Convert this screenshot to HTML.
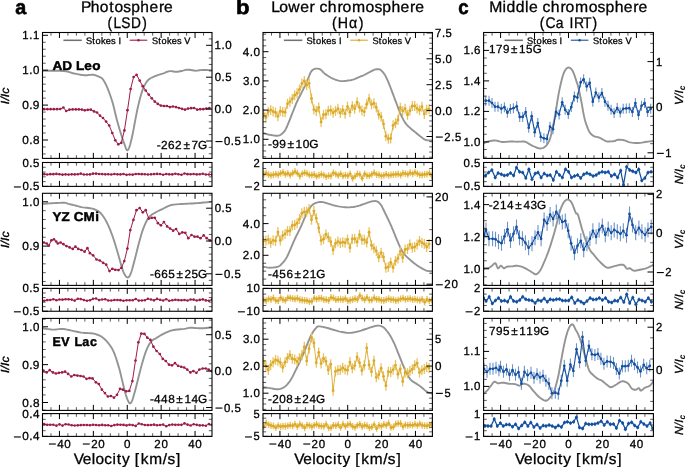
<!DOCTYPE html>
<html><head><meta charset="utf-8"><style>html,body{margin:0;padding:0;background:#fff;width:685px;height:467px;overflow:hidden}svg{will-change:transform}text{-webkit-font-smoothing:antialiased;text-rendering:geometricPrecision}</style></head>
<body>
<svg width="685" height="467" viewBox="0 0 685 467" style="display:block;font-family:'Liberation Sans', sans-serif">
<rect width="685" height="467" fill="#fff"/>
<defs>
<clipPath id="cp_a_m1"><rect x="42.5" y="32.5" width="169.5" height="125.9"/></clipPath>
<clipPath id="cp_a_n1"><rect x="42.5" y="162.5" width="169.5" height="23.9"/></clipPath>
<clipPath id="cp_a_m2"><rect x="42.5" y="193.3" width="169.5" height="92.1"/></clipPath>
<clipPath id="cp_a_n2"><rect x="42.5" y="288.4" width="169.5" height="22.85"/></clipPath>
<clipPath id="cp_a_m3"><rect x="42.5" y="318.4" width="169.5" height="92"/></clipPath>
<clipPath id="cp_a_n3"><rect x="42.5" y="413.6" width="169.5" height="22.8"/></clipPath>
<clipPath id="cp_b_m1"><rect x="263" y="32.5" width="169.4" height="125.9"/></clipPath>
<clipPath id="cp_b_n1"><rect x="263" y="162.5" width="169.4" height="23.9"/></clipPath>
<clipPath id="cp_b_m2"><rect x="263" y="193.3" width="169.4" height="92.1"/></clipPath>
<clipPath id="cp_b_n2"><rect x="263" y="288.4" width="169.4" height="22.85"/></clipPath>
<clipPath id="cp_b_m3"><rect x="263" y="318.4" width="169.4" height="92"/></clipPath>
<clipPath id="cp_b_n3"><rect x="263" y="413.6" width="169.4" height="22.8"/></clipPath>
<clipPath id="cp_c_m1"><rect x="483.6" y="32.5" width="169.8" height="125.9"/></clipPath>
<clipPath id="cp_c_n1"><rect x="483.6" y="162.5" width="169.8" height="23.9"/></clipPath>
<clipPath id="cp_c_m2"><rect x="483.6" y="193.3" width="169.8" height="92.1"/></clipPath>
<clipPath id="cp_c_n2"><rect x="483.6" y="288.4" width="169.8" height="22.85"/></clipPath>
<clipPath id="cp_c_m3"><rect x="483.6" y="318.4" width="169.8" height="92"/></clipPath>
<clipPath id="cp_c_n3"><rect x="483.6" y="413.6" width="169.8" height="22.8"/></clipPath>
</defs>
<polyline clip-path="url(#cp_a_m1)" points="42.5,70.7 45.51,70.71 49.84,70.69 54.77,70.71 59.54,70.79 63.4,71 66.19,71.37 68.41,71.88 70.31,72.45 72.12,73.02 74.1,73.5 76.27,73.92 78.48,74.34 80.67,74.71 82.79,75.01 84.8,75.2 86.69,75.21 88.5,75.06 90.22,74.87 91.85,74.74 93.4,74.8 94.87,75.09 96.27,75.52 97.58,76.04 98.76,76.59 99.8,77.1 100.63,77.49 101.26,77.79 101.8,78.14 102.35,78.67 103,79.5 103.76,80.63 104.56,81.96 105.41,83.52 106.29,85.33 107.2,87.4 108.18,89.8 109.22,92.53 110.29,95.47 111.33,98.52 112.3,101.6 113.19,104.76 114.02,108.07 114.82,111.43 115.6,114.74 116.4,117.9 117.2,120.91 118,123.83 118.8,126.66 119.6,129.42 120.4,132.1 121.24,134.77 122.1,137.43 122.96,139.97 123.77,142.3 124.5,144.3 125.12,146.04 125.65,147.58 126.14,148.84 126.61,149.74 127.1,150.2 127.6,150.2 128.08,149.78 128.57,148.99 129.07,147.85 129.6,146.4 130.17,144.56 130.76,142.32 131.37,139.78 131.99,137.04 132.6,134.2 133.22,131.17 133.84,127.88 134.46,124.47 135.08,121.1 135.7,117.9 136.29,114.91 136.85,112.03 137.43,109.22 138.03,106.42 138.7,103.6 139.43,100.67 140.21,97.67 141.04,94.71 141.9,91.91 142.8,89.4 143.72,87.17 144.67,85.15 145.67,83.34 146.74,81.72 147.9,80.3 149.17,79.14 150.53,78.24 151.97,77.51 153.46,76.86 155,76.2 156.63,75.53 158.36,74.92 160.12,74.35 161.83,73.82 163.4,73.3 164.81,72.77 166.1,72.23 167.34,71.74 168.55,71.34 169.8,71.1 171.08,71.08 172.36,71.26 173.63,71.51 174.91,71.73 176.2,71.8 177.51,71.7 178.85,71.49 180.18,71.23 181.48,70.95 182.7,70.7 183.8,70.44 184.8,70.15 185.78,69.88 186.82,69.68 188,69.6 189.38,69.71 190.89,69.97 192.47,70.28 194.03,70.56 195.5,70.7 196.81,70.66 198,70.5 199.2,70.29 200.49,70.1 202,70 203.94,70 206.23,70.06 208.55,70.15 210.58,70.24 212,70.3" fill="none" stroke="#949494" stroke-width="1.9" stroke-linejoin="round"/>
<polyline clip-path="url(#cp_a_m2)" points="42.5,203.9 43.65,203.82 45.23,203.7 47.13,203.56 49.23,203.42 51.4,203.3 53.85,203.17 56.65,203.02 59.5,202.88 62.12,202.8 64.2,202.8 65.57,202.91 66.43,203.11 67.04,203.35 67.64,203.63 68.5,203.9 69.64,204.17 70.9,204.46 72.23,204.77 73.58,205.08 74.9,205.4 76.16,205.74 77.4,206.09 78.65,206.45 79.97,206.8 81.4,207.1 83.03,207.36 84.82,207.57 86.65,207.77 88.39,207.98 89.9,208.2 91.13,208.41 92.15,208.59 93.07,208.79 93.99,209.08 95,209.5 96.12,210.02 97.27,210.6 98.45,211.31 99.63,212.19 100.8,213.3 101.96,214.65 103.12,216.2 104.29,217.94 105.45,219.87 106.6,222 107.76,224.36 108.93,226.96 110.08,229.73 111.21,232.6 112.3,235.5 113.35,238.49 114.37,241.61 115.36,244.79 116.3,247.91 117.2,250.9 118.04,253.8 118.84,256.67 119.6,259.44 120.32,262.04 121,264.4 121.63,266.5 122.2,268.39 122.74,270.09 123.3,271.62 123.9,273 124.57,274.29 125.27,275.48 125.99,276.47 126.71,277.18 127.4,277.5 128.05,277.47 128.67,277.16 129.28,276.5 129.92,275.47 130.6,274 131.34,271.97 132.11,269.41 132.91,266.52 133.71,263.48 134.5,260.5 135.28,257.51 136.06,254.39 136.85,251.21 137.63,248.09 138.4,245.1 139.16,242.22 139.92,239.38 140.68,236.63 141.44,234.02 142.2,231.6 142.98,229.37 143.76,227.3 144.54,225.38 145.32,223.61 146.1,222 146.85,220.56 147.57,219.29 148.3,218.16 149.06,217.15 149.9,216.2 150.78,215.38 151.67,214.7 152.63,214.09 153.7,213.48 154.9,212.8 156.28,212.04 157.82,211.23 159.45,210.41 161.13,209.6 162.8,208.8 164.41,207.98 165.99,207.14 167.62,206.32 169.4,205.58 171.4,205 173.72,204.6 176.32,204.34 179.03,204.17 181.71,204.04 184.2,203.9 186.47,203.75 188.63,203.64 190.71,203.54 192.79,203.43 194.9,203.3 197.13,203.13 199.43,202.95 201.7,202.75 203.83,202.57 205.7,202.4 207.35,202.25 208.85,202.11 210.15,201.98 211.22,201.88 212,201.8" fill="none" stroke="#949494" stroke-width="1.9" stroke-linejoin="round"/>
<polyline clip-path="url(#cp_a_m3)" points="42.5,328.3 44.03,328.51 46.22,328.82 48.74,329.16 51.28,329.45 53.5,329.6 55.37,329.55 57.11,329.36 58.78,329.12 60.42,328.93 62.1,328.9 63.79,329.05 65.44,329.31 67.11,329.64 68.85,330.02 70.7,330.4 72.74,330.82 74.93,331.31 77.18,331.8 79.37,332.25 81.4,332.6 83.3,332.82 85.12,332.95 86.85,333.03 88.45,333.1 89.9,333.2 91.11,333.3 92.1,333.36 92.99,333.45 93.92,333.61 95,333.9 96.27,334.29 97.64,334.75 99.06,335.32 100.5,336.02 101.9,336.9 103.29,337.99 104.7,339.26 106.1,340.67 107.44,342.16 108.7,343.7 109.84,345.2 110.9,346.68 111.9,348.28 112.89,350.12 113.9,352.3 114.95,354.97 116.03,358.05 117.09,361.34 118.09,364.62 119,367.7 119.79,370.55 120.48,373.3 121.11,376 121.74,378.69 122.4,381.4 123.1,384.23 123.8,387.16 124.5,390.04 125.2,392.74 125.9,395.1 126.6,397.19 127.31,399.11 128,400.75 128.67,402.05 129.3,402.9 129.86,403.3 130.36,403.32 130.84,402.95 131.34,402.21 131.9,401.1 132.51,399.57 133.16,397.62 133.84,395.32 134.55,392.75 135.3,390 136.1,386.94 136.96,383.52 137.84,379.91 138.73,376.31 139.6,372.9 140.46,369.63 141.32,366.37 142.19,363.21 143.05,360.19 143.9,357.4 144.74,354.82 145.58,352.4 146.42,350.16 147.26,348.12 148.1,346.3 148.97,344.7 149.87,343.33 150.76,342.15 151.62,341.14 152.4,340.3 153.06,339.71 153.63,339.39 154.17,339.19 154.76,338.97 155.5,338.6 156.39,338.04 157.37,337.39 158.43,336.69 159.55,335.98 160.7,335.3 161.9,334.64 163.17,333.96 164.48,333.3 165.8,332.67 167.1,332.1 168.31,331.59 169.45,331.13 170.63,330.72 171.94,330.34 173.5,330 175.43,329.72 177.67,329.49 180.02,329.29 182.26,329.1 184.2,328.9 185.7,328.65 186.9,328.38 188,328.12 189.2,327.92 190.7,327.8 192.57,327.82 194.68,327.95 196.93,328.12 199.2,328.26 201.4,328.3 203.7,328.2 206.16,328 208.53,327.76 210.56,327.54 212,327.4" fill="none" stroke="#949494" stroke-width="1.9" stroke-linejoin="round"/>
<polyline clip-path="url(#cp_b_m1)" points="263.2,133.2 264.06,133.43 265.27,133.76 266.7,134.13 268.22,134.5 269.7,134.8 271.22,135.06 272.88,135.33 274.54,135.55 276.08,135.68 277.4,135.7 278.42,135.59 279.24,135.39 279.93,135.09 280.59,134.69 281.3,134.2 282.06,133.65 282.82,133.04 283.58,132.31 284.34,131.42 285.1,130.3 285.88,128.9 286.66,127.25 287.44,125.44 288.22,123.57 289,121.7 289.76,119.83 290.52,117.89 291.28,115.93 292.04,113.95 292.8,112 293.58,110.04 294.36,108.06 295.14,106.1 295.92,104.2 296.7,102.4 297.46,100.74 298.22,99.18 298.98,97.69 299.74,96.21 300.5,94.7 301.28,93.18 302.06,91.67 302.84,90.15 303.62,88.6 304.4,87 305.18,85.29 305.97,83.5 306.75,81.68 307.5,79.93 308.2,78.3 308.84,76.76 309.42,75.27 309.98,73.87 310.53,72.63 311.1,71.6 311.68,70.82 312.25,70.24 312.82,69.82 313.4,69.5 314,69.2 314.62,68.94 315.25,68.75 315.9,68.64 316.55,68.59 317.2,68.6 317.84,68.65 318.48,68.75 319.12,68.92 319.79,69.2 320.5,69.6 321.24,70.19 322,70.93 322.79,71.77 323.62,72.61 324.5,73.4 325.44,74.13 326.43,74.86 327.46,75.57 328.52,76.26 329.6,76.9 330.7,77.51 331.83,78.1 332.98,78.64 334.14,79.15 335.3,79.6 336.45,80.01 337.61,80.38 338.78,80.69 339.94,80.94 341.1,81.1 342.26,81.15 343.42,81.11 344.58,80.99 345.74,80.85 346.9,80.7 348.06,80.56 349.22,80.41 350.38,80.23 351.54,80 352.7,79.7 353.86,79.31 355.02,78.84 356.19,78.32 357.35,77.8 358.5,77.3 359.64,76.85 360.78,76.41 361.92,75.97 363.06,75.51 364.2,75 365.37,74.42 366.56,73.78 367.75,73.12 368.9,72.48 370,71.9 371.05,71.36 372.07,70.83 373.04,70.34 373.96,69.93 374.8,69.6 375.55,69.38 376.22,69.25 376.83,69.18 377.42,69.17 378,69.2 378.55,69.22 379.06,69.26 379.56,69.36 380.09,69.58 380.7,70 381.42,70.64 382.22,71.48 383.05,72.44 383.86,73.46 384.6,74.5 385.25,75.55 385.84,76.64 386.4,77.78 386.94,78.97 387.5,80.2 388.06,81.48 388.62,82.8 389.18,84.16 389.74,85.56 390.3,87 390.87,88.48 391.45,90.02 392.04,91.58 392.62,93.15 393.2,94.7 393.78,96.24 394.36,97.78 394.94,99.32 395.52,100.86 396.1,102.4 396.68,103.96 397.26,105.53 397.84,107.09 398.42,108.62 399,110.1 399.56,111.5 400.11,112.85 400.67,114.16 401.26,115.47 401.9,116.8 402.6,118.19 403.34,119.61 404.13,121.02 404.95,122.37 405.8,123.6 406.7,124.7 407.66,125.71 408.64,126.64 409.63,127.53 410.6,128.4 411.54,129.22 412.47,129.98 413.41,130.72 414.38,131.48 415.4,132.3 416.51,133.23 417.7,134.25 418.9,135.27 420.09,136.25 421.2,137.1 422.2,137.84 423.12,138.51 424.01,139.1 424.95,139.6 426,140 427.28,140.26 428.75,140.4 430.22,140.45 431.5,140.47 432.4,140.5" fill="none" stroke="#949494" stroke-width="1.9" stroke-linejoin="round"/>
<polyline clip-path="url(#cp_b_m2)" points="263.2,266.7 264.11,266.87 265.38,267.12 266.87,267.4 268.46,267.61 270,267.7 271.57,267.66 273.27,267.54 274.97,267.34 276.55,267.06 277.9,266.7 278.95,266.26 279.78,265.74 280.49,265.14 281.16,264.46 281.9,263.7 282.72,262.84 283.55,261.89 284.37,260.86 285.16,259.79 285.9,258.7 286.56,257.6 287.17,256.46 287.75,255.28 288.32,254.06 288.9,252.8 289.5,251.47 290.1,250.08 290.7,248.65 291.3,247.22 291.9,245.8 292.5,244.38 293.1,242.95 293.7,241.53 294.3,240.14 294.9,238.8 295.5,237.53 296.1,236.32 296.71,235.14 297.31,233.98 297.9,232.8 298.48,231.63 299.06,230.49 299.64,229.33 300.22,228.15 300.8,226.9 301.39,225.57 301.99,224.18 302.6,222.75 303.2,221.32 303.8,219.9 304.4,218.47 305,217 305.6,215.56 306.2,214.17 306.8,212.9 307.4,211.74 308,210.67 308.6,209.68 309.2,208.76 309.8,207.9 310.38,207.11 310.95,206.4 311.53,205.74 312.14,205.15 312.8,204.6 313.52,204.09 314.28,203.64 315.08,203.24 315.92,202.89 316.8,202.6 317.75,202.36 318.77,202.18 319.81,202.06 320.84,202 321.8,202 322.63,202.08 323.36,202.22 324.08,202.42 324.93,202.68 326,203 327.36,203.4 328.93,203.9 330.62,204.44 332.35,204.96 334,205.4 335.58,205.78 337.16,206.12 338.74,206.42 340.32,206.68 341.9,206.9 343.5,207.08 345.1,207.22 346.7,207.32 348.3,207.35 349.9,207.3 351.48,207.17 353.06,206.96 354.64,206.7 356.22,206.37 357.8,206 359.43,205.55 361.09,205.02 362.74,204.46 364.33,203.9 365.8,203.4 367.14,202.93 368.38,202.46 369.55,202.03 370.68,201.66 371.8,201.4 372.91,201.21 374,201.08 375.04,201.04 376.05,201.14 377,201.4 377.88,201.82 378.69,202.37 379.46,203.08 380.22,203.95 381,205 381.8,206.3 382.6,207.85 383.41,209.53 384.21,211.24 385,212.9 385.78,214.48 386.56,216.04 387.34,217.62 388.12,219.23 388.9,220.9 389.69,222.62 390.49,224.38 391.3,226.19 392.1,228.03 392.9,229.9 393.7,231.84 394.5,233.84 395.3,235.86 396.1,237.86 396.9,239.8 397.7,241.71 398.5,243.61 399.3,245.46 400.1,247.21 400.9,248.8 401.7,250.23 402.5,251.52 403.3,252.7 404.1,253.78 404.9,254.8 405.67,255.7 406.41,256.46 407.16,257.16 407.98,257.88 408.9,258.7 409.96,259.65 411.12,260.67 412.34,261.72 413.58,262.75 414.8,263.7 415.99,264.58 417.19,265.42 418.4,266.22 419.6,266.98 420.8,267.7 422.01,268.4 423.22,269.09 424.43,269.72 425.63,270.27 426.8,270.7 428.04,270.98 429.34,271.14 430.58,271.22 431.64,271.26 432.4,271.3" fill="none" stroke="#949494" stroke-width="1.9" stroke-linejoin="round"/>
<polyline clip-path="url(#cp_b_m3)" points="263.2,387.3 264.11,387.4 265.38,387.54 266.87,387.71 268.46,387.9 270,388.1 271.54,388.37 273.17,388.7 274.82,389.03 276.42,389.26 277.9,389.3 279.25,389.13 280.53,388.81 281.74,388.37 282.86,387.85 283.9,387.3 284.83,386.72 285.64,386.09 286.4,385.38 287.13,384.59 287.9,383.7 288.7,382.7 289.5,381.61 290.3,380.42 291.1,379.15 291.9,377.8 292.7,376.33 293.5,374.75 294.31,373.1 295.11,371.43 295.9,369.8 296.68,368.21 297.46,366.64 298.24,365.06 299.02,363.46 299.8,361.8 300.59,360.1 301.39,358.36 302.2,356.58 303,354.76 303.8,352.9 304.6,350.95 305.4,348.93 306.2,346.88 307,344.85 307.8,342.9 308.6,340.98 309.4,339.06 310.2,337.2 311,335.46 311.8,333.9 312.62,332.52 313.46,331.28 314.29,330.18 315.08,329.22 315.8,328.4 316.35,327.72 316.74,327.19 317.14,326.8 317.67,326.54 318.5,326.4 319.68,326.42 321.13,326.59 322.73,326.88 324.39,327.23 326,327.6 327.57,328.01 329.17,328.49 330.78,329.01 332.4,329.53 334,330 335.58,330.44 337.16,330.88 338.74,331.3 340.32,331.68 341.9,332 343.5,332.29 345.1,332.55 346.7,332.76 348.3,332.88 349.9,332.9 351.48,332.78 353.06,332.56 354.64,332.25 356.22,331.89 357.8,331.5 359.43,331.06 361.09,330.56 362.74,330.02 364.33,329.49 365.8,329 367.12,328.56 368.33,328.14 369.48,327.73 370.62,327.35 371.8,327 373.05,326.64 374.32,326.26 375.6,325.93 376.83,325.69 378,325.6 379.09,325.66 380.14,325.83 381.14,326.12 382.09,326.51 383,327 383.85,327.6 384.63,328.32 385.39,329.14 386.13,330.04 386.9,331 387.69,332.02 388.49,333.12 389.3,334.3 390.1,335.56 390.9,336.9 391.7,338.33 392.5,339.85 393.3,341.46 394.1,343.14 394.9,344.9 395.7,346.77 396.5,348.76 397.3,350.81 398.1,352.87 398.9,354.9 399.7,356.9 400.5,358.91 401.3,360.91 402.1,362.88 402.9,364.8 403.7,366.71 404.5,368.61 405.31,370.46 406.11,372.21 406.9,373.8 407.68,375.24 408.46,376.56 409.24,377.77 410.02,378.85 410.8,379.8 411.56,380.56 412.3,381.13 413.05,381.61 413.87,382.1 414.8,382.7 415.87,383.41 417.06,384.17 418.3,384.98 419.57,385.82 420.8,386.7 422.01,387.68 423.22,388.77 424.43,389.87 425.63,390.88 426.8,391.7 428.04,392.32 429.34,392.81 430.58,393.19 431.64,393.48 432.4,393.7" fill="none" stroke="#949494" stroke-width="1.9" stroke-linejoin="round"/>
<polyline clip-path="url(#cp_c_m1)" points="483.6,143.5 484.07,143.25 484.71,142.88 485.49,142.46 486.43,142.05 487.5,141.7 488.77,141.38 490.24,141.05 491.83,140.76 493.44,140.56 495,140.5 496.5,140.66 498,141 499.5,141.41 501,141.78 502.5,142 504,142.02 505.5,141.91 507,141.75 508.5,141.59 510,141.5 511.5,141.5 513,141.54 514.5,141.6 516,141.66 517.5,141.7 519.05,141.67 520.64,141.59 522.22,141.53 523.69,141.54 525,141.7 526.09,142.04 527.01,142.53 527.84,143.09 528.64,143.67 529.5,144.2 530.39,144.68 531.26,145.15 532.15,145.61 533.08,146.06 534.1,146.5 535.24,146.98 536.48,147.51 537.76,148 539.02,148.36 540.2,148.5 541.3,148.42 542.36,148.19 543.38,147.79 544.36,147.23 545.3,146.5 546.2,145.61 547.06,144.56 547.89,143.33 548.67,141.92 549.4,140.3 550.07,138.48 550.67,136.46 551.25,134.25 551.81,131.83 552.4,129.2 553.02,126.3 553.64,123.15 554.26,119.81 554.88,116.37 555.5,112.9 556.1,109.3 556.7,105.53 557.3,101.73 557.9,98.04 558.5,94.6 559.12,91.4 559.74,88.34 560.36,85.45 560.98,82.76 561.6,80.3 562.19,78.06 562.76,76.03 563.34,74.2 563.94,72.59 564.6,71.2 565.32,70 566.08,68.98 566.87,68.19 567.68,67.68 568.5,67.5 569.34,67.65 570.21,68.09 571.08,68.82 571.95,69.86 572.8,71.2 573.66,73.08 574.55,75.49 575.41,78.08 576.18,80.5 576.8,82.4 577.2,83.5 577.43,84.02 577.58,84.4 577.77,85.06 578.1,86.4 578.61,88.57 579.22,91.28 579.88,94.34 580.56,97.55 581.2,100.7 581.8,103.93 582.4,107.37 583,110.83 583.6,114.1 584.2,117 584.82,119.48 585.44,121.68 586.06,123.65 586.68,125.44 587.3,127.1 587.89,128.62 588.45,129.97 589.03,131.17 589.63,132.24 590.3,133.2 591.05,134.05 591.86,134.76 592.71,135.36 593.56,135.86 594.4,136.3 595.22,136.62 596.04,136.8 596.87,136.93 597.69,137.07 598.5,137.3 599.3,137.63 600.1,138.02 600.9,138.44 601.7,138.88 602.5,139.3 603.31,139.75 604.13,140.23 604.96,140.71 605.78,141.11 606.6,141.4 607.42,141.54 608.24,141.57 609.06,141.53 609.88,141.46 610.7,141.4 611.53,141.36 612.38,141.31 613.22,141.24 614.03,141.14 614.8,141 615.47,140.77 616.04,140.45 616.62,140.13 617.27,139.85 618.1,139.7 619.14,139.67 620.34,139.73 621.63,139.86 622.94,140.05 624.2,140.3 625.39,140.65 626.54,141.1 627.71,141.6 628.95,142.05 630.3,142.4 631.81,142.64 633.43,142.83 635.13,142.96 636.83,143.02 638.5,143 640.15,142.87 641.81,142.63 643.46,142.34 645.06,142.04 646.6,141.8 648.15,141.6 649.74,141.41 651.23,141.24 652.5,141.1 653.4,141" fill="none" stroke="#949494" stroke-width="1.9" stroke-linejoin="round"/>
<polyline clip-path="url(#cp_c_m2)" points="483.6,268.3 484.37,268.24 485.49,268.17 486.75,268.07 487.99,267.92 489,267.7 489.75,267.4 490.35,267.02 490.89,266.6 491.41,266.15 492,265.7 492.67,265.13 493.37,264.41 494.08,263.75 494.76,263.31 495.4,263.3 495.97,263.95 496.48,265.13 496.98,266.49 497.47,267.67 498,268.3 498.56,268.18 499.13,267.56 499.72,266.73 500.31,266.01 500.9,265.7 501.49,265.95 502.09,266.57 502.7,267.31 503.3,267.97 503.9,268.3 504.45,268.23 504.96,267.9 505.48,267.46 506.11,267.01 506.9,266.7 507.94,266.55 509.18,266.46 510.5,266.42 511.78,266.37 512.9,266.3 513.8,266.16 514.55,265.98 515.26,265.81 516.01,265.7 516.9,265.7 517.97,265.83 519.17,266.06 520.41,266.36 521.65,266.71 522.8,267.1 523.87,267.54 524.9,268.05 525.9,268.6 526.87,269.16 527.8,269.7 528.69,270.23 529.55,270.77 530.37,271.3 531.19,271.82 532,272.3 532.81,272.83 533.61,273.41 534.41,273.93 535.2,274.27 536,274.3 536.8,274.01 537.6,273.47 538.41,272.73 539.21,271.79 540,270.7 540.78,269.41 541.56,267.91 542.34,266.25 543.12,264.49 543.9,262.7 544.69,260.88 545.49,258.98 546.3,257 547.1,254.94 547.9,252.8 548.7,250.56 549.5,248.24 550.3,245.84 551.1,243.36 551.9,240.8 552.72,238.11 553.55,235.29 554.37,232.41 555.16,229.59 555.9,226.9 556.56,224.33 557.17,221.82 557.75,219.39 558.32,217.08 558.9,214.9 559.5,212.84 560.1,210.89 560.7,209.06 561.3,207.39 561.9,205.9 562.5,204.6 563.09,203.48 563.68,202.51 564.28,201.69 564.9,201 565.54,200.42 566.18,199.96 566.84,199.65 567.52,199.52 568.2,199.6 568.89,199.87 569.6,200.3 570.32,200.94 571.05,201.83 571.8,203 572.6,204.69 573.46,206.87 574.31,209.2 575.11,211.32 575.8,212.9 576.33,213.61 576.72,213.69 577.08,213.62 577.47,213.86 578,214.9 578.69,216.97 579.48,219.74 580.32,222.88 581.18,226.04 582,228.9 582.78,231.46 583.56,233.95 584.34,236.35 585.12,238.64 585.9,240.8 586.69,242.85 587.49,244.8 588.3,246.63 589.1,248.3 589.9,249.8 590.7,251.06 591.5,252.09 592.3,253 593.1,253.87 593.9,254.8 594.7,255.8 595.5,256.81 596.3,257.81 597.1,258.78 597.9,259.7 598.7,260.57 599.5,261.39 600.3,262.19 601.1,262.95 601.9,263.7 602.72,264.46 603.55,265.24 604.38,265.97 605.17,266.61 605.9,267.1 606.52,267.43 607.04,267.64 607.54,267.74 608.1,267.75 608.8,267.7 609.71,267.54 610.78,267.25 611.9,266.9 612.95,266.56 613.8,266.3 614.34,266.14 614.65,266.02 614.91,265.93 615.3,265.83 616,265.7 617.14,265.45 618.6,265.09 620.19,264.76 621.72,264.59 623,264.7 623.99,265.25 624.83,266.15 625.55,267.18 626.23,268.1 626.9,268.7 627.54,268.86 628.12,268.72 628.67,268.47 629.25,268.27 629.9,268.3 630.6,268.66 631.33,269.22 632.11,269.85 632.96,270.39 633.9,270.7 634.97,270.72 636.16,270.56 637.4,270.29 638.67,269.98 639.9,269.7 641.1,269.46 642.3,269.23 643.51,268.97 644.71,268.66 645.9,268.3 647.16,267.83 648.47,267.28 649.75,266.7 650.9,266.15 651.8,265.7 652.42,265.35 652.83,265.06 653.08,264.83 653.25,264.64 653.4,264.5" fill="none" stroke="#949494" stroke-width="1.9" stroke-linejoin="round"/>
<polyline clip-path="url(#cp_c_m3)" points="483.6,393.7 484.05,393.32 484.69,392.81 485.43,392.19 486.23,391.48 487,390.7 487.77,389.81 488.59,388.8 489.41,387.72 490.23,386.67 491,385.7 491.72,384.75 492.39,383.76 493.05,382.85 493.72,382.13 494.4,381.7 495.09,381.7 495.76,382.04 496.46,382.55 497.19,383.03 498,383.3 498.88,383.3 499.81,383.14 500.8,382.93 501.83,382.75 502.9,382.7 504.03,382.81 505.22,383.01 506.45,383.27 507.68,383.51 508.9,383.7 510.12,383.8 511.35,383.85 512.57,383.88 513.76,383.95 514.9,384.1 516,384.4 517.07,384.83 518.1,385.26 519.05,385.59 519.9,385.7 520.57,385.47 521.08,384.99 521.55,384.42 522.08,383.93 522.8,383.7 523.75,383.7 524.85,383.81 526.03,384.07 527.24,384.52 528.4,385.2 529.51,386.19 530.62,387.46 531.73,388.9 532.85,390.35 534,391.7 535.18,392.98 536.38,394.28 537.59,395.54 538.8,396.7 540,397.7 541.22,398.59 542.46,399.4 543.68,400.08 544.84,400.53 545.9,400.7 546.82,400.53 547.64,400.08 548.39,399.4 549.13,398.59 549.9,397.7 550.7,396.82 551.5,395.9 552.3,394.81 553.1,393.45 553.9,391.7 554.72,389.46 555.55,386.81 556.37,383.89 557.16,380.84 557.9,377.8 558.56,374.73 559.17,371.55 559.75,368.29 560.32,365.03 560.9,361.8 561.5,358.55 562.1,355.25 562.71,351.97 563.31,348.83 563.9,345.9 564.48,343.18 565.06,340.6 565.64,338.19 566.22,335.95 566.8,333.9 567.39,332.02 567.99,330.31 568.6,328.78 569.2,327.47 569.8,326.4 570.4,325.54 571,324.88 571.6,324.46 572.2,324.32 572.8,324.5 573.41,325.15 574.04,326.24 574.66,327.56 575.25,328.88 575.8,330 576.28,330.82 576.7,331.48 577.1,332.12 577.52,332.88 578,333.9 578.53,335.14 579.1,336.52 579.7,338.08 580.33,339.86 581,341.9 581.72,344.3 582.49,347.03 583.29,349.95 584.1,352.92 584.9,355.8 585.69,358.74 586.49,361.82 587.3,364.84 588.1,367.57 588.9,369.8 589.68,371.39 590.45,372.5 591.23,373.3 592.04,374.01 592.9,374.8 593.85,375.7 594.88,376.57 595.92,377.4 596.95,378.15 597.9,378.8 598.75,379.28 599.52,379.61 600.28,379.89 601.05,380.22 601.9,380.7 602.85,381.39 603.88,382.22 604.93,383.11 605.95,383.96 606.9,384.7 607.73,385.38 608.48,386.05 609.2,386.63 609.95,387.04 610.8,387.2 611.74,387.03 612.75,386.6 613.8,386 614.89,385.34 616,384.7 617.15,383.99 618.35,383.15 619.57,382.31 620.79,381.65 622,381.3 623.22,381.3 624.46,381.55 625.68,382 626.84,382.6 627.9,383.3 628.82,384.23 629.64,385.43 630.39,386.69 631.13,387.85 631.9,388.7 632.72,389.22 633.55,389.54 634.37,389.7 635.16,389.74 635.9,389.7 636.58,389.48 637.22,389.05 637.82,388.56 638.38,388.19 638.9,388.1 639.33,388.44 639.68,389.11 640,389.86 640.39,390.47 640.9,390.7 641.56,390.44 642.31,389.86 643.14,389.1 644.01,388.33 644.9,387.7 645.84,387.28 646.86,386.95 647.89,386.63 648.89,386.24 649.8,385.7 650.66,384.89 651.51,383.86 652.28,382.8 652.93,381.85 653.4,381.2" fill="none" stroke="#949494" stroke-width="1.9" stroke-linejoin="round"/>
<g clip-path="url(#cp_a_m1)"><polyline points="44.1,109.2 47.4,109.2 50.6,109.2 53.8,109.2 57,109.2 60.2,109 63.4,107.5 66.2,111 69.4,109.7 72.6,109.4 75.8,109.4 78.8,109.4 81.8,109.6 84.8,110.3 87.8,109.8 90.8,109.7 94,111.4 97,112.5 100,115.7 103,118 106.1,121.6 109.2,125.5 112.3,133 115.3,140.3 118.3,144.3 121.3,142.8 124.4,130.4 127.5,110.2 130.6,89 133.6,77 136.6,74.8 139.7,80.6 142.7,86.2 145.7,90.5 148.7,94.6 151.8,98.3 154.8,101.7 157.8,103.9 160.8,105.6 163.9,106 166.9,106 169.9,107.1 172.9,106.5 176,107.1 179,108 182,108.8 185,109.7 188,108.6 191.1,108.2 194.1,108 197.2,109.7 200.2,109.2 203.3,109.2 206.3,108.6 209.4,108.2" fill="none" stroke="#9c1c48" stroke-width="1.0" stroke-linejoin="round"/><g fill="#9c1c48"><circle cx="44.1" cy="109.2" r="1.35"/><circle cx="47.4" cy="109.2" r="1.35"/><circle cx="50.6" cy="109.2" r="1.35"/><circle cx="53.8" cy="109.2" r="1.35"/><circle cx="57" cy="109.2" r="1.35"/><circle cx="60.2" cy="109" r="1.35"/><circle cx="63.4" cy="107.5" r="1.35"/><circle cx="66.2" cy="111" r="1.35"/><circle cx="69.4" cy="109.7" r="1.35"/><circle cx="72.6" cy="109.4" r="1.35"/><circle cx="75.8" cy="109.4" r="1.35"/><circle cx="78.8" cy="109.4" r="1.35"/><circle cx="81.8" cy="109.6" r="1.35"/><circle cx="84.8" cy="110.3" r="1.35"/><circle cx="87.8" cy="109.8" r="1.35"/><circle cx="90.8" cy="109.7" r="1.35"/><circle cx="94" cy="111.4" r="1.35"/><circle cx="97" cy="112.5" r="1.35"/><circle cx="100" cy="115.7" r="1.35"/><circle cx="103" cy="118" r="1.35"/><circle cx="106.1" cy="121.6" r="1.35"/><circle cx="109.2" cy="125.5" r="1.35"/><circle cx="112.3" cy="133" r="1.35"/><circle cx="115.3" cy="140.3" r="1.35"/><circle cx="118.3" cy="144.3" r="1.35"/><circle cx="121.3" cy="142.8" r="1.35"/><circle cx="124.4" cy="130.4" r="1.35"/><circle cx="127.5" cy="110.2" r="1.35"/><circle cx="130.6" cy="89" r="1.35"/><circle cx="133.6" cy="77" r="1.35"/><circle cx="136.6" cy="74.8" r="1.35"/><circle cx="139.7" cy="80.6" r="1.35"/><circle cx="142.7" cy="86.2" r="1.35"/><circle cx="145.7" cy="90.5" r="1.35"/><circle cx="148.7" cy="94.6" r="1.35"/><circle cx="151.8" cy="98.3" r="1.35"/><circle cx="154.8" cy="101.7" r="1.35"/><circle cx="157.8" cy="103.9" r="1.35"/><circle cx="160.8" cy="105.6" r="1.35"/><circle cx="163.9" cy="106" r="1.35"/><circle cx="166.9" cy="106" r="1.35"/><circle cx="169.9" cy="107.1" r="1.35"/><circle cx="172.9" cy="106.5" r="1.35"/><circle cx="176" cy="107.1" r="1.35"/><circle cx="179" cy="108" r="1.35"/><circle cx="182" cy="108.8" r="1.35"/><circle cx="185" cy="109.7" r="1.35"/><circle cx="188" cy="108.6" r="1.35"/><circle cx="191.1" cy="108.2" r="1.35"/><circle cx="194.1" cy="108" r="1.35"/><circle cx="197.2" cy="109.7" r="1.35"/><circle cx="200.2" cy="109.2" r="1.35"/><circle cx="203.3" cy="109.2" r="1.35"/><circle cx="206.3" cy="108.6" r="1.35"/><circle cx="209.4" cy="108.2" r="1.35"/></g></g>
<g clip-path="url(#cp_a_m2)"><polyline points="43.9,242.5 46.7,243.5 48.8,245.7 51.4,240.3 54,239.3 56.2,241.5 57.8,243.5 60.6,242.5 63.4,244.2 66.4,246.1 69.6,247.4 72.8,248.9 75.4,246.7 78.2,248.9 81.4,250 84.6,251.7 87.4,248.2 89.9,253.2 93.1,255.3 96.5,259.5 99.8,260.5 103.1,262.8 106.2,264.7 109.5,271.1 112.3,268.8 115.2,269.8 118.5,270.1 121.4,267.8 124.3,261.1 127.4,248.6 130.3,230.1 133.4,219.9 136.5,210.2 139.7,208 142.8,212.3 145.7,210.2 148.8,218.6 151.8,217.8 154.8,217.8 157.9,223.2 160.9,225.3 163.9,222.1 167.1,226.4 170.1,228.5 173.1,230.7 176.1,229 179.3,233.9 182.3,232.4 185.3,232.8 188.3,238.2 191.5,235 194.5,236.7 197.5,236.7 200.5,238.2 203.7,235.4 206.7,238.2 209.9,240.3" fill="none" stroke="#9c1c48" stroke-width="1.0" stroke-linejoin="round"/><g fill="#9c1c48"><circle cx="43.9" cy="242.5" r="1.35"/><circle cx="46.7" cy="243.5" r="1.35"/><circle cx="48.8" cy="245.7" r="1.35"/><circle cx="51.4" cy="240.3" r="1.35"/><circle cx="54" cy="239.3" r="1.35"/><circle cx="56.2" cy="241.5" r="1.35"/><circle cx="57.8" cy="243.5" r="1.35"/><circle cx="60.6" cy="242.5" r="1.35"/><circle cx="63.4" cy="244.2" r="1.35"/><circle cx="66.4" cy="246.1" r="1.35"/><circle cx="69.6" cy="247.4" r="1.35"/><circle cx="72.8" cy="248.9" r="1.35"/><circle cx="75.4" cy="246.7" r="1.35"/><circle cx="78.2" cy="248.9" r="1.35"/><circle cx="81.4" cy="250" r="1.35"/><circle cx="84.6" cy="251.7" r="1.35"/><circle cx="87.4" cy="248.2" r="1.35"/><circle cx="89.9" cy="253.2" r="1.35"/><circle cx="93.1" cy="255.3" r="1.35"/><circle cx="96.5" cy="259.5" r="1.35"/><circle cx="99.8" cy="260.5" r="1.35"/><circle cx="103.1" cy="262.8" r="1.35"/><circle cx="106.2" cy="264.7" r="1.35"/><circle cx="109.5" cy="271.1" r="1.35"/><circle cx="112.3" cy="268.8" r="1.35"/><circle cx="115.2" cy="269.8" r="1.35"/><circle cx="118.5" cy="270.1" r="1.35"/><circle cx="121.4" cy="267.8" r="1.35"/><circle cx="124.3" cy="261.1" r="1.35"/><circle cx="127.4" cy="248.6" r="1.35"/><circle cx="130.3" cy="230.1" r="1.35"/><circle cx="133.4" cy="219.9" r="1.35"/><circle cx="136.5" cy="210.2" r="1.35"/><circle cx="139.7" cy="208" r="1.35"/><circle cx="142.8" cy="212.3" r="1.35"/><circle cx="145.7" cy="210.2" r="1.35"/><circle cx="148.8" cy="218.6" r="1.35"/><circle cx="151.8" cy="217.8" r="1.35"/><circle cx="154.8" cy="217.8" r="1.35"/><circle cx="157.9" cy="223.2" r="1.35"/><circle cx="160.9" cy="225.3" r="1.35"/><circle cx="163.9" cy="222.1" r="1.35"/><circle cx="167.1" cy="226.4" r="1.35"/><circle cx="170.1" cy="228.5" r="1.35"/><circle cx="173.1" cy="230.7" r="1.35"/><circle cx="176.1" cy="229" r="1.35"/><circle cx="179.3" cy="233.9" r="1.35"/><circle cx="182.3" cy="232.4" r="1.35"/><circle cx="185.3" cy="232.8" r="1.35"/><circle cx="188.3" cy="238.2" r="1.35"/><circle cx="191.5" cy="235" r="1.35"/><circle cx="194.5" cy="236.7" r="1.35"/><circle cx="197.5" cy="236.7" r="1.35"/><circle cx="200.5" cy="238.2" r="1.35"/><circle cx="203.7" cy="235.4" r="1.35"/><circle cx="206.7" cy="238.2" r="1.35"/><circle cx="209.9" cy="240.3" r="1.35"/></g></g>
<g clip-path="url(#cp_a_m3)"><polyline points="43.5,370.7 46.7,372.4 49.7,370.2 52.9,372.4 55.9,373.5 58.9,372.8 62.1,372.4 65.1,371.7 68.1,373.9 71.3,376.5 74.3,375 77.3,375.6 80.5,376 83.5,376.5 86.5,378.8 89.5,378.2 92.5,378.4 95.9,382.3 98.8,384 101.9,389.7 104.9,393.1 107.9,396.5 110.9,396 114,397.7 117,394.8 120,388.8 122.9,389.7 126.2,391.3 129.3,390.9 132.4,381.1 135.5,360.5 138.4,342.3 141.3,333.6 144.4,333.9 147.3,337.7 150.4,339.9 153.4,346.7 156.6,351 159.8,354 162.8,358.9 165.8,361 169,364.7 172,365.3 175,363.2 178,365.8 181.2,366.8 184.2,367.5 187.2,369.6 190.4,372.4 193.4,371.1 196.4,372.8 199.4,369.6 202.7,368.5 205.7,368.5 208.7,369.6 211.6,371.1" fill="none" stroke="#9c1c48" stroke-width="1.0" stroke-linejoin="round"/><g fill="#9c1c48"><circle cx="43.5" cy="370.7" r="1.35"/><circle cx="46.7" cy="372.4" r="1.35"/><circle cx="49.7" cy="370.2" r="1.35"/><circle cx="52.9" cy="372.4" r="1.35"/><circle cx="55.9" cy="373.5" r="1.35"/><circle cx="58.9" cy="372.8" r="1.35"/><circle cx="62.1" cy="372.4" r="1.35"/><circle cx="65.1" cy="371.7" r="1.35"/><circle cx="68.1" cy="373.9" r="1.35"/><circle cx="71.3" cy="376.5" r="1.35"/><circle cx="74.3" cy="375" r="1.35"/><circle cx="77.3" cy="375.6" r="1.35"/><circle cx="80.5" cy="376" r="1.35"/><circle cx="83.5" cy="376.5" r="1.35"/><circle cx="86.5" cy="378.8" r="1.35"/><circle cx="89.5" cy="378.2" r="1.35"/><circle cx="92.5" cy="378.4" r="1.35"/><circle cx="95.9" cy="382.3" r="1.35"/><circle cx="98.8" cy="384" r="1.35"/><circle cx="101.9" cy="389.7" r="1.35"/><circle cx="104.9" cy="393.1" r="1.35"/><circle cx="107.9" cy="396.5" r="1.35"/><circle cx="110.9" cy="396" r="1.35"/><circle cx="114" cy="397.7" r="1.35"/><circle cx="117" cy="394.8" r="1.35"/><circle cx="120" cy="388.8" r="1.35"/><circle cx="122.9" cy="389.7" r="1.35"/><circle cx="126.2" cy="391.3" r="1.35"/><circle cx="129.3" cy="390.9" r="1.35"/><circle cx="132.4" cy="381.1" r="1.35"/><circle cx="135.5" cy="360.5" r="1.35"/><circle cx="138.4" cy="342.3" r="1.35"/><circle cx="141.3" cy="333.6" r="1.35"/><circle cx="144.4" cy="333.9" r="1.35"/><circle cx="147.3" cy="337.7" r="1.35"/><circle cx="150.4" cy="339.9" r="1.35"/><circle cx="153.4" cy="346.7" r="1.35"/><circle cx="156.6" cy="351" r="1.35"/><circle cx="159.8" cy="354" r="1.35"/><circle cx="162.8" cy="358.9" r="1.35"/><circle cx="165.8" cy="361" r="1.35"/><circle cx="169" cy="364.7" r="1.35"/><circle cx="172" cy="365.3" r="1.35"/><circle cx="175" cy="363.2" r="1.35"/><circle cx="178" cy="365.8" r="1.35"/><circle cx="181.2" cy="366.8" r="1.35"/><circle cx="184.2" cy="367.5" r="1.35"/><circle cx="187.2" cy="369.6" r="1.35"/><circle cx="190.4" cy="372.4" r="1.35"/><circle cx="193.4" cy="371.1" r="1.35"/><circle cx="196.4" cy="372.8" r="1.35"/><circle cx="199.4" cy="369.6" r="1.35"/><circle cx="202.7" cy="368.5" r="1.35"/><circle cx="205.7" cy="368.5" r="1.35"/><circle cx="208.7" cy="369.6" r="1.35"/><circle cx="211.6" cy="371.1" r="1.35"/></g></g>
<g clip-path="url(#cp_a_n1)"><polyline points="44.2,174.16 47.25,174.43 50.3,174.17 53.35,174.14 56.4,173.92 59.45,174.18 62.5,174.64 65.55,174.4 68.6,174.61 71.65,174.34 74.7,174.39 77.75,174.31 80.8,173.67 83.85,174.55 86.9,174.43 89.95,174.42 93,173.66 96.05,173.64 99.1,173.94 102.15,174.09 105.2,174.36 108.25,174.23 111.3,174.43 114.35,174.03 117.4,174.36 120.45,174.39 123.5,174.02 126.55,174.85 129.6,174.44 132.65,174.67 135.7,174.03 138.75,173.99 141.8,174.13 144.85,174.21 147.9,174.47 150.95,174.34 154,174.09 157.05,173.92 160.1,174.07 163.15,174.68 166.2,173.97 169.25,174.34 172.3,174.4 175.35,173.73 178.4,174.27 181.45,174.71 184.5,173.54 187.55,174.14 190.6,174.21 193.65,173.96 196.7,174.42 199.75,174.23 202.8,173.74 205.85,174.54 208.9,174.48 211.95,174.58" fill="none" stroke="#9c1c48" stroke-width="1.0" stroke-linejoin="round"/><g fill="#9c1c48"><circle cx="44.2" cy="174.16" r="1.3"/><circle cx="47.25" cy="174.43" r="1.3"/><circle cx="50.3" cy="174.17" r="1.3"/><circle cx="53.35" cy="174.14" r="1.3"/><circle cx="56.4" cy="173.92" r="1.3"/><circle cx="59.45" cy="174.18" r="1.3"/><circle cx="62.5" cy="174.64" r="1.3"/><circle cx="65.55" cy="174.4" r="1.3"/><circle cx="68.6" cy="174.61" r="1.3"/><circle cx="71.65" cy="174.34" r="1.3"/><circle cx="74.7" cy="174.39" r="1.3"/><circle cx="77.75" cy="174.31" r="1.3"/><circle cx="80.8" cy="173.67" r="1.3"/><circle cx="83.85" cy="174.55" r="1.3"/><circle cx="86.9" cy="174.43" r="1.3"/><circle cx="89.95" cy="174.42" r="1.3"/><circle cx="93" cy="173.66" r="1.3"/><circle cx="96.05" cy="173.64" r="1.3"/><circle cx="99.1" cy="173.94" r="1.3"/><circle cx="102.15" cy="174.09" r="1.3"/><circle cx="105.2" cy="174.36" r="1.3"/><circle cx="108.25" cy="174.23" r="1.3"/><circle cx="111.3" cy="174.43" r="1.3"/><circle cx="114.35" cy="174.03" r="1.3"/><circle cx="117.4" cy="174.36" r="1.3"/><circle cx="120.45" cy="174.39" r="1.3"/><circle cx="123.5" cy="174.02" r="1.3"/><circle cx="126.55" cy="174.85" r="1.3"/><circle cx="129.6" cy="174.44" r="1.3"/><circle cx="132.65" cy="174.67" r="1.3"/><circle cx="135.7" cy="174.03" r="1.3"/><circle cx="138.75" cy="173.99" r="1.3"/><circle cx="141.8" cy="174.13" r="1.3"/><circle cx="144.85" cy="174.21" r="1.3"/><circle cx="147.9" cy="174.47" r="1.3"/><circle cx="150.95" cy="174.34" r="1.3"/><circle cx="154" cy="174.09" r="1.3"/><circle cx="157.05" cy="173.92" r="1.3"/><circle cx="160.1" cy="174.07" r="1.3"/><circle cx="163.15" cy="174.68" r="1.3"/><circle cx="166.2" cy="173.97" r="1.3"/><circle cx="169.25" cy="174.34" r="1.3"/><circle cx="172.3" cy="174.4" r="1.3"/><circle cx="175.35" cy="173.73" r="1.3"/><circle cx="178.4" cy="174.27" r="1.3"/><circle cx="181.45" cy="174.71" r="1.3"/><circle cx="184.5" cy="173.54" r="1.3"/><circle cx="187.55" cy="174.14" r="1.3"/><circle cx="190.6" cy="174.21" r="1.3"/><circle cx="193.65" cy="173.96" r="1.3"/><circle cx="196.7" cy="174.42" r="1.3"/><circle cx="199.75" cy="174.23" r="1.3"/><circle cx="202.8" cy="173.74" r="1.3"/><circle cx="205.85" cy="174.54" r="1.3"/><circle cx="208.9" cy="174.48" r="1.3"/><circle cx="211.95" cy="174.58" r="1.3"/></g></g>
<g clip-path="url(#cp_a_n2)"><polyline points="44.2,300.69 47.25,300.1 50.3,299.97 53.35,299.19 56.4,300.24 59.45,299.56 62.5,299.65 65.55,299.2 68.6,299.37 71.65,299.61 74.7,300.61 77.75,298.78 80.8,299.1 83.85,300.03 86.9,300.69 89.95,300.22 93,298.86 96.05,298.51 99.1,300.1 102.15,299.5 105.2,299.28 108.25,300.44 111.3,300.51 114.35,299.99 117.4,300.04 120.45,300.14 123.5,300.78 126.55,300.24 129.6,300.19 132.65,300.2 135.7,299.04 138.75,300.6 141.8,300.43 144.85,300.19 147.9,298.81 150.95,299.55 154,300.36 157.05,298.9 160.1,299.8 163.15,300.46 166.2,299.18 169.25,300.79 172.3,300.2 175.35,299.82 178.4,300.08 181.45,300.26 184.5,299.97 187.55,300.53 190.6,299.54 193.65,299.67 196.7,300.47 199.75,299.91 202.8,299.42 205.85,300.42 208.9,300.71 211.95,299.66" fill="none" stroke="#9c1c48" stroke-width="1.0" stroke-linejoin="round"/><g fill="#9c1c48"><circle cx="44.2" cy="300.69" r="1.3"/><circle cx="47.25" cy="300.1" r="1.3"/><circle cx="50.3" cy="299.97" r="1.3"/><circle cx="53.35" cy="299.19" r="1.3"/><circle cx="56.4" cy="300.24" r="1.3"/><circle cx="59.45" cy="299.56" r="1.3"/><circle cx="62.5" cy="299.65" r="1.3"/><circle cx="65.55" cy="299.2" r="1.3"/><circle cx="68.6" cy="299.37" r="1.3"/><circle cx="71.65" cy="299.61" r="1.3"/><circle cx="74.7" cy="300.61" r="1.3"/><circle cx="77.75" cy="298.78" r="1.3"/><circle cx="80.8" cy="299.1" r="1.3"/><circle cx="83.85" cy="300.03" r="1.3"/><circle cx="86.9" cy="300.69" r="1.3"/><circle cx="89.95" cy="300.22" r="1.3"/><circle cx="93" cy="298.86" r="1.3"/><circle cx="96.05" cy="298.51" r="1.3"/><circle cx="99.1" cy="300.1" r="1.3"/><circle cx="102.15" cy="299.5" r="1.3"/><circle cx="105.2" cy="299.28" r="1.3"/><circle cx="108.25" cy="300.44" r="1.3"/><circle cx="111.3" cy="300.51" r="1.3"/><circle cx="114.35" cy="299.99" r="1.3"/><circle cx="117.4" cy="300.04" r="1.3"/><circle cx="120.45" cy="300.14" r="1.3"/><circle cx="123.5" cy="300.78" r="1.3"/><circle cx="126.55" cy="300.24" r="1.3"/><circle cx="129.6" cy="300.19" r="1.3"/><circle cx="132.65" cy="300.2" r="1.3"/><circle cx="135.7" cy="299.04" r="1.3"/><circle cx="138.75" cy="300.6" r="1.3"/><circle cx="141.8" cy="300.43" r="1.3"/><circle cx="144.85" cy="300.19" r="1.3"/><circle cx="147.9" cy="298.81" r="1.3"/><circle cx="150.95" cy="299.55" r="1.3"/><circle cx="154" cy="300.36" r="1.3"/><circle cx="157.05" cy="298.9" r="1.3"/><circle cx="160.1" cy="299.8" r="1.3"/><circle cx="163.15" cy="300.46" r="1.3"/><circle cx="166.2" cy="299.18" r="1.3"/><circle cx="169.25" cy="300.79" r="1.3"/><circle cx="172.3" cy="300.2" r="1.3"/><circle cx="175.35" cy="299.82" r="1.3"/><circle cx="178.4" cy="300.08" r="1.3"/><circle cx="181.45" cy="300.26" r="1.3"/><circle cx="184.5" cy="299.97" r="1.3"/><circle cx="187.55" cy="300.53" r="1.3"/><circle cx="190.6" cy="299.54" r="1.3"/><circle cx="193.65" cy="299.67" r="1.3"/><circle cx="196.7" cy="300.47" r="1.3"/><circle cx="199.75" cy="299.91" r="1.3"/><circle cx="202.8" cy="299.42" r="1.3"/><circle cx="205.85" cy="300.42" r="1.3"/><circle cx="208.9" cy="300.71" r="1.3"/><circle cx="211.95" cy="299.66" r="1.3"/></g></g>
<g clip-path="url(#cp_a_n3)"><polyline points="44.2,424.14 47.25,424.83 50.3,424.82 53.35,424.74 56.4,425.67 59.45,424.34 62.5,425.59 65.55,424.2 68.6,424.47 71.65,425.25 74.7,425.52 77.75,425.37 80.8,425.09 83.85,424.98 86.9,424.98 89.95,425.22 93,424.8 96.05,425.05 99.1,425.21 102.15,424.9 105.2,425.32 108.25,425.21 111.3,426.01 114.35,425.08 117.4,424.66 120.45,424.7 123.5,424.89 126.55,425.41 129.6,424.71 132.65,425.11 135.7,425.91 138.75,423.49 141.8,424.28 144.85,425.03 147.9,425.12 150.95,425.03 154,424.66 157.05,425.26 160.1,425.06 163.15,424.61 166.2,426.24 169.25,425.1 172.3,424.6 175.35,424.85 178.4,424.78 181.45,424.87 184.5,423.4 187.55,424.63 190.6,425.45 193.65,424.26 196.7,424.86 199.75,425.42 202.8,425.37 205.85,425.72 208.9,423.96 211.95,424.71" fill="none" stroke="#9c1c48" stroke-width="1.0" stroke-linejoin="round"/><g fill="#9c1c48"><circle cx="44.2" cy="424.14" r="1.3"/><circle cx="47.25" cy="424.83" r="1.3"/><circle cx="50.3" cy="424.82" r="1.3"/><circle cx="53.35" cy="424.74" r="1.3"/><circle cx="56.4" cy="425.67" r="1.3"/><circle cx="59.45" cy="424.34" r="1.3"/><circle cx="62.5" cy="425.59" r="1.3"/><circle cx="65.55" cy="424.2" r="1.3"/><circle cx="68.6" cy="424.47" r="1.3"/><circle cx="71.65" cy="425.25" r="1.3"/><circle cx="74.7" cy="425.52" r="1.3"/><circle cx="77.75" cy="425.37" r="1.3"/><circle cx="80.8" cy="425.09" r="1.3"/><circle cx="83.85" cy="424.98" r="1.3"/><circle cx="86.9" cy="424.98" r="1.3"/><circle cx="89.95" cy="425.22" r="1.3"/><circle cx="93" cy="424.8" r="1.3"/><circle cx="96.05" cy="425.05" r="1.3"/><circle cx="99.1" cy="425.21" r="1.3"/><circle cx="102.15" cy="424.9" r="1.3"/><circle cx="105.2" cy="425.32" r="1.3"/><circle cx="108.25" cy="425.21" r="1.3"/><circle cx="111.3" cy="426.01" r="1.3"/><circle cx="114.35" cy="425.08" r="1.3"/><circle cx="117.4" cy="424.66" r="1.3"/><circle cx="120.45" cy="424.7" r="1.3"/><circle cx="123.5" cy="424.89" r="1.3"/><circle cx="126.55" cy="425.41" r="1.3"/><circle cx="129.6" cy="424.71" r="1.3"/><circle cx="132.65" cy="425.11" r="1.3"/><circle cx="135.7" cy="425.91" r="1.3"/><circle cx="138.75" cy="423.49" r="1.3"/><circle cx="141.8" cy="424.28" r="1.3"/><circle cx="144.85" cy="425.03" r="1.3"/><circle cx="147.9" cy="425.12" r="1.3"/><circle cx="150.95" cy="425.03" r="1.3"/><circle cx="154" cy="424.66" r="1.3"/><circle cx="157.05" cy="425.26" r="1.3"/><circle cx="160.1" cy="425.06" r="1.3"/><circle cx="163.15" cy="424.61" r="1.3"/><circle cx="166.2" cy="426.24" r="1.3"/><circle cx="169.25" cy="425.1" r="1.3"/><circle cx="172.3" cy="424.6" r="1.3"/><circle cx="175.35" cy="424.85" r="1.3"/><circle cx="178.4" cy="424.78" r="1.3"/><circle cx="181.45" cy="424.87" r="1.3"/><circle cx="184.5" cy="423.4" r="1.3"/><circle cx="187.55" cy="424.63" r="1.3"/><circle cx="190.6" cy="425.45" r="1.3"/><circle cx="193.65" cy="424.26" r="1.3"/><circle cx="196.7" cy="424.86" r="1.3"/><circle cx="199.75" cy="425.42" r="1.3"/><circle cx="202.8" cy="425.37" r="1.3"/><circle cx="205.85" cy="425.72" r="1.3"/><circle cx="208.9" cy="423.96" r="1.3"/><circle cx="211.95" cy="424.71" r="1.3"/></g></g>
<g clip-path="url(#cp_b_m1)"><path d="M263.5 108.66V118.66M265.9 112.52V122.52M268.3 106.8V116.8M270.7 104.89V114.89M273.1 106.47V116.47M275.5 107.55V117.55M277.9 111.37V121.37M280.3 105.95V115.95M282.7 106.99V116.99M285.1 107.29V117.29M287.5 98.86V108.86M289.9 96.78V106.78M292.3 93.9V103.9M294.7 90.14V100.14M297.1 88.21V98.21M299.5 84.52V94.52M301.9 78.48V88.48M304.3 75.93V85.93M306.7 80.02V90.02M309.1 78.34V88.34M311.5 93.44V103.44M313.9 104.59V114.59M316.3 105.92V115.92M318.7 102.39V112.39M321.1 117.1V127.1M323.5 109.78V119.78M325.9 109.25V119.25M328.3 105.68V115.68M330.7 105.23V115.23M333.1 107.79V117.79M335.5 105.9V115.9M337.9 103.74V113.74M340.3 108.1V118.1M342.7 104.94V114.94M345.1 108.63V118.63M347.5 101.59V111.59M349.9 107.16V117.16M352.3 100.89V110.89M354.7 103.78V113.78M357.1 97.24V107.24M359.5 102.48V112.48M361.9 105.58V115.58M364.3 106.85V116.85M366.7 99.32V109.32M369.1 93.8V103.8M371.5 99.42V109.42M373.9 98.3V108.3M376.3 102.43V112.43M378.7 109.47V119.47M381.1 111.8V121.8M383.5 119.06V129.06M385.9 131.15V141.15M388.3 133.8V143.8M390.7 133.45V143.45M393.1 120.34V130.34M395.5 118.27V128.27M397.9 114.98V124.98M400.3 102.66V112.66M402.7 105.89V115.89M405.1 103.69V113.69M407.5 109.8V119.8M409.9 105.69V115.69M412.3 101.03V111.03M414.7 101.05V111.05M417.1 103.38V113.38M419.5 105.2V115.2M421.9 101.64V111.64M424.3 109.09V119.09M426.7 104.82V114.82M429.1 104.17V114.17" stroke="#e8c25e" stroke-width="1.3" fill="none"/><polyline points="263.5,113.66 265.9,117.52 268.3,111.8 270.7,109.89 273.1,111.47 275.5,112.55 277.9,116.37 280.3,110.95 282.7,111.99 285.1,112.29 287.5,103.86 289.9,101.78 292.3,98.9 294.7,95.14 297.1,93.21 299.5,89.52 301.9,83.48 304.3,80.93 306.7,85.02 309.1,83.34 311.5,98.44 313.9,109.59 316.3,110.92 318.7,107.39 321.1,122.1 323.5,114.78 325.9,114.25 328.3,110.68 330.7,110.23 333.1,112.79 335.5,110.9 337.9,108.74 340.3,113.1 342.7,109.94 345.1,113.63 347.5,106.59 349.9,112.16 352.3,105.89 354.7,108.78 357.1,102.24 359.5,107.48 361.9,110.58 364.3,111.85 366.7,104.32 369.1,98.8 371.5,104.42 373.9,103.3 376.3,107.43 378.7,114.47 381.1,116.8 383.5,124.06 385.9,136.15 388.3,138.8 390.7,138.45 393.1,125.34 395.5,123.27 397.9,119.98 400.3,107.66 402.7,110.89 405.1,108.69 407.5,114.8 409.9,110.69 412.3,106.03 414.7,106.05 417.1,108.38 419.5,110.2 421.9,106.64 424.3,114.09 426.7,109.82 429.1,109.17" fill="none" stroke="#dcaa2a" stroke-width="0.9" stroke-linejoin="round"/><g fill="#dcaa2a"><circle cx="263.5" cy="113.66" r="1.45"/><circle cx="265.9" cy="117.52" r="1.45"/><circle cx="268.3" cy="111.8" r="1.45"/><circle cx="270.7" cy="109.89" r="1.45"/><circle cx="273.1" cy="111.47" r="1.45"/><circle cx="275.5" cy="112.55" r="1.45"/><circle cx="277.9" cy="116.37" r="1.45"/><circle cx="280.3" cy="110.95" r="1.45"/><circle cx="282.7" cy="111.99" r="1.45"/><circle cx="285.1" cy="112.29" r="1.45"/><circle cx="287.5" cy="103.86" r="1.45"/><circle cx="289.9" cy="101.78" r="1.45"/><circle cx="292.3" cy="98.9" r="1.45"/><circle cx="294.7" cy="95.14" r="1.45"/><circle cx="297.1" cy="93.21" r="1.45"/><circle cx="299.5" cy="89.52" r="1.45"/><circle cx="301.9" cy="83.48" r="1.45"/><circle cx="304.3" cy="80.93" r="1.45"/><circle cx="306.7" cy="85.02" r="1.45"/><circle cx="309.1" cy="83.34" r="1.45"/><circle cx="311.5" cy="98.44" r="1.45"/><circle cx="313.9" cy="109.59" r="1.45"/><circle cx="316.3" cy="110.92" r="1.45"/><circle cx="318.7" cy="107.39" r="1.45"/><circle cx="321.1" cy="122.1" r="1.45"/><circle cx="323.5" cy="114.78" r="1.45"/><circle cx="325.9" cy="114.25" r="1.45"/><circle cx="328.3" cy="110.68" r="1.45"/><circle cx="330.7" cy="110.23" r="1.45"/><circle cx="333.1" cy="112.79" r="1.45"/><circle cx="335.5" cy="110.9" r="1.45"/><circle cx="337.9" cy="108.74" r="1.45"/><circle cx="340.3" cy="113.1" r="1.45"/><circle cx="342.7" cy="109.94" r="1.45"/><circle cx="345.1" cy="113.63" r="1.45"/><circle cx="347.5" cy="106.59" r="1.45"/><circle cx="349.9" cy="112.16" r="1.45"/><circle cx="352.3" cy="105.89" r="1.45"/><circle cx="354.7" cy="108.78" r="1.45"/><circle cx="357.1" cy="102.24" r="1.45"/><circle cx="359.5" cy="107.48" r="1.45"/><circle cx="361.9" cy="110.58" r="1.45"/><circle cx="364.3" cy="111.85" r="1.45"/><circle cx="366.7" cy="104.32" r="1.45"/><circle cx="369.1" cy="98.8" r="1.45"/><circle cx="371.5" cy="104.42" r="1.45"/><circle cx="373.9" cy="103.3" r="1.45"/><circle cx="376.3" cy="107.43" r="1.45"/><circle cx="378.7" cy="114.47" r="1.45"/><circle cx="381.1" cy="116.8" r="1.45"/><circle cx="383.5" cy="124.06" r="1.45"/><circle cx="385.9" cy="136.15" r="1.45"/><circle cx="388.3" cy="138.8" r="1.45"/><circle cx="390.7" cy="138.45" r="1.45"/><circle cx="393.1" cy="125.34" r="1.45"/><circle cx="395.5" cy="123.27" r="1.45"/><circle cx="397.9" cy="119.98" r="1.45"/><circle cx="400.3" cy="107.66" r="1.45"/><circle cx="402.7" cy="110.89" r="1.45"/><circle cx="405.1" cy="108.69" r="1.45"/><circle cx="407.5" cy="114.8" r="1.45"/><circle cx="409.9" cy="110.69" r="1.45"/><circle cx="412.3" cy="106.03" r="1.45"/><circle cx="414.7" cy="106.05" r="1.45"/><circle cx="417.1" cy="108.38" r="1.45"/><circle cx="419.5" cy="110.2" r="1.45"/><circle cx="421.9" cy="106.64" r="1.45"/><circle cx="424.3" cy="114.09" r="1.45"/><circle cx="426.7" cy="109.82" r="1.45"/><circle cx="429.1" cy="109.17" r="1.45"/></g></g>
<g clip-path="url(#cp_b_m2)"><path d="M263.5 235.88V245.88M265.9 235.41V245.41M268.3 234.48V244.48M270.7 237.7V247.7M273.1 235.33V245.33M275.5 236.03V246.03M277.9 227.1V237.1M280.3 235.52V245.52M282.7 230.6V240.6M285.1 228.88V238.88M287.5 226V236M289.9 225.97V235.97M292.3 220.51V230.51M294.7 220.05V230.05M297.1 218.19V228.19M299.5 214.12V224.12M301.9 208.27V218.27M304.3 206.83V216.83M306.7 206.77V216.77M309.1 203.92V213.92M311.5 214.71V224.71M313.9 206.1V216.1M316.3 213.33V223.33M318.7 223.04V233.04M321.1 235.6V245.6M323.5 234.17V244.17M325.9 229.19V239.19M328.3 232.32V242.32M330.7 236.79V246.79M333.1 245.05V255.05M335.5 238.51V248.51M337.9 236.61V246.61M340.3 238.05V248.05M342.7 237.3V247.3M345.1 237.76V247.76M347.5 234.56V244.56M349.9 242.72V252.72M352.3 234.07V244.07M354.7 233.75V243.75M357.1 237.01V247.01M359.5 229.63V239.63M361.9 234.7V244.7M364.3 234.72V244.72M366.7 237.52V247.52M369.1 227.19V237.19M371.5 240.19V250.19M373.9 243.24V253.24M376.3 246.02V256.02M378.7 252.25V262.25M381.1 247.64V257.64M383.5 251.97V261.97M385.9 262.86V272.86M388.3 262.11V272.11M390.7 257.44V267.44M393.1 262.64V272.64M395.5 256.05V266.05M397.9 253.49V263.49M400.3 246.4V256.4M402.7 252.72V262.72M405.1 244.46V254.46M407.5 244.05V254.05M409.9 239.48V249.48M412.3 242.68V252.68M414.7 242.05V252.05M417.1 239.45V249.45M419.5 235.98V245.98M421.9 237.74V247.74M424.3 238.94V248.94M426.7 241.97V251.97M429.1 239.11V249.11" stroke="#e8c25e" stroke-width="1.3" fill="none"/><polyline points="263.5,240.88 265.9,240.41 268.3,239.48 270.7,242.7 273.1,240.33 275.5,241.03 277.9,232.1 280.3,240.52 282.7,235.6 285.1,233.88 287.5,231 289.9,230.97 292.3,225.51 294.7,225.05 297.1,223.19 299.5,219.12 301.9,213.27 304.3,211.83 306.7,211.77 309.1,208.92 311.5,219.71 313.9,211.1 316.3,218.33 318.7,228.04 321.1,240.6 323.5,239.17 325.9,234.19 328.3,237.32 330.7,241.79 333.1,250.05 335.5,243.51 337.9,241.61 340.3,243.05 342.7,242.3 345.1,242.76 347.5,239.56 349.9,247.72 352.3,239.07 354.7,238.75 357.1,242.01 359.5,234.63 361.9,239.7 364.3,239.72 366.7,242.52 369.1,232.19 371.5,245.19 373.9,248.24 376.3,251.02 378.7,257.25 381.1,252.64 383.5,256.97 385.9,267.86 388.3,267.11 390.7,262.44 393.1,267.64 395.5,261.05 397.9,258.49 400.3,251.4 402.7,257.72 405.1,249.46 407.5,249.05 409.9,244.48 412.3,247.68 414.7,247.05 417.1,244.45 419.5,240.98 421.9,242.74 424.3,243.94 426.7,246.97 429.1,244.11" fill="none" stroke="#dcaa2a" stroke-width="0.9" stroke-linejoin="round"/><g fill="#dcaa2a"><circle cx="263.5" cy="240.88" r="1.45"/><circle cx="265.9" cy="240.41" r="1.45"/><circle cx="268.3" cy="239.48" r="1.45"/><circle cx="270.7" cy="242.7" r="1.45"/><circle cx="273.1" cy="240.33" r="1.45"/><circle cx="275.5" cy="241.03" r="1.45"/><circle cx="277.9" cy="232.1" r="1.45"/><circle cx="280.3" cy="240.52" r="1.45"/><circle cx="282.7" cy="235.6" r="1.45"/><circle cx="285.1" cy="233.88" r="1.45"/><circle cx="287.5" cy="231" r="1.45"/><circle cx="289.9" cy="230.97" r="1.45"/><circle cx="292.3" cy="225.51" r="1.45"/><circle cx="294.7" cy="225.05" r="1.45"/><circle cx="297.1" cy="223.19" r="1.45"/><circle cx="299.5" cy="219.12" r="1.45"/><circle cx="301.9" cy="213.27" r="1.45"/><circle cx="304.3" cy="211.83" r="1.45"/><circle cx="306.7" cy="211.77" r="1.45"/><circle cx="309.1" cy="208.92" r="1.45"/><circle cx="311.5" cy="219.71" r="1.45"/><circle cx="313.9" cy="211.1" r="1.45"/><circle cx="316.3" cy="218.33" r="1.45"/><circle cx="318.7" cy="228.04" r="1.45"/><circle cx="321.1" cy="240.6" r="1.45"/><circle cx="323.5" cy="239.17" r="1.45"/><circle cx="325.9" cy="234.19" r="1.45"/><circle cx="328.3" cy="237.32" r="1.45"/><circle cx="330.7" cy="241.79" r="1.45"/><circle cx="333.1" cy="250.05" r="1.45"/><circle cx="335.5" cy="243.51" r="1.45"/><circle cx="337.9" cy="241.61" r="1.45"/><circle cx="340.3" cy="243.05" r="1.45"/><circle cx="342.7" cy="242.3" r="1.45"/><circle cx="345.1" cy="242.76" r="1.45"/><circle cx="347.5" cy="239.56" r="1.45"/><circle cx="349.9" cy="247.72" r="1.45"/><circle cx="352.3" cy="239.07" r="1.45"/><circle cx="354.7" cy="238.75" r="1.45"/><circle cx="357.1" cy="242.01" r="1.45"/><circle cx="359.5" cy="234.63" r="1.45"/><circle cx="361.9" cy="239.7" r="1.45"/><circle cx="364.3" cy="239.72" r="1.45"/><circle cx="366.7" cy="242.52" r="1.45"/><circle cx="369.1" cy="232.19" r="1.45"/><circle cx="371.5" cy="245.19" r="1.45"/><circle cx="373.9" cy="248.24" r="1.45"/><circle cx="376.3" cy="251.02" r="1.45"/><circle cx="378.7" cy="257.25" r="1.45"/><circle cx="381.1" cy="252.64" r="1.45"/><circle cx="383.5" cy="256.97" r="1.45"/><circle cx="385.9" cy="267.86" r="1.45"/><circle cx="388.3" cy="267.11" r="1.45"/><circle cx="390.7" cy="262.44" r="1.45"/><circle cx="393.1" cy="267.64" r="1.45"/><circle cx="395.5" cy="261.05" r="1.45"/><circle cx="397.9" cy="258.49" r="1.45"/><circle cx="400.3" cy="251.4" r="1.45"/><circle cx="402.7" cy="257.72" r="1.45"/><circle cx="405.1" cy="249.46" r="1.45"/><circle cx="407.5" cy="249.05" r="1.45"/><circle cx="409.9" cy="244.48" r="1.45"/><circle cx="412.3" cy="247.68" r="1.45"/><circle cx="414.7" cy="247.05" r="1.45"/><circle cx="417.1" cy="244.45" r="1.45"/><circle cx="419.5" cy="240.98" r="1.45"/><circle cx="421.9" cy="242.74" r="1.45"/><circle cx="424.3" cy="243.94" r="1.45"/><circle cx="426.7" cy="246.97" r="1.45"/><circle cx="429.1" cy="244.11" r="1.45"/></g></g>
<g clip-path="url(#cp_b_m3)"><path d="M263.5 356.87V366.87M265.9 361.13V371.13M268.3 364.99V374.99M270.7 359.92V369.92M273.1 357.3V367.3M275.5 355.06V365.06M277.9 355.69V365.69M280.3 357.47V367.47M282.7 362.61V372.61M285.1 357.15V367.15M287.5 352.93V362.93M289.9 349.94V359.94M292.3 353.78V363.78M294.7 354.52V364.52M297.1 356.53V366.53M299.5 353.2V363.2M301.9 350.07V360.07M304.3 341.84V351.84M306.7 356.05V366.05M309.1 343.75V353.75M311.5 332.43V342.43M313.9 337.95V347.95M316.3 357.63V367.63M318.7 347.56V357.56M321.1 358.58V368.58M323.5 353.29V363.29M325.9 356.27V366.27M328.3 365.04V375.04M330.7 359.19V369.19M333.1 385.65V395.65M335.5 366.48V376.48M337.9 365.1V375.1M340.3 364.89V374.89M342.7 362.77V372.77M345.1 364.6V374.6M347.5 365.21V375.21M349.9 357.09V367.09M352.3 363.26V373.26M354.7 360.59V370.59M357.1 352.01V362.01M359.5 357.64V367.64M361.9 365.5V375.5M364.3 360.21V370.21M366.7 342.89V352.89M369.1 359.98V369.98M371.5 366.65V376.65M373.9 355.64V365.64M376.3 372.35V382.35M378.7 369.75V379.75M381.1 363.16V373.16M383.5 371.34V381.34M385.9 380.81V390.81M388.3 366.68V376.68M390.7 366.96V376.96M393.1 364.87V374.87M395.5 360.08V370.08M397.9 369.26V379.26M400.3 364.03V374.03M402.7 376.47V386.47M405.1 367.48V377.48M407.5 368.36V378.36M409.9 366.08V376.08M412.3 364.31V374.31M414.7 360.37V370.37M417.1 358.21V368.21M419.5 367.62V377.62M421.9 365.25V375.25M424.3 364.04V374.04M426.7 361.9V371.9M429.1 362.96V372.96" stroke="#e8c25e" stroke-width="1.3" fill="none"/><polyline points="263.5,361.87 265.9,366.13 268.3,369.99 270.7,364.92 273.1,362.3 275.5,360.06 277.9,360.69 280.3,362.47 282.7,367.61 285.1,362.15 287.5,357.93 289.9,354.94 292.3,358.78 294.7,359.52 297.1,361.53 299.5,358.2 301.9,355.07 304.3,346.84 306.7,361.05 309.1,348.75 311.5,337.43 313.9,342.95 316.3,362.63 318.7,352.56 321.1,363.58 323.5,358.29 325.9,361.27 328.3,370.04 330.7,364.19 333.1,390.65 335.5,371.48 337.9,370.1 340.3,369.89 342.7,367.77 345.1,369.6 347.5,370.21 349.9,362.09 352.3,368.26 354.7,365.59 357.1,357.01 359.5,362.64 361.9,370.5 364.3,365.21 366.7,347.89 369.1,364.98 371.5,371.65 373.9,360.64 376.3,377.35 378.7,374.75 381.1,368.16 383.5,376.34 385.9,385.81 388.3,371.68 390.7,371.96 393.1,369.87 395.5,365.08 397.9,374.26 400.3,369.03 402.7,381.47 405.1,372.48 407.5,373.36 409.9,371.08 412.3,369.31 414.7,365.37 417.1,363.21 419.5,372.62 421.9,370.25 424.3,369.04 426.7,366.9 429.1,367.96" fill="none" stroke="#dcaa2a" stroke-width="0.9" stroke-linejoin="round"/><g fill="#dcaa2a"><circle cx="263.5" cy="361.87" r="1.45"/><circle cx="265.9" cy="366.13" r="1.45"/><circle cx="268.3" cy="369.99" r="1.45"/><circle cx="270.7" cy="364.92" r="1.45"/><circle cx="273.1" cy="362.3" r="1.45"/><circle cx="275.5" cy="360.06" r="1.45"/><circle cx="277.9" cy="360.69" r="1.45"/><circle cx="280.3" cy="362.47" r="1.45"/><circle cx="282.7" cy="367.61" r="1.45"/><circle cx="285.1" cy="362.15" r="1.45"/><circle cx="287.5" cy="357.93" r="1.45"/><circle cx="289.9" cy="354.94" r="1.45"/><circle cx="292.3" cy="358.78" r="1.45"/><circle cx="294.7" cy="359.52" r="1.45"/><circle cx="297.1" cy="361.53" r="1.45"/><circle cx="299.5" cy="358.2" r="1.45"/><circle cx="301.9" cy="355.07" r="1.45"/><circle cx="304.3" cy="346.84" r="1.45"/><circle cx="306.7" cy="361.05" r="1.45"/><circle cx="309.1" cy="348.75" r="1.45"/><circle cx="311.5" cy="337.43" r="1.45"/><circle cx="313.9" cy="342.95" r="1.45"/><circle cx="316.3" cy="362.63" r="1.45"/><circle cx="318.7" cy="352.56" r="1.45"/><circle cx="321.1" cy="363.58" r="1.45"/><circle cx="323.5" cy="358.29" r="1.45"/><circle cx="325.9" cy="361.27" r="1.45"/><circle cx="328.3" cy="370.04" r="1.45"/><circle cx="330.7" cy="364.19" r="1.45"/><circle cx="333.1" cy="390.65" r="1.45"/><circle cx="335.5" cy="371.48" r="1.45"/><circle cx="337.9" cy="370.1" r="1.45"/><circle cx="340.3" cy="369.89" r="1.45"/><circle cx="342.7" cy="367.77" r="1.45"/><circle cx="345.1" cy="369.6" r="1.45"/><circle cx="347.5" cy="370.21" r="1.45"/><circle cx="349.9" cy="362.09" r="1.45"/><circle cx="352.3" cy="368.26" r="1.45"/><circle cx="354.7" cy="365.59" r="1.45"/><circle cx="357.1" cy="357.01" r="1.45"/><circle cx="359.5" cy="362.64" r="1.45"/><circle cx="361.9" cy="370.5" r="1.45"/><circle cx="364.3" cy="365.21" r="1.45"/><circle cx="366.7" cy="347.89" r="1.45"/><circle cx="369.1" cy="364.98" r="1.45"/><circle cx="371.5" cy="371.65" r="1.45"/><circle cx="373.9" cy="360.64" r="1.45"/><circle cx="376.3" cy="377.35" r="1.45"/><circle cx="378.7" cy="374.75" r="1.45"/><circle cx="381.1" cy="368.16" r="1.45"/><circle cx="383.5" cy="376.34" r="1.45"/><circle cx="385.9" cy="385.81" r="1.45"/><circle cx="388.3" cy="371.68" r="1.45"/><circle cx="390.7" cy="371.96" r="1.45"/><circle cx="393.1" cy="369.87" r="1.45"/><circle cx="395.5" cy="365.08" r="1.45"/><circle cx="397.9" cy="374.26" r="1.45"/><circle cx="400.3" cy="369.03" r="1.45"/><circle cx="402.7" cy="381.47" r="1.45"/><circle cx="405.1" cy="372.48" r="1.45"/><circle cx="407.5" cy="373.36" r="1.45"/><circle cx="409.9" cy="371.08" r="1.45"/><circle cx="412.3" cy="369.31" r="1.45"/><circle cx="414.7" cy="365.37" r="1.45"/><circle cx="417.1" cy="363.21" r="1.45"/><circle cx="419.5" cy="372.62" r="1.45"/><circle cx="421.9" cy="370.25" r="1.45"/><circle cx="424.3" cy="369.04" r="1.45"/><circle cx="426.7" cy="366.9" r="1.45"/><circle cx="429.1" cy="367.96" r="1.45"/></g></g>
<g clip-path="url(#cp_b_n1)"><path d="M263.8 170.77V177.57M266.2 169.68V176.48M268.6 171.31V178.11M271 171.93V178.73M273.4 171.33V178.13M275.8 170.71V177.51M278.2 171.35V178.15M280.6 169.93V176.73M283 168.97V175.77M285.4 170.96V177.76M287.8 169.93V176.73M290.2 171.68V178.48M292.6 169.74V176.54M295 168.05V174.85M297.4 169.75V176.55M299.8 172.67V179.47M302.2 170.46V177.26M304.6 169.3V176.1M307 169.99V176.79M309.4 171.53V178.33M311.8 171.52V178.32M314.2 171.12V177.92M316.6 172.82V179.62M319 171.83V178.63M321.4 170.87V177.67M323.8 171.72V178.52M326.2 173.22V180.02M328.6 172.29V179.09M331 172.39V179.19M333.4 169.3V176.1M335.8 170.68V177.48M338.2 172V178.8M340.6 170.45V177.25M343 172.54V179.34M345.4 171.82V178.62M347.8 172.31V179.11M350.2 170.57V177.37M352.6 174.84V181.64M355 172.81V179.61M357.4 170.57V177.37M359.8 171.04V177.84M362.2 174.81V181.61M364.6 170.39V177.19M367 172.19V178.99M369.4 172.32V179.12M371.8 170.91V177.71M374.2 169.27V176.07M376.6 171.16V177.96M379 171.38V178.18M381.4 172.39V179.19M383.8 171.91V178.71M386.2 170.93V177.73M388.6 171.96V178.76M391 171.55V178.35M393.4 171.14V177.94M395.8 170.96V177.76M398.2 170.62V177.42M400.6 171.67V178.47M403 169.74V176.54M405.4 170.22V177.02M407.8 170.91V177.71M410.2 169.36V176.16M412.6 170.45V177.25M415 168.84V175.64M417.4 170.21V177.01M419.8 171.47V178.27M422.2 171.46V178.26M424.6 170.85V177.65M427 170.67V177.47M429.4 169.52V176.32M431.8 172.68V179.48" stroke="#e8c25e" stroke-width="1.4" fill="none"/><polyline points="263.8,174.17 266.2,173.08 268.6,174.71 271,175.33 273.4,174.73 275.8,174.11 278.2,174.75 280.6,173.33 283,172.37 285.4,174.36 287.8,173.33 290.2,175.08 292.6,173.14 295,171.45 297.4,173.15 299.8,176.07 302.2,173.86 304.6,172.7 307,173.39 309.4,174.93 311.8,174.92 314.2,174.52 316.6,176.22 319,175.23 321.4,174.27 323.8,175.12 326.2,176.62 328.6,175.69 331,175.79 333.4,172.7 335.8,174.08 338.2,175.4 340.6,173.85 343,175.94 345.4,175.22 347.8,175.71 350.2,173.97 352.6,178.24 355,176.21 357.4,173.97 359.8,174.44 362.2,178.21 364.6,173.79 367,175.59 369.4,175.72 371.8,174.31 374.2,172.67 376.6,174.56 379,174.78 381.4,175.79 383.8,175.31 386.2,174.33 388.6,175.36 391,174.95 393.4,174.54 395.8,174.36 398.2,174.02 400.6,175.07 403,173.14 405.4,173.62 407.8,174.31 410.2,172.76 412.6,173.85 415,172.24 417.4,173.61 419.8,174.87 422.2,174.86 424.6,174.25 427,174.07 429.4,172.92 431.8,176.08" fill="none" stroke="#dcaa2a" stroke-width="1.0" stroke-linejoin="round"/><g fill="#dcaa2a"><circle cx="263.8" cy="174.17" r="1.5"/><circle cx="266.2" cy="173.08" r="1.5"/><circle cx="268.6" cy="174.71" r="1.5"/><circle cx="271" cy="175.33" r="1.5"/><circle cx="273.4" cy="174.73" r="1.5"/><circle cx="275.8" cy="174.11" r="1.5"/><circle cx="278.2" cy="174.75" r="1.5"/><circle cx="280.6" cy="173.33" r="1.5"/><circle cx="283" cy="172.37" r="1.5"/><circle cx="285.4" cy="174.36" r="1.5"/><circle cx="287.8" cy="173.33" r="1.5"/><circle cx="290.2" cy="175.08" r="1.5"/><circle cx="292.6" cy="173.14" r="1.5"/><circle cx="295" cy="171.45" r="1.5"/><circle cx="297.4" cy="173.15" r="1.5"/><circle cx="299.8" cy="176.07" r="1.5"/><circle cx="302.2" cy="173.86" r="1.5"/><circle cx="304.6" cy="172.7" r="1.5"/><circle cx="307" cy="173.39" r="1.5"/><circle cx="309.4" cy="174.93" r="1.5"/><circle cx="311.8" cy="174.92" r="1.5"/><circle cx="314.2" cy="174.52" r="1.5"/><circle cx="316.6" cy="176.22" r="1.5"/><circle cx="319" cy="175.23" r="1.5"/><circle cx="321.4" cy="174.27" r="1.5"/><circle cx="323.8" cy="175.12" r="1.5"/><circle cx="326.2" cy="176.62" r="1.5"/><circle cx="328.6" cy="175.69" r="1.5"/><circle cx="331" cy="175.79" r="1.5"/><circle cx="333.4" cy="172.7" r="1.5"/><circle cx="335.8" cy="174.08" r="1.5"/><circle cx="338.2" cy="175.4" r="1.5"/><circle cx="340.6" cy="173.85" r="1.5"/><circle cx="343" cy="175.94" r="1.5"/><circle cx="345.4" cy="175.22" r="1.5"/><circle cx="347.8" cy="175.71" r="1.5"/><circle cx="350.2" cy="173.97" r="1.5"/><circle cx="352.6" cy="178.24" r="1.5"/><circle cx="355" cy="176.21" r="1.5"/><circle cx="357.4" cy="173.97" r="1.5"/><circle cx="359.8" cy="174.44" r="1.5"/><circle cx="362.2" cy="178.21" r="1.5"/><circle cx="364.6" cy="173.79" r="1.5"/><circle cx="367" cy="175.59" r="1.5"/><circle cx="369.4" cy="175.72" r="1.5"/><circle cx="371.8" cy="174.31" r="1.5"/><circle cx="374.2" cy="172.67" r="1.5"/><circle cx="376.6" cy="174.56" r="1.5"/><circle cx="379" cy="174.78" r="1.5"/><circle cx="381.4" cy="175.79" r="1.5"/><circle cx="383.8" cy="175.31" r="1.5"/><circle cx="386.2" cy="174.33" r="1.5"/><circle cx="388.6" cy="175.36" r="1.5"/><circle cx="391" cy="174.95" r="1.5"/><circle cx="393.4" cy="174.54" r="1.5"/><circle cx="395.8" cy="174.36" r="1.5"/><circle cx="398.2" cy="174.02" r="1.5"/><circle cx="400.6" cy="175.07" r="1.5"/><circle cx="403" cy="173.14" r="1.5"/><circle cx="405.4" cy="173.62" r="1.5"/><circle cx="407.8" cy="174.31" r="1.5"/><circle cx="410.2" cy="172.76" r="1.5"/><circle cx="412.6" cy="173.85" r="1.5"/><circle cx="415" cy="172.24" r="1.5"/><circle cx="417.4" cy="173.61" r="1.5"/><circle cx="419.8" cy="174.87" r="1.5"/><circle cx="422.2" cy="174.86" r="1.5"/><circle cx="424.6" cy="174.25" r="1.5"/><circle cx="427" cy="174.07" r="1.5"/><circle cx="429.4" cy="172.92" r="1.5"/><circle cx="431.8" cy="176.08" r="1.5"/></g></g>
<g clip-path="url(#cp_b_n2)"><path d="M263.8 296.8V303.6M266.2 297.36V304.16M268.6 295.44V302.24M271 296.12V302.92M273.4 294.51V301.31M275.8 297.07V303.87M278.2 297.23V304.03M280.6 294.39V301.19M283 296.25V303.05M285.4 296.95V303.75M287.8 294.47V301.27M290.2 294.38V301.18M292.6 295.16V301.96M295 295.62V302.42M297.4 294.75V301.55M299.8 296.34V303.14M302.2 296.59V303.39M304.6 297.04V303.84M307 297.14V303.94M309.4 298.13V304.93M311.8 297.75V304.55M314.2 294.64V301.44M316.6 295.65V302.45M319 294.9V301.7M321.4 294.85V301.65M323.8 296.19V302.99M326.2 296.31V303.11M328.6 297V303.8M331 294V300.8M333.4 294.48V301.28M335.8 296.27V303.07M338.2 296V302.8M340.6 295.83V302.63M343 296.2V303M345.4 295.13V301.93M347.8 297.39V304.19M350.2 296.85V303.65M352.6 296.16V302.96M355 295.26V302.06M357.4 296.03V302.83M359.8 292.16V298.96M362.2 294.82V301.62M364.6 296.36V303.16M367 294.09V300.89M369.4 296.59V303.39M371.8 296.51V303.31M374.2 294.37V301.17M376.6 295.96V302.76M379 295.88V302.68M381.4 296.91V303.71M383.8 297.09V303.89M386.2 296.25V303.05M388.6 295.25V302.05M391 296.13V302.93M393.4 296.22V303.02M395.8 297.15V303.95M398.2 296.64V303.44M400.6 295.49V302.29M403 294.81V301.61M405.4 295.9V302.7M407.8 295.51V302.31M410.2 295.13V301.93M412.6 296.18V302.98M415 295.8V302.6M417.4 296.41V303.21M419.8 296.83V303.63M422.2 295.89V302.69M424.6 298.6V305.4M427 295.98V302.78M429.4 297.38V304.18M431.8 296.42V303.22" stroke="#e8c25e" stroke-width="1.4" fill="none"/><polyline points="263.8,300.2 266.2,300.76 268.6,298.84 271,299.52 273.4,297.91 275.8,300.47 278.2,300.63 280.6,297.79 283,299.65 285.4,300.35 287.8,297.87 290.2,297.78 292.6,298.56 295,299.02 297.4,298.15 299.8,299.74 302.2,299.99 304.6,300.44 307,300.54 309.4,301.53 311.8,301.15 314.2,298.04 316.6,299.05 319,298.3 321.4,298.25 323.8,299.59 326.2,299.71 328.6,300.4 331,297.4 333.4,297.88 335.8,299.67 338.2,299.4 340.6,299.23 343,299.6 345.4,298.53 347.8,300.79 350.2,300.25 352.6,299.56 355,298.66 357.4,299.43 359.8,295.56 362.2,298.22 364.6,299.76 367,297.49 369.4,299.99 371.8,299.91 374.2,297.77 376.6,299.36 379,299.28 381.4,300.31 383.8,300.49 386.2,299.65 388.6,298.65 391,299.53 393.4,299.62 395.8,300.55 398.2,300.04 400.6,298.89 403,298.21 405.4,299.3 407.8,298.91 410.2,298.53 412.6,299.58 415,299.2 417.4,299.81 419.8,300.23 422.2,299.29 424.6,302 427,299.38 429.4,300.78 431.8,299.82" fill="none" stroke="#dcaa2a" stroke-width="1.0" stroke-linejoin="round"/><g fill="#dcaa2a"><circle cx="263.8" cy="300.2" r="1.5"/><circle cx="266.2" cy="300.76" r="1.5"/><circle cx="268.6" cy="298.84" r="1.5"/><circle cx="271" cy="299.52" r="1.5"/><circle cx="273.4" cy="297.91" r="1.5"/><circle cx="275.8" cy="300.47" r="1.5"/><circle cx="278.2" cy="300.63" r="1.5"/><circle cx="280.6" cy="297.79" r="1.5"/><circle cx="283" cy="299.65" r="1.5"/><circle cx="285.4" cy="300.35" r="1.5"/><circle cx="287.8" cy="297.87" r="1.5"/><circle cx="290.2" cy="297.78" r="1.5"/><circle cx="292.6" cy="298.56" r="1.5"/><circle cx="295" cy="299.02" r="1.5"/><circle cx="297.4" cy="298.15" r="1.5"/><circle cx="299.8" cy="299.74" r="1.5"/><circle cx="302.2" cy="299.99" r="1.5"/><circle cx="304.6" cy="300.44" r="1.5"/><circle cx="307" cy="300.54" r="1.5"/><circle cx="309.4" cy="301.53" r="1.5"/><circle cx="311.8" cy="301.15" r="1.5"/><circle cx="314.2" cy="298.04" r="1.5"/><circle cx="316.6" cy="299.05" r="1.5"/><circle cx="319" cy="298.3" r="1.5"/><circle cx="321.4" cy="298.25" r="1.5"/><circle cx="323.8" cy="299.59" r="1.5"/><circle cx="326.2" cy="299.71" r="1.5"/><circle cx="328.6" cy="300.4" r="1.5"/><circle cx="331" cy="297.4" r="1.5"/><circle cx="333.4" cy="297.88" r="1.5"/><circle cx="335.8" cy="299.67" r="1.5"/><circle cx="338.2" cy="299.4" r="1.5"/><circle cx="340.6" cy="299.23" r="1.5"/><circle cx="343" cy="299.6" r="1.5"/><circle cx="345.4" cy="298.53" r="1.5"/><circle cx="347.8" cy="300.79" r="1.5"/><circle cx="350.2" cy="300.25" r="1.5"/><circle cx="352.6" cy="299.56" r="1.5"/><circle cx="355" cy="298.66" r="1.5"/><circle cx="357.4" cy="299.43" r="1.5"/><circle cx="359.8" cy="295.56" r="1.5"/><circle cx="362.2" cy="298.22" r="1.5"/><circle cx="364.6" cy="299.76" r="1.5"/><circle cx="367" cy="297.49" r="1.5"/><circle cx="369.4" cy="299.99" r="1.5"/><circle cx="371.8" cy="299.91" r="1.5"/><circle cx="374.2" cy="297.77" r="1.5"/><circle cx="376.6" cy="299.36" r="1.5"/><circle cx="379" cy="299.28" r="1.5"/><circle cx="381.4" cy="300.31" r="1.5"/><circle cx="383.8" cy="300.49" r="1.5"/><circle cx="386.2" cy="299.65" r="1.5"/><circle cx="388.6" cy="298.65" r="1.5"/><circle cx="391" cy="299.53" r="1.5"/><circle cx="393.4" cy="299.62" r="1.5"/><circle cx="395.8" cy="300.55" r="1.5"/><circle cx="398.2" cy="300.04" r="1.5"/><circle cx="400.6" cy="298.89" r="1.5"/><circle cx="403" cy="298.21" r="1.5"/><circle cx="405.4" cy="299.3" r="1.5"/><circle cx="407.8" cy="298.91" r="1.5"/><circle cx="410.2" cy="298.53" r="1.5"/><circle cx="412.6" cy="299.58" r="1.5"/><circle cx="415" cy="299.2" r="1.5"/><circle cx="417.4" cy="299.81" r="1.5"/><circle cx="419.8" cy="300.23" r="1.5"/><circle cx="422.2" cy="299.29" r="1.5"/><circle cx="424.6" cy="302" r="1.5"/><circle cx="427" cy="299.38" r="1.5"/><circle cx="429.4" cy="300.78" r="1.5"/><circle cx="431.8" cy="299.82" r="1.5"/></g></g>
<g clip-path="url(#cp_b_n3)"><path d="M263.8 422.98V429.78M266.2 419.6V426.4M268.6 421.17V427.97M271 422.14V428.94M273.4 422.49V429.29M275.8 424.21V431.01M278.2 422.22V429.02M280.6 423.19V429.99M283 422.68V429.48M285.4 422.87V429.67M287.8 422.43V429.23M290.2 421.74V428.54M292.6 422.44V429.24M295 420.73V427.53M297.4 423.2V430M299.8 420.76V427.56M302.2 422.19V428.99M304.6 424.37V431.17M307 421.63V428.43M309.4 421.92V428.72M311.8 423.34V430.14M314.2 421.93V428.73M316.6 420.85V427.65M319 422.24V429.04M321.4 422.69V429.49M323.8 422.88V429.68M326.2 420.82V427.62M328.6 424.4V431.2M331 424.32V431.12M333.4 421.93V428.73M335.8 422.3V429.1M338.2 421.25V428.05M340.6 424.06V430.86M343 420.82V427.62M345.4 422.94V429.74M347.8 421.16V427.96M350.2 420.82V427.62M352.6 423.01V429.81M355 423.96V430.76M357.4 421.88V428.68M359.8 420.87V427.67M362.2 423.12V429.92M364.6 421.83V428.63M367 422.36V429.16M369.4 424.11V430.91M371.8 423.51V430.31M374.2 421.17V427.97M376.6 425.04V431.84M379 421.9V428.7M381.4 422.94V429.74M383.8 421.06V427.86M386.2 421.84V428.64M388.6 419.73V426.53M391 424.06V430.86M393.4 423.52V430.32M395.8 420.49V427.29M398.2 420.18V426.98M400.6 420.09V426.89M403 423.19V429.99M405.4 421.4V428.2M407.8 421.84V428.64M410.2 421.57V428.37M412.6 421.77V428.57M415 420.79V427.59M417.4 421.92V428.72M419.8 420.46V427.26M422.2 421.83V428.63M424.6 422.21V429.01M427 422.36V429.16M429.4 421.67V428.47M431.8 421.02V427.82" stroke="#e8c25e" stroke-width="1.4" fill="none"/><polyline points="263.8,426.38 266.2,423 268.6,424.57 271,425.54 273.4,425.89 275.8,427.61 278.2,425.62 280.6,426.59 283,426.08 285.4,426.27 287.8,425.83 290.2,425.14 292.6,425.84 295,424.13 297.4,426.6 299.8,424.16 302.2,425.59 304.6,427.77 307,425.03 309.4,425.32 311.8,426.74 314.2,425.33 316.6,424.25 319,425.64 321.4,426.09 323.8,426.28 326.2,424.22 328.6,427.8 331,427.72 333.4,425.33 335.8,425.7 338.2,424.65 340.6,427.46 343,424.22 345.4,426.34 347.8,424.56 350.2,424.22 352.6,426.41 355,427.36 357.4,425.28 359.8,424.27 362.2,426.52 364.6,425.23 367,425.76 369.4,427.51 371.8,426.91 374.2,424.57 376.6,428.44 379,425.3 381.4,426.34 383.8,424.46 386.2,425.24 388.6,423.13 391,427.46 393.4,426.92 395.8,423.89 398.2,423.58 400.6,423.49 403,426.59 405.4,424.8 407.8,425.24 410.2,424.97 412.6,425.17 415,424.19 417.4,425.32 419.8,423.86 422.2,425.23 424.6,425.61 427,425.76 429.4,425.07 431.8,424.42" fill="none" stroke="#dcaa2a" stroke-width="1.0" stroke-linejoin="round"/><g fill="#dcaa2a"><circle cx="263.8" cy="426.38" r="1.5"/><circle cx="266.2" cy="423" r="1.5"/><circle cx="268.6" cy="424.57" r="1.5"/><circle cx="271" cy="425.54" r="1.5"/><circle cx="273.4" cy="425.89" r="1.5"/><circle cx="275.8" cy="427.61" r="1.5"/><circle cx="278.2" cy="425.62" r="1.5"/><circle cx="280.6" cy="426.59" r="1.5"/><circle cx="283" cy="426.08" r="1.5"/><circle cx="285.4" cy="426.27" r="1.5"/><circle cx="287.8" cy="425.83" r="1.5"/><circle cx="290.2" cy="425.14" r="1.5"/><circle cx="292.6" cy="425.84" r="1.5"/><circle cx="295" cy="424.13" r="1.5"/><circle cx="297.4" cy="426.6" r="1.5"/><circle cx="299.8" cy="424.16" r="1.5"/><circle cx="302.2" cy="425.59" r="1.5"/><circle cx="304.6" cy="427.77" r="1.5"/><circle cx="307" cy="425.03" r="1.5"/><circle cx="309.4" cy="425.32" r="1.5"/><circle cx="311.8" cy="426.74" r="1.5"/><circle cx="314.2" cy="425.33" r="1.5"/><circle cx="316.6" cy="424.25" r="1.5"/><circle cx="319" cy="425.64" r="1.5"/><circle cx="321.4" cy="426.09" r="1.5"/><circle cx="323.8" cy="426.28" r="1.5"/><circle cx="326.2" cy="424.22" r="1.5"/><circle cx="328.6" cy="427.8" r="1.5"/><circle cx="331" cy="427.72" r="1.5"/><circle cx="333.4" cy="425.33" r="1.5"/><circle cx="335.8" cy="425.7" r="1.5"/><circle cx="338.2" cy="424.65" r="1.5"/><circle cx="340.6" cy="427.46" r="1.5"/><circle cx="343" cy="424.22" r="1.5"/><circle cx="345.4" cy="426.34" r="1.5"/><circle cx="347.8" cy="424.56" r="1.5"/><circle cx="350.2" cy="424.22" r="1.5"/><circle cx="352.6" cy="426.41" r="1.5"/><circle cx="355" cy="427.36" r="1.5"/><circle cx="357.4" cy="425.28" r="1.5"/><circle cx="359.8" cy="424.27" r="1.5"/><circle cx="362.2" cy="426.52" r="1.5"/><circle cx="364.6" cy="425.23" r="1.5"/><circle cx="367" cy="425.76" r="1.5"/><circle cx="369.4" cy="427.51" r="1.5"/><circle cx="371.8" cy="426.91" r="1.5"/><circle cx="374.2" cy="424.57" r="1.5"/><circle cx="376.6" cy="428.44" r="1.5"/><circle cx="379" cy="425.3" r="1.5"/><circle cx="381.4" cy="426.34" r="1.5"/><circle cx="383.8" cy="424.46" r="1.5"/><circle cx="386.2" cy="425.24" r="1.5"/><circle cx="388.6" cy="423.13" r="1.5"/><circle cx="391" cy="427.46" r="1.5"/><circle cx="393.4" cy="426.92" r="1.5"/><circle cx="395.8" cy="423.89" r="1.5"/><circle cx="398.2" cy="423.58" r="1.5"/><circle cx="400.6" cy="423.49" r="1.5"/><circle cx="403" cy="426.59" r="1.5"/><circle cx="405.4" cy="424.8" r="1.5"/><circle cx="407.8" cy="425.24" r="1.5"/><circle cx="410.2" cy="424.97" r="1.5"/><circle cx="412.6" cy="425.17" r="1.5"/><circle cx="415" cy="424.19" r="1.5"/><circle cx="417.4" cy="425.32" r="1.5"/><circle cx="419.8" cy="423.86" r="1.5"/><circle cx="422.2" cy="425.23" r="1.5"/><circle cx="424.6" cy="425.61" r="1.5"/><circle cx="427" cy="425.76" r="1.5"/><circle cx="429.4" cy="425.07" r="1.5"/><circle cx="431.8" cy="424.42" r="1.5"/></g></g>
<g clip-path="url(#cp_c_m1)"><path d="M485.7 95.7V105.7M489 95.7V105.7M492 98V108M495 101.7V111.7M498 101.7V111.7M501.3 103.7V113.7M504.4 102.2V112.2M507.4 107.7V117.7M510.4 104V114M513.4 103.2V113.2M516.7 101.3V111.3M519.7 111.9V121.9M522.7 111.9V121.9M525.7 107V117M528.7 122.8V132.8M531.7 111.2V121.2M534.7 127.2V137.2M537.8 118.1V128.1M540.8 131.9V141.9M543.9 133.3V143.3M546.9 133.9V143.9M550 121.7V131.7M553 124.2V134.2M556.1 106.9V116.9M559.1 109.5V119.5M562.2 97.3V107.3M565.2 104.8V114.8M568.3 108.9V118.9M571.3 102V112M574.4 91.4V101.4M577.4 92.6V102.6M580.6 77.4V87.4M583.6 74.3V84.3M586.7 81.4V91.4M589.7 77.8V87.8M592.8 96.7V106.7M595.8 87.5V97.5M598.9 92.6V102.6M601.9 88V98M605 96.7V106.7M608 100.8V110.8M611.1 104.8V114.8M614.1 108.1V118.1M617.2 103.1V113.1M620.2 107.4V117.4M623.2 103.8V113.8M626.3 103.4V113.4M629.3 103.2V113.2M632.4 106.9V116.9M635.4 98.1V108.1M638.5 109.9V119.9M641.5 100.8V110.8M644.6 98.1V108.1M647.6 106.9V116.9M650.7 103.8V113.8" stroke="#6d93c8" stroke-width="1.1" fill="none"/><polyline points="485.7,100.7 489,100.7 492,103 495,106.7 498,106.7 501.3,108.7 504.4,107.2 507.4,112.7 510.4,109 513.4,108.2 516.7,106.3 519.7,116.9 522.7,116.9 525.7,112 528.7,127.8 531.7,116.2 534.7,132.2 537.8,123.1 540.8,136.9 543.9,138.3 546.9,138.9 550,126.7 553,129.2 556.1,111.9 559.1,114.5 562.2,102.3 565.2,109.8 568.3,113.9 571.3,107 574.4,96.4 577.4,97.6 580.6,82.4 583.6,79.3 586.7,86.4 589.7,82.8 592.8,101.7 595.8,92.5 598.9,97.6 601.9,93 605,101.7 608,105.8 611.1,109.8 614.1,113.1 617.2,108.1 620.2,112.4 623.2,108.8 626.3,108.4 629.3,108.2 632.4,111.9 635.4,103.1 638.5,114.9 641.5,105.8 644.6,103.1 647.6,111.9 650.7,108.8" fill="none" stroke="#1350a0" stroke-width="1.1" stroke-linejoin="round"/><g fill="#1350a0"><circle cx="485.7" cy="100.7" r="1.35"/><circle cx="489" cy="100.7" r="1.35"/><circle cx="492" cy="103" r="1.35"/><circle cx="495" cy="106.7" r="1.35"/><circle cx="498" cy="106.7" r="1.35"/><circle cx="501.3" cy="108.7" r="1.35"/><circle cx="504.4" cy="107.2" r="1.35"/><circle cx="507.4" cy="112.7" r="1.35"/><circle cx="510.4" cy="109" r="1.35"/><circle cx="513.4" cy="108.2" r="1.35"/><circle cx="516.7" cy="106.3" r="1.35"/><circle cx="519.7" cy="116.9" r="1.35"/><circle cx="522.7" cy="116.9" r="1.35"/><circle cx="525.7" cy="112" r="1.35"/><circle cx="528.7" cy="127.8" r="1.35"/><circle cx="531.7" cy="116.2" r="1.35"/><circle cx="534.7" cy="132.2" r="1.35"/><circle cx="537.8" cy="123.1" r="1.35"/><circle cx="540.8" cy="136.9" r="1.35"/><circle cx="543.9" cy="138.3" r="1.35"/><circle cx="546.9" cy="138.9" r="1.35"/><circle cx="550" cy="126.7" r="1.35"/><circle cx="553" cy="129.2" r="1.35"/><circle cx="556.1" cy="111.9" r="1.35"/><circle cx="559.1" cy="114.5" r="1.35"/><circle cx="562.2" cy="102.3" r="1.35"/><circle cx="565.2" cy="109.8" r="1.35"/><circle cx="568.3" cy="113.9" r="1.35"/><circle cx="571.3" cy="107" r="1.35"/><circle cx="574.4" cy="96.4" r="1.35"/><circle cx="577.4" cy="97.6" r="1.35"/><circle cx="580.6" cy="82.4" r="1.35"/><circle cx="583.6" cy="79.3" r="1.35"/><circle cx="586.7" cy="86.4" r="1.35"/><circle cx="589.7" cy="82.8" r="1.35"/><circle cx="592.8" cy="101.7" r="1.35"/><circle cx="595.8" cy="92.5" r="1.35"/><circle cx="598.9" cy="97.6" r="1.35"/><circle cx="601.9" cy="93" r="1.35"/><circle cx="605" cy="101.7" r="1.35"/><circle cx="608" cy="105.8" r="1.35"/><circle cx="611.1" cy="109.8" r="1.35"/><circle cx="614.1" cy="113.1" r="1.35"/><circle cx="617.2" cy="108.1" r="1.35"/><circle cx="620.2" cy="112.4" r="1.35"/><circle cx="623.2" cy="108.8" r="1.35"/><circle cx="626.3" cy="108.4" r="1.35"/><circle cx="629.3" cy="108.2" r="1.35"/><circle cx="632.4" cy="111.9" r="1.35"/><circle cx="635.4" cy="103.1" r="1.35"/><circle cx="638.5" cy="114.9" r="1.35"/><circle cx="641.5" cy="105.8" r="1.35"/><circle cx="644.6" cy="103.1" r="1.35"/><circle cx="647.6" cy="111.9" r="1.35"/><circle cx="650.7" cy="108.8" r="1.35"/></g></g>
<g clip-path="url(#cp_c_m2)"><path d="M484 227.3V242.3M486 222.4V237.4M489 231.3V246.3M492.6 231.3V246.3M495.5 231.7V246.7M498.5 234.3V249.3M501.5 235.7V250.7M504.5 228.9V243.9M507.5 221.8V236.8M510.5 232.9V247.9M513.5 226.3V241.3M516.5 219.4V234.4M519.5 230.3V245.3M522.4 231.3V246.3M525.4 235.3V250.3M528.6 240.3V255.3M532 236.3V251.3M535 230.3V245.3M538 224.9V239.9M541.1 231.3V246.3M544.1 212.4V227.4M547.1 215.8V230.8M550.1 207V222M553.1 211.4V226.4M556.3 204.4V219.4M559.3 209.4V224.4M562.3 214.4V229.4M565.3 213.4V228.4M568.2 223.3V238.3M571.1 235.8V250.8M574.4 245.3V260.3M577.5 238.3V253.3M580.8 233.3V248.3M583.7 242.3V257.3M586.9 236.3V251.3M589.9 231.3V246.3M592.9 223.3V238.3M596.1 229.3V244.3M599.1 222.4V237.4M602.3 218.4V233.4M605.3 227.3V242.3M608.2 221.4V236.4M611.2 225.3V240.3M614.2 222.4V237.4M617.3 224.3V239.3M620.4 226.3V241.3M623.3 223.3V238.3M626.5 227.7V242.7M629.5 206.4V221.4M632.5 217.4V232.4M635.7 225.3V240.3M638.9 220.4V235.4M641.9 224.3V239.3M645.1 227.3V242.3M648 222.4V237.4M651.2 219.4V234.4" stroke="#6d93c8" stroke-width="1.1" fill="none"/><polyline points="484,234.8 486,229.9 489,238.8 492.6,238.8 495.5,239.2 498.5,241.8 501.5,243.2 504.5,236.4 507.5,229.3 510.5,240.4 513.5,233.8 516.5,226.9 519.5,237.8 522.4,238.8 525.4,242.8 528.6,247.8 532,243.8 535,237.8 538,232.4 541.1,238.8 544.1,219.9 547.1,223.3 550.1,214.5 553.1,218.9 556.3,211.9 559.3,216.9 562.3,221.9 565.3,220.9 568.2,230.8 571.1,243.3 574.4,252.8 577.5,245.8 580.8,240.8 583.7,249.8 586.9,243.8 589.9,238.8 592.9,230.8 596.1,236.8 599.1,229.9 602.3,225.9 605.3,234.8 608.2,228.9 611.2,232.8 614.2,229.9 617.3,231.8 620.4,233.8 623.3,230.8 626.5,235.2 629.5,213.9 632.5,224.9 635.7,232.8 638.9,227.9 641.9,231.8 645.1,234.8 648,229.9 651.2,226.9" fill="none" stroke="#1350a0" stroke-width="1.1" stroke-linejoin="round"/><g fill="#1350a0"><circle cx="484" cy="234.8" r="1.35"/><circle cx="486" cy="229.9" r="1.35"/><circle cx="489" cy="238.8" r="1.35"/><circle cx="492.6" cy="238.8" r="1.35"/><circle cx="495.5" cy="239.2" r="1.35"/><circle cx="498.5" cy="241.8" r="1.35"/><circle cx="501.5" cy="243.2" r="1.35"/><circle cx="504.5" cy="236.4" r="1.35"/><circle cx="507.5" cy="229.3" r="1.35"/><circle cx="510.5" cy="240.4" r="1.35"/><circle cx="513.5" cy="233.8" r="1.35"/><circle cx="516.5" cy="226.9" r="1.35"/><circle cx="519.5" cy="237.8" r="1.35"/><circle cx="522.4" cy="238.8" r="1.35"/><circle cx="525.4" cy="242.8" r="1.35"/><circle cx="528.6" cy="247.8" r="1.35"/><circle cx="532" cy="243.8" r="1.35"/><circle cx="535" cy="237.8" r="1.35"/><circle cx="538" cy="232.4" r="1.35"/><circle cx="541.1" cy="238.8" r="1.35"/><circle cx="544.1" cy="219.9" r="1.35"/><circle cx="547.1" cy="223.3" r="1.35"/><circle cx="550.1" cy="214.5" r="1.35"/><circle cx="553.1" cy="218.9" r="1.35"/><circle cx="556.3" cy="211.9" r="1.35"/><circle cx="559.3" cy="216.9" r="1.35"/><circle cx="562.3" cy="221.9" r="1.35"/><circle cx="565.3" cy="220.9" r="1.35"/><circle cx="568.2" cy="230.8" r="1.35"/><circle cx="571.1" cy="243.3" r="1.35"/><circle cx="574.4" cy="252.8" r="1.35"/><circle cx="577.5" cy="245.8" r="1.35"/><circle cx="580.8" cy="240.8" r="1.35"/><circle cx="583.7" cy="249.8" r="1.35"/><circle cx="586.9" cy="243.8" r="1.35"/><circle cx="589.9" cy="238.8" r="1.35"/><circle cx="592.9" cy="230.8" r="1.35"/><circle cx="596.1" cy="236.8" r="1.35"/><circle cx="599.1" cy="229.9" r="1.35"/><circle cx="602.3" cy="225.9" r="1.35"/><circle cx="605.3" cy="234.8" r="1.35"/><circle cx="608.2" cy="228.9" r="1.35"/><circle cx="611.2" cy="232.8" r="1.35"/><circle cx="614.2" cy="229.9" r="1.35"/><circle cx="617.3" cy="231.8" r="1.35"/><circle cx="620.4" cy="233.8" r="1.35"/><circle cx="623.3" cy="230.8" r="1.35"/><circle cx="626.5" cy="235.2" r="1.35"/><circle cx="629.5" cy="213.9" r="1.35"/><circle cx="632.5" cy="224.9" r="1.35"/><circle cx="635.7" cy="232.8" r="1.35"/><circle cx="638.9" cy="227.9" r="1.35"/><circle cx="641.9" cy="231.8" r="1.35"/><circle cx="645.1" cy="234.8" r="1.35"/><circle cx="648" cy="229.9" r="1.35"/><circle cx="651.2" cy="226.9" r="1.35"/></g></g>
<g clip-path="url(#cp_c_m3)"><path d="M484 362.8V374.8M487 365.8V377.8M490 362.8V374.8M493 362.8V374.8M496 361.8V373.8M498.9 364.2V376.2M500.5 360.8V372.8M503.5 365.8V377.8M506.5 363.4V375.4M509.5 368.8V380.8M512.5 364.2V376.2M515.5 368.8V380.8M518.5 366.2V378.2M521.4 377.7V389.7M524.4 365.8V377.8M527.6 369.2V381.2M531 366.8V378.8M534 371.8V383.8M537 368.2V380.2M540 371.4V383.4M543 369.8V381.8M545.9 374.7V386.7M548.9 377.7V389.7M551.9 387.3V399.3M555.3 386.7V398.7M558.3 387.7V399.7M561.3 374.7V386.7M564.3 359.8V371.8M567.2 374.7V386.7M570.4 358.5V370.5M573.4 365V377M576.5 343.2V355.2M579.6 356.2V368.2M582.5 330.9V342.9M585.7 354.8V366.8M588.9 339.9V351.9M591.9 348.3V360.3M594.9 348.9V360.9M597.9 347.9V359.9M600.9 352.8V364.8M603.9 357.8V369.8M607.1 355.4V367.4M610.5 355.8V367.8M613.5 357.1V369.1M616.4 363.1V375.1M619.3 367.6V379.6M622.4 360.2V372.2M625.3 360.2V372.2M628.3 359.8V371.8M631.5 354.8V366.8M634.5 358.2V370.2M637.5 361.4V373.4M640.5 365.4V377.4M643.7 358.8V370.8M646.7 362.2V374.2M649.8 359.8V371.8" stroke="#6d93c8" stroke-width="1.1" fill="none"/><polyline points="484,368.8 487,371.8 490,368.8 493,368.8 496,367.8 498.9,370.2 500.5,366.8 503.5,371.8 506.5,369.4 509.5,374.8 512.5,370.2 515.5,374.8 518.5,372.2 521.4,383.7 524.4,371.8 527.6,375.2 531,372.8 534,377.8 537,374.2 540,377.4 543,375.8 545.9,380.7 548.9,383.7 551.9,393.3 555.3,392.7 558.3,393.7 561.3,380.7 564.3,365.8 567.2,380.7 570.4,364.5 573.4,371 576.5,349.2 579.6,362.2 582.5,336.9 585.7,360.8 588.9,345.9 591.9,354.3 594.9,354.9 597.9,353.9 600.9,358.8 603.9,363.8 607.1,361.4 610.5,361.8 613.5,363.1 616.4,369.1 619.3,373.6 622.4,366.2 625.3,366.2 628.3,365.8 631.5,360.8 634.5,364.2 637.5,367.4 640.5,371.4 643.7,364.8 646.7,368.2 649.8,365.8" fill="none" stroke="#1350a0" stroke-width="1.1" stroke-linejoin="round"/><g fill="#1350a0"><circle cx="484" cy="368.8" r="1.35"/><circle cx="487" cy="371.8" r="1.35"/><circle cx="490" cy="368.8" r="1.35"/><circle cx="493" cy="368.8" r="1.35"/><circle cx="496" cy="367.8" r="1.35"/><circle cx="498.9" cy="370.2" r="1.35"/><circle cx="500.5" cy="366.8" r="1.35"/><circle cx="503.5" cy="371.8" r="1.35"/><circle cx="506.5" cy="369.4" r="1.35"/><circle cx="509.5" cy="374.8" r="1.35"/><circle cx="512.5" cy="370.2" r="1.35"/><circle cx="515.5" cy="374.8" r="1.35"/><circle cx="518.5" cy="372.2" r="1.35"/><circle cx="521.4" cy="383.7" r="1.35"/><circle cx="524.4" cy="371.8" r="1.35"/><circle cx="527.6" cy="375.2" r="1.35"/><circle cx="531" cy="372.8" r="1.35"/><circle cx="534" cy="377.8" r="1.35"/><circle cx="537" cy="374.2" r="1.35"/><circle cx="540" cy="377.4" r="1.35"/><circle cx="543" cy="375.8" r="1.35"/><circle cx="545.9" cy="380.7" r="1.35"/><circle cx="548.9" cy="383.7" r="1.35"/><circle cx="551.9" cy="393.3" r="1.35"/><circle cx="555.3" cy="392.7" r="1.35"/><circle cx="558.3" cy="393.7" r="1.35"/><circle cx="561.3" cy="380.7" r="1.35"/><circle cx="564.3" cy="365.8" r="1.35"/><circle cx="567.2" cy="380.7" r="1.35"/><circle cx="570.4" cy="364.5" r="1.35"/><circle cx="573.4" cy="371" r="1.35"/><circle cx="576.5" cy="349.2" r="1.35"/><circle cx="579.6" cy="362.2" r="1.35"/><circle cx="582.5" cy="336.9" r="1.35"/><circle cx="585.7" cy="360.8" r="1.35"/><circle cx="588.9" cy="345.9" r="1.35"/><circle cx="591.9" cy="354.3" r="1.35"/><circle cx="594.9" cy="354.9" r="1.35"/><circle cx="597.9" cy="353.9" r="1.35"/><circle cx="600.9" cy="358.8" r="1.35"/><circle cx="603.9" cy="363.8" r="1.35"/><circle cx="607.1" cy="361.4" r="1.35"/><circle cx="610.5" cy="361.8" r="1.35"/><circle cx="613.5" cy="363.1" r="1.35"/><circle cx="616.4" cy="369.1" r="1.35"/><circle cx="619.3" cy="373.6" r="1.35"/><circle cx="622.4" cy="366.2" r="1.35"/><circle cx="625.3" cy="366.2" r="1.35"/><circle cx="628.3" cy="365.8" r="1.35"/><circle cx="631.5" cy="360.8" r="1.35"/><circle cx="634.5" cy="364.2" r="1.35"/><circle cx="637.5" cy="367.4" r="1.35"/><circle cx="640.5" cy="371.4" r="1.35"/><circle cx="643.7" cy="364.8" r="1.35"/><circle cx="646.7" cy="368.2" r="1.35"/><circle cx="649.8" cy="365.8" r="1.35"/></g></g>
<g clip-path="url(#cp_c_n1)"><path d="M485.5 173.5V177.5M488.6 170.4V174.4M491.9 167.9V171.9M495.2 175.4V179.4M498.1 171V175M501.4 172.3V176.3M504.3 173.5V177.5M507.4 172.9V176.9M510.5 171V175M513.6 173.5V177.5M516.5 165.4V169.4M519.6 169.8V173.8M522.7 170.4V174.4M525.8 176V180M528.9 167.3V171.3M532 177.2V181.2M535.1 171.6V175.6M538 170.4V174.4M541.1 175.4V179.4M544.2 171.6V175.6M547.3 173.5V177.5M550.2 172.9V176.9M553.3 177.9V181.9M556.4 169.8V173.8M559.5 172.9V176.9M562.4 175.4V179.4M565.5 167.3V171.3M568.6 169.8V173.8M571.5 175.4V179.4M574.5 174.1V178.1M577.6 172.9V176.9M580.7 176V180M583.8 172.3V176.3M586.9 171V175M590 172.3V176.3M593.1 174.1V178.1M596.2 172.9V176.9M599 171V175M602.1 169.8V173.8M605.2 170.4V174.4M608.3 169.8V173.8M611.4 174.1V178.1M614.5 172.3V176.3M617.6 175.4V179.4M620.7 168.5V172.5M623.5 182.8V186.8M626.6 164.8V168.8M629.7 167.9V171.9M632.8 169.2V173.2M635.9 170.4V174.4M638.7 167.3V171.3M641.8 178.5V182.5M644.9 176V180M648 170.4V174.4M651.1 169.8V173.8" stroke="#6d93c8" stroke-width="1.2" fill="none"/><polyline points="485.5,175.5 488.6,172.4 491.9,169.9 495.2,177.4 498.1,173 501.4,174.3 504.3,175.5 507.4,174.9 510.5,173 513.6,175.5 516.5,167.4 519.6,171.8 522.7,172.4 525.8,178 528.9,169.3 532,179.2 535.1,173.6 538,172.4 541.1,177.4 544.2,173.6 547.3,175.5 550.2,174.9 553.3,179.9 556.4,171.8 559.5,174.9 562.4,177.4 565.5,169.3 568.6,171.8 571.5,177.4 574.5,176.1 577.6,174.9 580.7,178 583.8,174.3 586.9,173 590,174.3 593.1,176.1 596.2,174.9 599,173 602.1,171.8 605.2,172.4 608.3,171.8 611.4,176.1 614.5,174.3 617.6,177.4 620.7,170.5 623.5,184.8 626.6,166.8 629.7,169.9 632.8,171.2 635.9,172.4 638.7,169.3 641.8,180.5 644.9,178 648,172.4 651.1,171.8" fill="none" stroke="#1350a0" stroke-width="1.25" stroke-linejoin="round"/><g fill="#1350a0"><circle cx="485.5" cy="175.5" r="1.5"/><circle cx="488.6" cy="172.4" r="1.5"/><circle cx="491.9" cy="169.9" r="1.5"/><circle cx="495.2" cy="177.4" r="1.5"/><circle cx="498.1" cy="173" r="1.5"/><circle cx="501.4" cy="174.3" r="1.5"/><circle cx="504.3" cy="175.5" r="1.5"/><circle cx="507.4" cy="174.9" r="1.5"/><circle cx="510.5" cy="173" r="1.5"/><circle cx="513.6" cy="175.5" r="1.5"/><circle cx="516.5" cy="167.4" r="1.5"/><circle cx="519.6" cy="171.8" r="1.5"/><circle cx="522.7" cy="172.4" r="1.5"/><circle cx="525.8" cy="178" r="1.5"/><circle cx="528.9" cy="169.3" r="1.5"/><circle cx="532" cy="179.2" r="1.5"/><circle cx="535.1" cy="173.6" r="1.5"/><circle cx="538" cy="172.4" r="1.5"/><circle cx="541.1" cy="177.4" r="1.5"/><circle cx="544.2" cy="173.6" r="1.5"/><circle cx="547.3" cy="175.5" r="1.5"/><circle cx="550.2" cy="174.9" r="1.5"/><circle cx="553.3" cy="179.9" r="1.5"/><circle cx="556.4" cy="171.8" r="1.5"/><circle cx="559.5" cy="174.9" r="1.5"/><circle cx="562.4" cy="177.4" r="1.5"/><circle cx="565.5" cy="169.3" r="1.5"/><circle cx="568.6" cy="171.8" r="1.5"/><circle cx="571.5" cy="177.4" r="1.5"/><circle cx="574.5" cy="176.1" r="1.5"/><circle cx="577.6" cy="174.9" r="1.5"/><circle cx="580.7" cy="178" r="1.5"/><circle cx="583.8" cy="174.3" r="1.5"/><circle cx="586.9" cy="173" r="1.5"/><circle cx="590" cy="174.3" r="1.5"/><circle cx="593.1" cy="176.1" r="1.5"/><circle cx="596.2" cy="174.9" r="1.5"/><circle cx="599" cy="173" r="1.5"/><circle cx="602.1" cy="171.8" r="1.5"/><circle cx="605.2" cy="172.4" r="1.5"/><circle cx="608.3" cy="171.8" r="1.5"/><circle cx="611.4" cy="176.1" r="1.5"/><circle cx="614.5" cy="174.3" r="1.5"/><circle cx="617.6" cy="177.4" r="1.5"/><circle cx="620.7" cy="170.5" r="1.5"/><circle cx="623.5" cy="184.8" r="1.5"/><circle cx="626.6" cy="166.8" r="1.5"/><circle cx="629.7" cy="169.9" r="1.5"/><circle cx="632.8" cy="171.2" r="1.5"/><circle cx="635.9" cy="172.4" r="1.5"/><circle cx="638.7" cy="169.3" r="1.5"/><circle cx="641.8" cy="180.5" r="1.5"/><circle cx="644.9" cy="178" r="1.5"/><circle cx="648" cy="172.4" r="1.5"/><circle cx="651.1" cy="171.8" r="1.5"/></g></g>
<g clip-path="url(#cp_c_n2)"><path d="M483.6 296V300M486.1 299.1V303.1M489.2 294.8V298.8M492.3 301.6V305.6M495.4 298.5V302.5M498.5 296V300M501.4 299.1V303.1M504.5 298.5V302.5M507.6 299.7V303.7M510.5 294.8V298.8M513.6 299.1V303.1M516.7 299.7V303.7M519.8 297.9V301.9M522.7 294.8V298.8M525.8 297.3V301.3M528.9 298.1V302.1M532 298.5V302.5M535.1 301V305M538 297.9V301.9M541.1 299.1V303.1M544.2 296.6V300.6M547.3 299.7V303.7M550.2 297.3V301.3M553.3 297.9V301.9M556.4 297.3V301.3M559.5 296.9V300.9M562.4 298.5V302.5M565.5 298.5V302.5M568.6 298.5V302.5M571.7 295.2V299.2M574.8 301V305M577.9 297.9V301.9M581 299.7V303.7M583.9 301.4V305.4M587 299.1V303.1M590.1 296V300M593.2 297.6V301.6M596.3 297.3V301.3M599.3 296V300M602.4 298.1V302.1M605.5 296V300M608.6 299.7V303.7M611.7 300.4V304.4M614.8 298.5V302.5M617.6 298.9V302.9M620.7 295.4V299.4M623.8 300.1V304.1M626.7 292.3V296.3M629.7 301V305M632.8 295.4V299.4M635.9 302.2V306.2M639 297.6V301.6M642.1 298.5V302.5M645.2 299.7V303.7M648.3 296V300M651.4 299.7V303.7" stroke="#6d93c8" stroke-width="1.2" fill="none"/><polyline points="483.6,298 486.1,301.1 489.2,296.8 492.3,303.6 495.4,300.5 498.5,298 501.4,301.1 504.5,300.5 507.6,301.7 510.5,296.8 513.6,301.1 516.7,301.7 519.8,299.9 522.7,296.8 525.8,299.3 528.9,300.1 532,300.5 535.1,303 538,299.9 541.1,301.1 544.2,298.6 547.3,301.7 550.2,299.3 553.3,299.9 556.4,299.3 559.5,298.9 562.4,300.5 565.5,300.5 568.6,300.5 571.7,297.2 574.8,303 577.9,299.9 581,301.7 583.9,303.4 587,301.1 590.1,298 593.2,299.6 596.3,299.3 599.3,298 602.4,300.1 605.5,298 608.6,301.7 611.7,302.4 614.8,300.5 617.6,300.9 620.7,297.4 623.8,302.1 626.7,294.3 629.7,303 632.8,297.4 635.9,304.2 639,299.6 642.1,300.5 645.2,301.7 648.3,298 651.4,301.7" fill="none" stroke="#1350a0" stroke-width="1.25" stroke-linejoin="round"/><g fill="#1350a0"><circle cx="483.6" cy="298" r="1.5"/><circle cx="486.1" cy="301.1" r="1.5"/><circle cx="489.2" cy="296.8" r="1.5"/><circle cx="492.3" cy="303.6" r="1.5"/><circle cx="495.4" cy="300.5" r="1.5"/><circle cx="498.5" cy="298" r="1.5"/><circle cx="501.4" cy="301.1" r="1.5"/><circle cx="504.5" cy="300.5" r="1.5"/><circle cx="507.6" cy="301.7" r="1.5"/><circle cx="510.5" cy="296.8" r="1.5"/><circle cx="513.6" cy="301.1" r="1.5"/><circle cx="516.7" cy="301.7" r="1.5"/><circle cx="519.8" cy="299.9" r="1.5"/><circle cx="522.7" cy="296.8" r="1.5"/><circle cx="525.8" cy="299.3" r="1.5"/><circle cx="528.9" cy="300.1" r="1.5"/><circle cx="532" cy="300.5" r="1.5"/><circle cx="535.1" cy="303" r="1.5"/><circle cx="538" cy="299.9" r="1.5"/><circle cx="541.1" cy="301.1" r="1.5"/><circle cx="544.2" cy="298.6" r="1.5"/><circle cx="547.3" cy="301.7" r="1.5"/><circle cx="550.2" cy="299.3" r="1.5"/><circle cx="553.3" cy="299.9" r="1.5"/><circle cx="556.4" cy="299.3" r="1.5"/><circle cx="559.5" cy="298.9" r="1.5"/><circle cx="562.4" cy="300.5" r="1.5"/><circle cx="565.5" cy="300.5" r="1.5"/><circle cx="568.6" cy="300.5" r="1.5"/><circle cx="571.7" cy="297.2" r="1.5"/><circle cx="574.8" cy="303" r="1.5"/><circle cx="577.9" cy="299.9" r="1.5"/><circle cx="581" cy="301.7" r="1.5"/><circle cx="583.9" cy="303.4" r="1.5"/><circle cx="587" cy="301.1" r="1.5"/><circle cx="590.1" cy="298" r="1.5"/><circle cx="593.2" cy="299.6" r="1.5"/><circle cx="596.3" cy="299.3" r="1.5"/><circle cx="599.3" cy="298" r="1.5"/><circle cx="602.4" cy="300.1" r="1.5"/><circle cx="605.5" cy="298" r="1.5"/><circle cx="608.6" cy="301.7" r="1.5"/><circle cx="611.7" cy="302.4" r="1.5"/><circle cx="614.8" cy="300.5" r="1.5"/><circle cx="617.6" cy="300.9" r="1.5"/><circle cx="620.7" cy="297.4" r="1.5"/><circle cx="623.8" cy="302.1" r="1.5"/><circle cx="626.7" cy="294.3" r="1.5"/><circle cx="629.7" cy="303" r="1.5"/><circle cx="632.8" cy="297.4" r="1.5"/><circle cx="635.9" cy="304.2" r="1.5"/><circle cx="639" cy="299.6" r="1.5"/><circle cx="642.1" cy="300.5" r="1.5"/><circle cx="645.2" cy="301.7" r="1.5"/><circle cx="648.3" cy="298" r="1.5"/><circle cx="651.4" cy="301.7" r="1.5"/></g></g>
<g clip-path="url(#cp_c_n3)"><path d="M484.9 423.9V427.9M488 423.9V427.9M491.1 424.1V428.1M494.2 416.9V420.9M497.3 424.1V428.1M500.4 421V425M503.2 424.1V428.1M506.3 422.6V426.6M509.4 422.6V426.6M512.5 424.7V428.7M515.5 422.3V426.3M518.6 426.4V430.4M521.7 423.5V427.5M524.8 420.2V424.2M527.9 423.9V427.9M530.8 420.4V424.4M533.9 425.1V429.1M537 422.6V426.6M540.1 426V430M543.2 423.5V427.5M546 423.9V427.9M549.1 422.9V426.9M552.2 424.1V428.1M555.3 425.4V429.4M558.3 423.5V427.5M561.4 425.1V429.1M564.5 420.4V424.4M567.4 419.8V423.8M570.5 421V425M573.6 419.8V423.8M576.4 415.2V419.2M579.5 425.4V429.4M582.6 426.6V430.6M585.7 421.6V425.6M588.8 422.3V426.3M591.9 422.3V426.3M595 421.9V425.9M598 421V425M601.1 419.2V423.2M604.2 422.9V426.9M607.3 419.8V423.8M610.4 422.3V426.3M613.5 421.9V425.9M616.4 426V430M619.5 418.5V422.5M622.6 421V425M625.4 427.2V431.2M628.5 421.6V425.6M631.6 420.2V424.2M634.7 423.5V427.5M637.7 425.4V429.4M640.8 419.8V423.8M643.9 421.9V425.9M647 424.1V428.1M650.1 421V425M652.6 426.6V430.6" stroke="#6d93c8" stroke-width="1.2" fill="none"/><polyline points="484.9,425.9 488,425.9 491.1,426.1 494.2,418.9 497.3,426.1 500.4,423 503.2,426.1 506.3,424.6 509.4,424.6 512.5,426.7 515.5,424.3 518.6,428.4 521.7,425.5 524.8,422.2 527.9,425.9 530.8,422.4 533.9,427.1 537,424.6 540.1,428 543.2,425.5 546,425.9 549.1,424.9 552.2,426.1 555.3,427.4 558.3,425.5 561.4,427.1 564.5,422.4 567.4,421.8 570.5,423 573.6,421.8 576.4,417.2 579.5,427.4 582.6,428.6 585.7,423.6 588.8,424.3 591.9,424.3 595,423.9 598,423 601.1,421.2 604.2,424.9 607.3,421.8 610.4,424.3 613.5,423.9 616.4,428 619.5,420.5 622.6,423 625.4,429.2 628.5,423.6 631.6,422.2 634.7,425.5 637.7,427.4 640.8,421.8 643.9,423.9 647,426.1 650.1,423 652.6,428.6" fill="none" stroke="#1350a0" stroke-width="1.25" stroke-linejoin="round"/><g fill="#1350a0"><circle cx="484.9" cy="425.9" r="1.5"/><circle cx="488" cy="425.9" r="1.5"/><circle cx="491.1" cy="426.1" r="1.5"/><circle cx="494.2" cy="418.9" r="1.5"/><circle cx="497.3" cy="426.1" r="1.5"/><circle cx="500.4" cy="423" r="1.5"/><circle cx="503.2" cy="426.1" r="1.5"/><circle cx="506.3" cy="424.6" r="1.5"/><circle cx="509.4" cy="424.6" r="1.5"/><circle cx="512.5" cy="426.7" r="1.5"/><circle cx="515.5" cy="424.3" r="1.5"/><circle cx="518.6" cy="428.4" r="1.5"/><circle cx="521.7" cy="425.5" r="1.5"/><circle cx="524.8" cy="422.2" r="1.5"/><circle cx="527.9" cy="425.9" r="1.5"/><circle cx="530.8" cy="422.4" r="1.5"/><circle cx="533.9" cy="427.1" r="1.5"/><circle cx="537" cy="424.6" r="1.5"/><circle cx="540.1" cy="428" r="1.5"/><circle cx="543.2" cy="425.5" r="1.5"/><circle cx="546" cy="425.9" r="1.5"/><circle cx="549.1" cy="424.9" r="1.5"/><circle cx="552.2" cy="426.1" r="1.5"/><circle cx="555.3" cy="427.4" r="1.5"/><circle cx="558.3" cy="425.5" r="1.5"/><circle cx="561.4" cy="427.1" r="1.5"/><circle cx="564.5" cy="422.4" r="1.5"/><circle cx="567.4" cy="421.8" r="1.5"/><circle cx="570.5" cy="423" r="1.5"/><circle cx="573.6" cy="421.8" r="1.5"/><circle cx="576.4" cy="417.2" r="1.5"/><circle cx="579.5" cy="427.4" r="1.5"/><circle cx="582.6" cy="428.6" r="1.5"/><circle cx="585.7" cy="423.6" r="1.5"/><circle cx="588.8" cy="424.3" r="1.5"/><circle cx="591.9" cy="424.3" r="1.5"/><circle cx="595" cy="423.9" r="1.5"/><circle cx="598" cy="423" r="1.5"/><circle cx="601.1" cy="421.2" r="1.5"/><circle cx="604.2" cy="424.9" r="1.5"/><circle cx="607.3" cy="421.8" r="1.5"/><circle cx="610.4" cy="424.3" r="1.5"/><circle cx="613.5" cy="423.9" r="1.5"/><circle cx="616.4" cy="428" r="1.5"/><circle cx="619.5" cy="420.5" r="1.5"/><circle cx="622.6" cy="423" r="1.5"/><circle cx="625.4" cy="429.2" r="1.5"/><circle cx="628.5" cy="423.6" r="1.5"/><circle cx="631.6" cy="422.2" r="1.5"/><circle cx="634.7" cy="425.5" r="1.5"/><circle cx="637.7" cy="427.4" r="1.5"/><circle cx="640.8" cy="421.8" r="1.5"/><circle cx="643.9" cy="423.9" r="1.5"/><circle cx="647" cy="426.1" r="1.5"/><circle cx="650.1" cy="423" r="1.5"/><circle cx="652.6" cy="428.6" r="1.5"/></g></g>
<line x1="50.97" y1="32.5" x2="50.97" y2="35.7" stroke="#333" stroke-width="0.8"/>
<line x1="50.97" y1="158.4" x2="50.97" y2="155.2" stroke="#333" stroke-width="0.8"/>
<line x1="59.45" y1="32.5" x2="59.45" y2="38" stroke="#000" stroke-width="1.0"/>
<line x1="59.45" y1="158.4" x2="59.45" y2="152.9" stroke="#000" stroke-width="1.0"/>
<line x1="67.92" y1="32.5" x2="67.92" y2="35.7" stroke="#333" stroke-width="0.8"/>
<line x1="67.92" y1="158.4" x2="67.92" y2="155.2" stroke="#333" stroke-width="0.8"/>
<line x1="76.4" y1="32.5" x2="76.4" y2="35.7" stroke="#333" stroke-width="0.8"/>
<line x1="76.4" y1="158.4" x2="76.4" y2="155.2" stroke="#333" stroke-width="0.8"/>
<line x1="84.88" y1="32.5" x2="84.88" y2="35.7" stroke="#333" stroke-width="0.8"/>
<line x1="84.88" y1="158.4" x2="84.88" y2="155.2" stroke="#333" stroke-width="0.8"/>
<line x1="93.35" y1="32.5" x2="93.35" y2="38" stroke="#000" stroke-width="1.0"/>
<line x1="93.35" y1="158.4" x2="93.35" y2="152.9" stroke="#000" stroke-width="1.0"/>
<line x1="101.83" y1="32.5" x2="101.83" y2="35.7" stroke="#333" stroke-width="0.8"/>
<line x1="101.83" y1="158.4" x2="101.83" y2="155.2" stroke="#333" stroke-width="0.8"/>
<line x1="110.3" y1="32.5" x2="110.3" y2="35.7" stroke="#333" stroke-width="0.8"/>
<line x1="110.3" y1="158.4" x2="110.3" y2="155.2" stroke="#333" stroke-width="0.8"/>
<line x1="118.78" y1="32.5" x2="118.78" y2="35.7" stroke="#333" stroke-width="0.8"/>
<line x1="118.78" y1="158.4" x2="118.78" y2="155.2" stroke="#333" stroke-width="0.8"/>
<line x1="127.25" y1="32.5" x2="127.25" y2="38" stroke="#000" stroke-width="1.0"/>
<line x1="127.25" y1="158.4" x2="127.25" y2="152.9" stroke="#000" stroke-width="1.0"/>
<line x1="135.72" y1="32.5" x2="135.72" y2="35.7" stroke="#333" stroke-width="0.8"/>
<line x1="135.72" y1="158.4" x2="135.72" y2="155.2" stroke="#333" stroke-width="0.8"/>
<line x1="144.2" y1="32.5" x2="144.2" y2="35.7" stroke="#333" stroke-width="0.8"/>
<line x1="144.2" y1="158.4" x2="144.2" y2="155.2" stroke="#333" stroke-width="0.8"/>
<line x1="152.68" y1="32.5" x2="152.68" y2="35.7" stroke="#333" stroke-width="0.8"/>
<line x1="152.68" y1="158.4" x2="152.68" y2="155.2" stroke="#333" stroke-width="0.8"/>
<line x1="161.15" y1="32.5" x2="161.15" y2="38" stroke="#000" stroke-width="1.0"/>
<line x1="161.15" y1="158.4" x2="161.15" y2="152.9" stroke="#000" stroke-width="1.0"/>
<line x1="169.62" y1="32.5" x2="169.62" y2="35.7" stroke="#333" stroke-width="0.8"/>
<line x1="169.62" y1="158.4" x2="169.62" y2="155.2" stroke="#333" stroke-width="0.8"/>
<line x1="178.1" y1="32.5" x2="178.1" y2="35.7" stroke="#333" stroke-width="0.8"/>
<line x1="178.1" y1="158.4" x2="178.1" y2="155.2" stroke="#333" stroke-width="0.8"/>
<line x1="186.57" y1="32.5" x2="186.57" y2="35.7" stroke="#333" stroke-width="0.8"/>
<line x1="186.57" y1="158.4" x2="186.57" y2="155.2" stroke="#333" stroke-width="0.8"/>
<line x1="195.05" y1="32.5" x2="195.05" y2="38" stroke="#000" stroke-width="1.0"/>
<line x1="195.05" y1="158.4" x2="195.05" y2="152.9" stroke="#000" stroke-width="1.0"/>
<line x1="203.53" y1="32.5" x2="203.53" y2="35.7" stroke="#333" stroke-width="0.8"/>
<line x1="203.53" y1="158.4" x2="203.53" y2="155.2" stroke="#333" stroke-width="0.8"/>
<line x1="42.5" y1="153.96" x2="45.7" y2="153.96" stroke="#333" stroke-width="0.8"/>
<line x1="42.5" y1="146.98" x2="45.7" y2="146.98" stroke="#333" stroke-width="0.8"/>
<line x1="42.5" y1="140" x2="48" y2="140" stroke="#000" stroke-width="1.0"/>
<line x1="42.5" y1="133.02" x2="45.7" y2="133.02" stroke="#333" stroke-width="0.8"/>
<line x1="42.5" y1="126.04" x2="45.7" y2="126.04" stroke="#333" stroke-width="0.8"/>
<line x1="42.5" y1="119.06" x2="45.7" y2="119.06" stroke="#333" stroke-width="0.8"/>
<line x1="42.5" y1="112.08" x2="45.7" y2="112.08" stroke="#333" stroke-width="0.8"/>
<line x1="42.5" y1="105.1" x2="48" y2="105.1" stroke="#000" stroke-width="1.0"/>
<line x1="42.5" y1="98.12" x2="45.7" y2="98.12" stroke="#333" stroke-width="0.8"/>
<line x1="42.5" y1="91.14" x2="45.7" y2="91.14" stroke="#333" stroke-width="0.8"/>
<line x1="42.5" y1="84.16" x2="45.7" y2="84.16" stroke="#333" stroke-width="0.8"/>
<line x1="42.5" y1="77.18" x2="45.7" y2="77.18" stroke="#333" stroke-width="0.8"/>
<line x1="42.5" y1="70.2" x2="48" y2="70.2" stroke="#000" stroke-width="1.0"/>
<line x1="42.5" y1="63.22" x2="45.7" y2="63.22" stroke="#333" stroke-width="0.8"/>
<line x1="42.5" y1="56.24" x2="45.7" y2="56.24" stroke="#333" stroke-width="0.8"/>
<line x1="42.5" y1="49.26" x2="45.7" y2="49.26" stroke="#333" stroke-width="0.8"/>
<line x1="42.5" y1="42.28" x2="45.7" y2="42.28" stroke="#333" stroke-width="0.8"/>
<line x1="42.5" y1="35.3" x2="48" y2="35.3" stroke="#000" stroke-width="1.0"/>
<line x1="212" y1="153.76" x2="208.8" y2="153.76" stroke="#333" stroke-width="0.8"/>
<line x1="212" y1="147.38" x2="208.8" y2="147.38" stroke="#333" stroke-width="0.8"/>
<line x1="212" y1="141" x2="206.1" y2="141" stroke="#000" stroke-width="1.0"/>
<line x1="212" y1="134.62" x2="208.8" y2="134.62" stroke="#333" stroke-width="0.8"/>
<line x1="212" y1="128.24" x2="208.8" y2="128.24" stroke="#333" stroke-width="0.8"/>
<line x1="212" y1="121.86" x2="208.8" y2="121.86" stroke="#333" stroke-width="0.8"/>
<line x1="212" y1="115.48" x2="208.8" y2="115.48" stroke="#333" stroke-width="0.8"/>
<line x1="212" y1="109.1" x2="206.1" y2="109.1" stroke="#000" stroke-width="1.0"/>
<line x1="212" y1="102.72" x2="208.8" y2="102.72" stroke="#333" stroke-width="0.8"/>
<line x1="212" y1="96.34" x2="208.8" y2="96.34" stroke="#333" stroke-width="0.8"/>
<line x1="212" y1="89.96" x2="208.8" y2="89.96" stroke="#333" stroke-width="0.8"/>
<line x1="212" y1="83.58" x2="208.8" y2="83.58" stroke="#333" stroke-width="0.8"/>
<line x1="212" y1="77.2" x2="206.1" y2="77.2" stroke="#000" stroke-width="1.0"/>
<line x1="212" y1="70.82" x2="208.8" y2="70.82" stroke="#333" stroke-width="0.8"/>
<line x1="212" y1="64.44" x2="208.8" y2="64.44" stroke="#333" stroke-width="0.8"/>
<line x1="212" y1="58.06" x2="208.8" y2="58.06" stroke="#333" stroke-width="0.8"/>
<line x1="212" y1="51.68" x2="208.8" y2="51.68" stroke="#333" stroke-width="0.8"/>
<line x1="212" y1="45.3" x2="206.1" y2="45.3" stroke="#000" stroke-width="1.0"/>
<line x1="212" y1="38.92" x2="208.8" y2="38.92" stroke="#333" stroke-width="0.8"/>
<line x1="212" y1="32.54" x2="208.8" y2="32.54" stroke="#333" stroke-width="0.8"/>
<rect x="42.5" y="32.5" width="169.5" height="125.9" fill="none" stroke="#000" stroke-width="1.1"/>
<g transform="translate(39.7,144.05)" fill="#000" stroke="#000" stroke-width="0.3"><text transform="scale(1,1)" x="-17.37 -10.45 -6.8" y="0" font-size="11.76">0.8</text></g>
<g transform="translate(39.7,109.15)" fill="#000" stroke="#000" stroke-width="0.3"><text transform="scale(1.01,1)" x="-17.23 -10.36 -6.8" y="0" font-size="11.76">0.9</text></g>
<g transform="translate(39.7,74.25)" fill="#000" stroke="#000" stroke-width="0.3"><text transform="scale(0.98,1)" x="-17.77 -10.66 -6.88" y="0" font-size="11.76">1.0</text></g>
<g transform="translate(39.7,39.35)" fill="#000" stroke="#000" stroke-width="0.3"><text transform="scale(0.96,1)" x="-18.08 -10.86 -7.02" y="0" font-size="11.76">1.1</text></g>
<g transform="translate(214.3,145.05)" fill="#000" stroke="#000" stroke-width="0.3"><text transform="scale(0.97,1)" x="9.93 17.01 20.78" y="0" font-size="11.76">0.5</text><rect x="1.18" y="-4.04" width="6.95" height="1.12" stroke="none"/></g>
<g transform="translate(214.3,113.15)" fill="#000" stroke="#000" stroke-width="0.3"><text transform="scale(1,1)" x="0.27 7.21 10.89" y="0" font-size="11.76">0.0</text></g>
<g transform="translate(214.3,81.25)" fill="#000" stroke="#000" stroke-width="0.3"><text transform="scale(0.97,1)" x="0.36 7.44 11.21" y="0" font-size="11.76">0.5</text></g>
<g transform="translate(214.3,49.35)" fill="#000" stroke="#000" stroke-width="0.3"><text transform="scale(0.98,1)" x="0.28 7.38 11.16" y="0" font-size="11.76">1.0</text></g>
<line x1="50.97" y1="162.5" x2="50.97" y2="165.7" stroke="#333" stroke-width="0.8"/>
<line x1="50.97" y1="186.4" x2="50.97" y2="183.2" stroke="#333" stroke-width="0.8"/>
<line x1="59.45" y1="162.5" x2="59.45" y2="168" stroke="#000" stroke-width="1.0"/>
<line x1="59.45" y1="186.4" x2="59.45" y2="180.9" stroke="#000" stroke-width="1.0"/>
<line x1="67.92" y1="162.5" x2="67.92" y2="165.7" stroke="#333" stroke-width="0.8"/>
<line x1="67.92" y1="186.4" x2="67.92" y2="183.2" stroke="#333" stroke-width="0.8"/>
<line x1="76.4" y1="162.5" x2="76.4" y2="165.7" stroke="#333" stroke-width="0.8"/>
<line x1="76.4" y1="186.4" x2="76.4" y2="183.2" stroke="#333" stroke-width="0.8"/>
<line x1="84.88" y1="162.5" x2="84.88" y2="165.7" stroke="#333" stroke-width="0.8"/>
<line x1="84.88" y1="186.4" x2="84.88" y2="183.2" stroke="#333" stroke-width="0.8"/>
<line x1="93.35" y1="162.5" x2="93.35" y2="168" stroke="#000" stroke-width="1.0"/>
<line x1="93.35" y1="186.4" x2="93.35" y2="180.9" stroke="#000" stroke-width="1.0"/>
<line x1="101.83" y1="162.5" x2="101.83" y2="165.7" stroke="#333" stroke-width="0.8"/>
<line x1="101.83" y1="186.4" x2="101.83" y2="183.2" stroke="#333" stroke-width="0.8"/>
<line x1="110.3" y1="162.5" x2="110.3" y2="165.7" stroke="#333" stroke-width="0.8"/>
<line x1="110.3" y1="186.4" x2="110.3" y2="183.2" stroke="#333" stroke-width="0.8"/>
<line x1="118.78" y1="162.5" x2="118.78" y2="165.7" stroke="#333" stroke-width="0.8"/>
<line x1="118.78" y1="186.4" x2="118.78" y2="183.2" stroke="#333" stroke-width="0.8"/>
<line x1="127.25" y1="162.5" x2="127.25" y2="168" stroke="#000" stroke-width="1.0"/>
<line x1="127.25" y1="186.4" x2="127.25" y2="180.9" stroke="#000" stroke-width="1.0"/>
<line x1="135.72" y1="162.5" x2="135.72" y2="165.7" stroke="#333" stroke-width="0.8"/>
<line x1="135.72" y1="186.4" x2="135.72" y2="183.2" stroke="#333" stroke-width="0.8"/>
<line x1="144.2" y1="162.5" x2="144.2" y2="165.7" stroke="#333" stroke-width="0.8"/>
<line x1="144.2" y1="186.4" x2="144.2" y2="183.2" stroke="#333" stroke-width="0.8"/>
<line x1="152.68" y1="162.5" x2="152.68" y2="165.7" stroke="#333" stroke-width="0.8"/>
<line x1="152.68" y1="186.4" x2="152.68" y2="183.2" stroke="#333" stroke-width="0.8"/>
<line x1="161.15" y1="162.5" x2="161.15" y2="168" stroke="#000" stroke-width="1.0"/>
<line x1="161.15" y1="186.4" x2="161.15" y2="180.9" stroke="#000" stroke-width="1.0"/>
<line x1="169.62" y1="162.5" x2="169.62" y2="165.7" stroke="#333" stroke-width="0.8"/>
<line x1="169.62" y1="186.4" x2="169.62" y2="183.2" stroke="#333" stroke-width="0.8"/>
<line x1="178.1" y1="162.5" x2="178.1" y2="165.7" stroke="#333" stroke-width="0.8"/>
<line x1="178.1" y1="186.4" x2="178.1" y2="183.2" stroke="#333" stroke-width="0.8"/>
<line x1="186.57" y1="162.5" x2="186.57" y2="165.7" stroke="#333" stroke-width="0.8"/>
<line x1="186.57" y1="186.4" x2="186.57" y2="183.2" stroke="#333" stroke-width="0.8"/>
<line x1="195.05" y1="162.5" x2="195.05" y2="168" stroke="#000" stroke-width="1.0"/>
<line x1="195.05" y1="186.4" x2="195.05" y2="180.9" stroke="#000" stroke-width="1.0"/>
<line x1="203.53" y1="162.5" x2="203.53" y2="165.7" stroke="#333" stroke-width="0.8"/>
<line x1="203.53" y1="186.4" x2="203.53" y2="183.2" stroke="#333" stroke-width="0.8"/>
<line x1="42.5" y1="186.4" x2="48" y2="186.4" stroke="#000" stroke-width="1.0"/>
<line x1="42.5" y1="181.62" x2="45.7" y2="181.62" stroke="#333" stroke-width="0.8"/>
<line x1="42.5" y1="176.84" x2="45.7" y2="176.84" stroke="#333" stroke-width="0.8"/>
<line x1="42.5" y1="172.06" x2="45.7" y2="172.06" stroke="#333" stroke-width="0.8"/>
<line x1="42.5" y1="167.28" x2="45.7" y2="167.28" stroke="#333" stroke-width="0.8"/>
<line x1="42.5" y1="162.5" x2="48" y2="162.5" stroke="#000" stroke-width="1.0"/>
<line x1="212" y1="186.4" x2="206.1" y2="186.4" stroke="#000" stroke-width="1.0"/>
<line x1="212" y1="181.62" x2="208.8" y2="181.62" stroke="#333" stroke-width="0.8"/>
<line x1="212" y1="176.84" x2="208.8" y2="176.84" stroke="#333" stroke-width="0.8"/>
<line x1="212" y1="172.06" x2="208.8" y2="172.06" stroke="#333" stroke-width="0.8"/>
<line x1="212" y1="167.28" x2="208.8" y2="167.28" stroke="#333" stroke-width="0.8"/>
<line x1="212" y1="162.5" x2="206.1" y2="162.5" stroke="#000" stroke-width="1.0"/>
<rect x="42.5" y="162.5" width="169.5" height="23.9" fill="none" stroke="#000" stroke-width="1.1"/>
<g transform="translate(39.7,190.45)" fill="#000" stroke="#000" stroke-width="0.3"><text transform="scale(0.97,1)" x="-17.8 -10.72 -6.95" y="0" font-size="11.76">0.5</text><rect x="-25.78" y="-4.04" width="6.95" height="1.12" stroke="none"/></g>
<g transform="translate(39.7,166.55)" fill="#000" stroke="#000" stroke-width="0.3"><text transform="scale(0.97,1)" x="-17.8 -10.72 -6.95" y="0" font-size="11.76">0.5</text></g>
<line x1="50.97" y1="193.3" x2="50.97" y2="196.5" stroke="#333" stroke-width="0.8"/>
<line x1="50.97" y1="285.4" x2="50.97" y2="282.2" stroke="#333" stroke-width="0.8"/>
<line x1="59.45" y1="193.3" x2="59.45" y2="198.8" stroke="#000" stroke-width="1.0"/>
<line x1="59.45" y1="285.4" x2="59.45" y2="279.9" stroke="#000" stroke-width="1.0"/>
<line x1="67.92" y1="193.3" x2="67.92" y2="196.5" stroke="#333" stroke-width="0.8"/>
<line x1="67.92" y1="285.4" x2="67.92" y2="282.2" stroke="#333" stroke-width="0.8"/>
<line x1="76.4" y1="193.3" x2="76.4" y2="196.5" stroke="#333" stroke-width="0.8"/>
<line x1="76.4" y1="285.4" x2="76.4" y2="282.2" stroke="#333" stroke-width="0.8"/>
<line x1="84.88" y1="193.3" x2="84.88" y2="196.5" stroke="#333" stroke-width="0.8"/>
<line x1="84.88" y1="285.4" x2="84.88" y2="282.2" stroke="#333" stroke-width="0.8"/>
<line x1="93.35" y1="193.3" x2="93.35" y2="198.8" stroke="#000" stroke-width="1.0"/>
<line x1="93.35" y1="285.4" x2="93.35" y2="279.9" stroke="#000" stroke-width="1.0"/>
<line x1="101.83" y1="193.3" x2="101.83" y2="196.5" stroke="#333" stroke-width="0.8"/>
<line x1="101.83" y1="285.4" x2="101.83" y2="282.2" stroke="#333" stroke-width="0.8"/>
<line x1="110.3" y1="193.3" x2="110.3" y2="196.5" stroke="#333" stroke-width="0.8"/>
<line x1="110.3" y1="285.4" x2="110.3" y2="282.2" stroke="#333" stroke-width="0.8"/>
<line x1="118.78" y1="193.3" x2="118.78" y2="196.5" stroke="#333" stroke-width="0.8"/>
<line x1="118.78" y1="285.4" x2="118.78" y2="282.2" stroke="#333" stroke-width="0.8"/>
<line x1="127.25" y1="193.3" x2="127.25" y2="198.8" stroke="#000" stroke-width="1.0"/>
<line x1="127.25" y1="285.4" x2="127.25" y2="279.9" stroke="#000" stroke-width="1.0"/>
<line x1="135.72" y1="193.3" x2="135.72" y2="196.5" stroke="#333" stroke-width="0.8"/>
<line x1="135.72" y1="285.4" x2="135.72" y2="282.2" stroke="#333" stroke-width="0.8"/>
<line x1="144.2" y1="193.3" x2="144.2" y2="196.5" stroke="#333" stroke-width="0.8"/>
<line x1="144.2" y1="285.4" x2="144.2" y2="282.2" stroke="#333" stroke-width="0.8"/>
<line x1="152.68" y1="193.3" x2="152.68" y2="196.5" stroke="#333" stroke-width="0.8"/>
<line x1="152.68" y1="285.4" x2="152.68" y2="282.2" stroke="#333" stroke-width="0.8"/>
<line x1="161.15" y1="193.3" x2="161.15" y2="198.8" stroke="#000" stroke-width="1.0"/>
<line x1="161.15" y1="285.4" x2="161.15" y2="279.9" stroke="#000" stroke-width="1.0"/>
<line x1="169.62" y1="193.3" x2="169.62" y2="196.5" stroke="#333" stroke-width="0.8"/>
<line x1="169.62" y1="285.4" x2="169.62" y2="282.2" stroke="#333" stroke-width="0.8"/>
<line x1="178.1" y1="193.3" x2="178.1" y2="196.5" stroke="#333" stroke-width="0.8"/>
<line x1="178.1" y1="285.4" x2="178.1" y2="282.2" stroke="#333" stroke-width="0.8"/>
<line x1="186.57" y1="193.3" x2="186.57" y2="196.5" stroke="#333" stroke-width="0.8"/>
<line x1="186.57" y1="285.4" x2="186.57" y2="282.2" stroke="#333" stroke-width="0.8"/>
<line x1="195.05" y1="193.3" x2="195.05" y2="198.8" stroke="#000" stroke-width="1.0"/>
<line x1="195.05" y1="285.4" x2="195.05" y2="279.9" stroke="#000" stroke-width="1.0"/>
<line x1="203.53" y1="193.3" x2="203.53" y2="196.5" stroke="#333" stroke-width="0.8"/>
<line x1="203.53" y1="285.4" x2="203.53" y2="282.2" stroke="#333" stroke-width="0.8"/>
<line x1="42.5" y1="281.54" x2="45.7" y2="281.54" stroke="#333" stroke-width="0.8"/>
<line x1="42.5" y1="272.68" x2="45.7" y2="272.68" stroke="#333" stroke-width="0.8"/>
<line x1="42.5" y1="263.82" x2="45.7" y2="263.82" stroke="#333" stroke-width="0.8"/>
<line x1="42.5" y1="254.96" x2="45.7" y2="254.96" stroke="#333" stroke-width="0.8"/>
<line x1="42.5" y1="246.1" x2="48" y2="246.1" stroke="#000" stroke-width="1.0"/>
<line x1="42.5" y1="237.24" x2="45.7" y2="237.24" stroke="#333" stroke-width="0.8"/>
<line x1="42.5" y1="228.38" x2="45.7" y2="228.38" stroke="#333" stroke-width="0.8"/>
<line x1="42.5" y1="219.52" x2="45.7" y2="219.52" stroke="#333" stroke-width="0.8"/>
<line x1="42.5" y1="210.66" x2="45.7" y2="210.66" stroke="#333" stroke-width="0.8"/>
<line x1="42.5" y1="201.8" x2="48" y2="201.8" stroke="#000" stroke-width="1.0"/>
<line x1="212" y1="280.36" x2="208.8" y2="280.36" stroke="#333" stroke-width="0.8"/>
<line x1="212" y1="273.8" x2="206.1" y2="273.8" stroke="#000" stroke-width="1.0"/>
<line x1="212" y1="267.24" x2="208.8" y2="267.24" stroke="#333" stroke-width="0.8"/>
<line x1="212" y1="260.68" x2="208.8" y2="260.68" stroke="#333" stroke-width="0.8"/>
<line x1="212" y1="254.12" x2="208.8" y2="254.12" stroke="#333" stroke-width="0.8"/>
<line x1="212" y1="247.56" x2="208.8" y2="247.56" stroke="#333" stroke-width="0.8"/>
<line x1="212" y1="241" x2="206.1" y2="241" stroke="#000" stroke-width="1.0"/>
<line x1="212" y1="234.44" x2="208.8" y2="234.44" stroke="#333" stroke-width="0.8"/>
<line x1="212" y1="227.88" x2="208.8" y2="227.88" stroke="#333" stroke-width="0.8"/>
<line x1="212" y1="221.32" x2="208.8" y2="221.32" stroke="#333" stroke-width="0.8"/>
<line x1="212" y1="214.76" x2="208.8" y2="214.76" stroke="#333" stroke-width="0.8"/>
<line x1="212" y1="208.2" x2="206.1" y2="208.2" stroke="#000" stroke-width="1.0"/>
<line x1="212" y1="201.64" x2="208.8" y2="201.64" stroke="#333" stroke-width="0.8"/>
<line x1="212" y1="195.08" x2="208.8" y2="195.08" stroke="#333" stroke-width="0.8"/>
<rect x="42.5" y="193.3" width="169.5" height="92.1" fill="none" stroke="#000" stroke-width="1.1"/>
<g transform="translate(39.7,250.15)" fill="#000" stroke="#000" stroke-width="0.3"><text transform="scale(1.01,1)" x="-17.23 -10.36 -6.8" y="0" font-size="11.76">0.9</text></g>
<g transform="translate(39.7,205.85)" fill="#000" stroke="#000" stroke-width="0.3"><text transform="scale(0.98,1)" x="-17.77 -10.66 -6.88" y="0" font-size="11.76">1.0</text></g>
<g transform="translate(214.3,277.85)" fill="#000" stroke="#000" stroke-width="0.3"><text transform="scale(0.97,1)" x="9.93 17.01 20.78" y="0" font-size="11.76">0.5</text><rect x="1.18" y="-4.04" width="6.95" height="1.12" stroke="none"/></g>
<g transform="translate(214.3,245.05)" fill="#000" stroke="#000" stroke-width="0.3"><text transform="scale(1,1)" x="0.27 7.21 10.89" y="0" font-size="11.76">0.0</text></g>
<g transform="translate(214.3,212.25)" fill="#000" stroke="#000" stroke-width="0.3"><text transform="scale(0.97,1)" x="0.36 7.44 11.21" y="0" font-size="11.76">0.5</text></g>
<line x1="50.97" y1="288.4" x2="50.97" y2="291.6" stroke="#333" stroke-width="0.8"/>
<line x1="50.97" y1="311.25" x2="50.97" y2="308.05" stroke="#333" stroke-width="0.8"/>
<line x1="59.45" y1="288.4" x2="59.45" y2="293.9" stroke="#000" stroke-width="1.0"/>
<line x1="59.45" y1="311.25" x2="59.45" y2="305.75" stroke="#000" stroke-width="1.0"/>
<line x1="67.92" y1="288.4" x2="67.92" y2="291.6" stroke="#333" stroke-width="0.8"/>
<line x1="67.92" y1="311.25" x2="67.92" y2="308.05" stroke="#333" stroke-width="0.8"/>
<line x1="76.4" y1="288.4" x2="76.4" y2="291.6" stroke="#333" stroke-width="0.8"/>
<line x1="76.4" y1="311.25" x2="76.4" y2="308.05" stroke="#333" stroke-width="0.8"/>
<line x1="84.88" y1="288.4" x2="84.88" y2="291.6" stroke="#333" stroke-width="0.8"/>
<line x1="84.88" y1="311.25" x2="84.88" y2="308.05" stroke="#333" stroke-width="0.8"/>
<line x1="93.35" y1="288.4" x2="93.35" y2="293.9" stroke="#000" stroke-width="1.0"/>
<line x1="93.35" y1="311.25" x2="93.35" y2="305.75" stroke="#000" stroke-width="1.0"/>
<line x1="101.83" y1="288.4" x2="101.83" y2="291.6" stroke="#333" stroke-width="0.8"/>
<line x1="101.83" y1="311.25" x2="101.83" y2="308.05" stroke="#333" stroke-width="0.8"/>
<line x1="110.3" y1="288.4" x2="110.3" y2="291.6" stroke="#333" stroke-width="0.8"/>
<line x1="110.3" y1="311.25" x2="110.3" y2="308.05" stroke="#333" stroke-width="0.8"/>
<line x1="118.78" y1="288.4" x2="118.78" y2="291.6" stroke="#333" stroke-width="0.8"/>
<line x1="118.78" y1="311.25" x2="118.78" y2="308.05" stroke="#333" stroke-width="0.8"/>
<line x1="127.25" y1="288.4" x2="127.25" y2="293.9" stroke="#000" stroke-width="1.0"/>
<line x1="127.25" y1="311.25" x2="127.25" y2="305.75" stroke="#000" stroke-width="1.0"/>
<line x1="135.72" y1="288.4" x2="135.72" y2="291.6" stroke="#333" stroke-width="0.8"/>
<line x1="135.72" y1="311.25" x2="135.72" y2="308.05" stroke="#333" stroke-width="0.8"/>
<line x1="144.2" y1="288.4" x2="144.2" y2="291.6" stroke="#333" stroke-width="0.8"/>
<line x1="144.2" y1="311.25" x2="144.2" y2="308.05" stroke="#333" stroke-width="0.8"/>
<line x1="152.68" y1="288.4" x2="152.68" y2="291.6" stroke="#333" stroke-width="0.8"/>
<line x1="152.68" y1="311.25" x2="152.68" y2="308.05" stroke="#333" stroke-width="0.8"/>
<line x1="161.15" y1="288.4" x2="161.15" y2="293.9" stroke="#000" stroke-width="1.0"/>
<line x1="161.15" y1="311.25" x2="161.15" y2="305.75" stroke="#000" stroke-width="1.0"/>
<line x1="169.62" y1="288.4" x2="169.62" y2="291.6" stroke="#333" stroke-width="0.8"/>
<line x1="169.62" y1="311.25" x2="169.62" y2="308.05" stroke="#333" stroke-width="0.8"/>
<line x1="178.1" y1="288.4" x2="178.1" y2="291.6" stroke="#333" stroke-width="0.8"/>
<line x1="178.1" y1="311.25" x2="178.1" y2="308.05" stroke="#333" stroke-width="0.8"/>
<line x1="186.57" y1="288.4" x2="186.57" y2="291.6" stroke="#333" stroke-width="0.8"/>
<line x1="186.57" y1="311.25" x2="186.57" y2="308.05" stroke="#333" stroke-width="0.8"/>
<line x1="195.05" y1="288.4" x2="195.05" y2="293.9" stroke="#000" stroke-width="1.0"/>
<line x1="195.05" y1="311.25" x2="195.05" y2="305.75" stroke="#000" stroke-width="1.0"/>
<line x1="203.53" y1="288.4" x2="203.53" y2="291.6" stroke="#333" stroke-width="0.8"/>
<line x1="203.53" y1="311.25" x2="203.53" y2="308.05" stroke="#333" stroke-width="0.8"/>
<line x1="42.5" y1="311.25" x2="48" y2="311.25" stroke="#000" stroke-width="1.0"/>
<line x1="42.5" y1="306.68" x2="45.7" y2="306.68" stroke="#333" stroke-width="0.8"/>
<line x1="42.5" y1="302.11" x2="45.7" y2="302.11" stroke="#333" stroke-width="0.8"/>
<line x1="42.5" y1="297.54" x2="45.7" y2="297.54" stroke="#333" stroke-width="0.8"/>
<line x1="42.5" y1="292.97" x2="45.7" y2="292.97" stroke="#333" stroke-width="0.8"/>
<line x1="42.5" y1="288.4" x2="48" y2="288.4" stroke="#000" stroke-width="1.0"/>
<line x1="212" y1="311.25" x2="206.1" y2="311.25" stroke="#000" stroke-width="1.0"/>
<line x1="212" y1="306.68" x2="208.8" y2="306.68" stroke="#333" stroke-width="0.8"/>
<line x1="212" y1="302.11" x2="208.8" y2="302.11" stroke="#333" stroke-width="0.8"/>
<line x1="212" y1="297.54" x2="208.8" y2="297.54" stroke="#333" stroke-width="0.8"/>
<line x1="212" y1="292.97" x2="208.8" y2="292.97" stroke="#333" stroke-width="0.8"/>
<line x1="212" y1="288.4" x2="206.1" y2="288.4" stroke="#000" stroke-width="1.0"/>
<rect x="42.5" y="288.4" width="169.5" height="22.85" fill="none" stroke="#000" stroke-width="1.1"/>
<g transform="translate(39.7,315.3)" fill="#000" stroke="#000" stroke-width="0.3"><text transform="scale(0.97,1)" x="-17.8 -10.72 -6.95" y="0" font-size="11.76">0.5</text><rect x="-25.78" y="-4.04" width="6.95" height="1.12" stroke="none"/></g>
<g transform="translate(39.7,292.45)" fill="#000" stroke="#000" stroke-width="0.3"><text transform="scale(0.97,1)" x="-17.8 -10.72 -6.95" y="0" font-size="11.76">0.5</text></g>
<line x1="50.97" y1="318.4" x2="50.97" y2="321.6" stroke="#333" stroke-width="0.8"/>
<line x1="50.97" y1="410.4" x2="50.97" y2="407.2" stroke="#333" stroke-width="0.8"/>
<line x1="59.45" y1="318.4" x2="59.45" y2="323.9" stroke="#000" stroke-width="1.0"/>
<line x1="59.45" y1="410.4" x2="59.45" y2="404.9" stroke="#000" stroke-width="1.0"/>
<line x1="67.92" y1="318.4" x2="67.92" y2="321.6" stroke="#333" stroke-width="0.8"/>
<line x1="67.92" y1="410.4" x2="67.92" y2="407.2" stroke="#333" stroke-width="0.8"/>
<line x1="76.4" y1="318.4" x2="76.4" y2="321.6" stroke="#333" stroke-width="0.8"/>
<line x1="76.4" y1="410.4" x2="76.4" y2="407.2" stroke="#333" stroke-width="0.8"/>
<line x1="84.88" y1="318.4" x2="84.88" y2="321.6" stroke="#333" stroke-width="0.8"/>
<line x1="84.88" y1="410.4" x2="84.88" y2="407.2" stroke="#333" stroke-width="0.8"/>
<line x1="93.35" y1="318.4" x2="93.35" y2="323.9" stroke="#000" stroke-width="1.0"/>
<line x1="93.35" y1="410.4" x2="93.35" y2="404.9" stroke="#000" stroke-width="1.0"/>
<line x1="101.83" y1="318.4" x2="101.83" y2="321.6" stroke="#333" stroke-width="0.8"/>
<line x1="101.83" y1="410.4" x2="101.83" y2="407.2" stroke="#333" stroke-width="0.8"/>
<line x1="110.3" y1="318.4" x2="110.3" y2="321.6" stroke="#333" stroke-width="0.8"/>
<line x1="110.3" y1="410.4" x2="110.3" y2="407.2" stroke="#333" stroke-width="0.8"/>
<line x1="118.78" y1="318.4" x2="118.78" y2="321.6" stroke="#333" stroke-width="0.8"/>
<line x1="118.78" y1="410.4" x2="118.78" y2="407.2" stroke="#333" stroke-width="0.8"/>
<line x1="127.25" y1="318.4" x2="127.25" y2="323.9" stroke="#000" stroke-width="1.0"/>
<line x1="127.25" y1="410.4" x2="127.25" y2="404.9" stroke="#000" stroke-width="1.0"/>
<line x1="135.72" y1="318.4" x2="135.72" y2="321.6" stroke="#333" stroke-width="0.8"/>
<line x1="135.72" y1="410.4" x2="135.72" y2="407.2" stroke="#333" stroke-width="0.8"/>
<line x1="144.2" y1="318.4" x2="144.2" y2="321.6" stroke="#333" stroke-width="0.8"/>
<line x1="144.2" y1="410.4" x2="144.2" y2="407.2" stroke="#333" stroke-width="0.8"/>
<line x1="152.68" y1="318.4" x2="152.68" y2="321.6" stroke="#333" stroke-width="0.8"/>
<line x1="152.68" y1="410.4" x2="152.68" y2="407.2" stroke="#333" stroke-width="0.8"/>
<line x1="161.15" y1="318.4" x2="161.15" y2="323.9" stroke="#000" stroke-width="1.0"/>
<line x1="161.15" y1="410.4" x2="161.15" y2="404.9" stroke="#000" stroke-width="1.0"/>
<line x1="169.62" y1="318.4" x2="169.62" y2="321.6" stroke="#333" stroke-width="0.8"/>
<line x1="169.62" y1="410.4" x2="169.62" y2="407.2" stroke="#333" stroke-width="0.8"/>
<line x1="178.1" y1="318.4" x2="178.1" y2="321.6" stroke="#333" stroke-width="0.8"/>
<line x1="178.1" y1="410.4" x2="178.1" y2="407.2" stroke="#333" stroke-width="0.8"/>
<line x1="186.57" y1="318.4" x2="186.57" y2="321.6" stroke="#333" stroke-width="0.8"/>
<line x1="186.57" y1="410.4" x2="186.57" y2="407.2" stroke="#333" stroke-width="0.8"/>
<line x1="195.05" y1="318.4" x2="195.05" y2="323.9" stroke="#000" stroke-width="1.0"/>
<line x1="195.05" y1="410.4" x2="195.05" y2="404.9" stroke="#000" stroke-width="1.0"/>
<line x1="203.53" y1="318.4" x2="203.53" y2="321.6" stroke="#333" stroke-width="0.8"/>
<line x1="203.53" y1="410.4" x2="203.53" y2="407.2" stroke="#333" stroke-width="0.8"/>
<line x1="42.5" y1="410.07" x2="45.7" y2="410.07" stroke="#333" stroke-width="0.8"/>
<line x1="42.5" y1="402.5" x2="48" y2="402.5" stroke="#000" stroke-width="1.0"/>
<line x1="42.5" y1="394.93" x2="45.7" y2="394.93" stroke="#333" stroke-width="0.8"/>
<line x1="42.5" y1="387.36" x2="45.7" y2="387.36" stroke="#333" stroke-width="0.8"/>
<line x1="42.5" y1="379.79" x2="45.7" y2="379.79" stroke="#333" stroke-width="0.8"/>
<line x1="42.5" y1="372.22" x2="45.7" y2="372.22" stroke="#333" stroke-width="0.8"/>
<line x1="42.5" y1="364.65" x2="48" y2="364.65" stroke="#000" stroke-width="1.0"/>
<line x1="42.5" y1="357.08" x2="45.7" y2="357.08" stroke="#333" stroke-width="0.8"/>
<line x1="42.5" y1="349.51" x2="45.7" y2="349.51" stroke="#333" stroke-width="0.8"/>
<line x1="42.5" y1="341.94" x2="45.7" y2="341.94" stroke="#333" stroke-width="0.8"/>
<line x1="42.5" y1="334.37" x2="45.7" y2="334.37" stroke="#333" stroke-width="0.8"/>
<line x1="42.5" y1="326.8" x2="48" y2="326.8" stroke="#000" stroke-width="1.0"/>
<line x1="42.5" y1="319.23" x2="45.7" y2="319.23" stroke="#333" stroke-width="0.8"/>
<line x1="212" y1="407.5" x2="206.1" y2="407.5" stroke="#000" stroke-width="1.0"/>
<line x1="212" y1="400.22" x2="208.8" y2="400.22" stroke="#333" stroke-width="0.8"/>
<line x1="212" y1="392.94" x2="208.8" y2="392.94" stroke="#333" stroke-width="0.8"/>
<line x1="212" y1="385.66" x2="208.8" y2="385.66" stroke="#333" stroke-width="0.8"/>
<line x1="212" y1="378.38" x2="208.8" y2="378.38" stroke="#333" stroke-width="0.8"/>
<line x1="212" y1="371.1" x2="206.1" y2="371.1" stroke="#000" stroke-width="1.0"/>
<line x1="212" y1="363.82" x2="208.8" y2="363.82" stroke="#333" stroke-width="0.8"/>
<line x1="212" y1="356.54" x2="208.8" y2="356.54" stroke="#333" stroke-width="0.8"/>
<line x1="212" y1="349.26" x2="208.8" y2="349.26" stroke="#333" stroke-width="0.8"/>
<line x1="212" y1="341.98" x2="208.8" y2="341.98" stroke="#333" stroke-width="0.8"/>
<line x1="212" y1="334.7" x2="206.1" y2="334.7" stroke="#000" stroke-width="1.0"/>
<line x1="212" y1="327.42" x2="208.8" y2="327.42" stroke="#333" stroke-width="0.8"/>
<line x1="212" y1="320.14" x2="208.8" y2="320.14" stroke="#333" stroke-width="0.8"/>
<rect x="42.5" y="318.4" width="169.5" height="92" fill="none" stroke="#000" stroke-width="1.1"/>
<g transform="translate(39.7,406.55)" fill="#000" stroke="#000" stroke-width="0.3"><text transform="scale(1,1)" x="-17.37 -10.45 -6.8" y="0" font-size="11.76">0.8</text></g>
<g transform="translate(39.7,368.7)" fill="#000" stroke="#000" stroke-width="0.3"><text transform="scale(1.01,1)" x="-17.23 -10.36 -6.8" y="0" font-size="11.76">0.9</text></g>
<g transform="translate(39.7,330.85)" fill="#000" stroke="#000" stroke-width="0.3"><text transform="scale(0.98,1)" x="-17.77 -10.66 -6.88" y="0" font-size="11.76">1.0</text></g>
<g transform="translate(214.3,411.55)" fill="#000" stroke="#000" stroke-width="0.3"><text transform="scale(0.97,1)" x="9.93 17.01 20.78" y="0" font-size="11.76">0.5</text><rect x="1.18" y="-4.04" width="6.95" height="1.12" stroke="none"/></g>
<g transform="translate(214.3,375.15)" fill="#000" stroke="#000" stroke-width="0.3"><text transform="scale(1,1)" x="0.27 7.21 10.89" y="0" font-size="11.76">0.0</text></g>
<g transform="translate(214.3,338.75)" fill="#000" stroke="#000" stroke-width="0.3"><text transform="scale(0.97,1)" x="0.36 7.44 11.21" y="0" font-size="11.76">0.5</text></g>
<line x1="50.97" y1="413.6" x2="50.97" y2="416.8" stroke="#333" stroke-width="0.8"/>
<line x1="50.97" y1="436.4" x2="50.97" y2="433.2" stroke="#333" stroke-width="0.8"/>
<line x1="59.45" y1="413.6" x2="59.45" y2="419.1" stroke="#000" stroke-width="1.0"/>
<line x1="59.45" y1="436.4" x2="59.45" y2="430.9" stroke="#000" stroke-width="1.0"/>
<line x1="67.92" y1="413.6" x2="67.92" y2="416.8" stroke="#333" stroke-width="0.8"/>
<line x1="67.92" y1="436.4" x2="67.92" y2="433.2" stroke="#333" stroke-width="0.8"/>
<line x1="76.4" y1="413.6" x2="76.4" y2="416.8" stroke="#333" stroke-width="0.8"/>
<line x1="76.4" y1="436.4" x2="76.4" y2="433.2" stroke="#333" stroke-width="0.8"/>
<line x1="84.88" y1="413.6" x2="84.88" y2="416.8" stroke="#333" stroke-width="0.8"/>
<line x1="84.88" y1="436.4" x2="84.88" y2="433.2" stroke="#333" stroke-width="0.8"/>
<line x1="93.35" y1="413.6" x2="93.35" y2="419.1" stroke="#000" stroke-width="1.0"/>
<line x1="93.35" y1="436.4" x2="93.35" y2="430.9" stroke="#000" stroke-width="1.0"/>
<line x1="101.83" y1="413.6" x2="101.83" y2="416.8" stroke="#333" stroke-width="0.8"/>
<line x1="101.83" y1="436.4" x2="101.83" y2="433.2" stroke="#333" stroke-width="0.8"/>
<line x1="110.3" y1="413.6" x2="110.3" y2="416.8" stroke="#333" stroke-width="0.8"/>
<line x1="110.3" y1="436.4" x2="110.3" y2="433.2" stroke="#333" stroke-width="0.8"/>
<line x1="118.78" y1="413.6" x2="118.78" y2="416.8" stroke="#333" stroke-width="0.8"/>
<line x1="118.78" y1="436.4" x2="118.78" y2="433.2" stroke="#333" stroke-width="0.8"/>
<line x1="127.25" y1="413.6" x2="127.25" y2="419.1" stroke="#000" stroke-width="1.0"/>
<line x1="127.25" y1="436.4" x2="127.25" y2="430.9" stroke="#000" stroke-width="1.0"/>
<line x1="135.72" y1="413.6" x2="135.72" y2="416.8" stroke="#333" stroke-width="0.8"/>
<line x1="135.72" y1="436.4" x2="135.72" y2="433.2" stroke="#333" stroke-width="0.8"/>
<line x1="144.2" y1="413.6" x2="144.2" y2="416.8" stroke="#333" stroke-width="0.8"/>
<line x1="144.2" y1="436.4" x2="144.2" y2="433.2" stroke="#333" stroke-width="0.8"/>
<line x1="152.68" y1="413.6" x2="152.68" y2="416.8" stroke="#333" stroke-width="0.8"/>
<line x1="152.68" y1="436.4" x2="152.68" y2="433.2" stroke="#333" stroke-width="0.8"/>
<line x1="161.15" y1="413.6" x2="161.15" y2="419.1" stroke="#000" stroke-width="1.0"/>
<line x1="161.15" y1="436.4" x2="161.15" y2="430.9" stroke="#000" stroke-width="1.0"/>
<line x1="169.62" y1="413.6" x2="169.62" y2="416.8" stroke="#333" stroke-width="0.8"/>
<line x1="169.62" y1="436.4" x2="169.62" y2="433.2" stroke="#333" stroke-width="0.8"/>
<line x1="178.1" y1="413.6" x2="178.1" y2="416.8" stroke="#333" stroke-width="0.8"/>
<line x1="178.1" y1="436.4" x2="178.1" y2="433.2" stroke="#333" stroke-width="0.8"/>
<line x1="186.57" y1="413.6" x2="186.57" y2="416.8" stroke="#333" stroke-width="0.8"/>
<line x1="186.57" y1="436.4" x2="186.57" y2="433.2" stroke="#333" stroke-width="0.8"/>
<line x1="195.05" y1="413.6" x2="195.05" y2="419.1" stroke="#000" stroke-width="1.0"/>
<line x1="195.05" y1="436.4" x2="195.05" y2="430.9" stroke="#000" stroke-width="1.0"/>
<line x1="203.53" y1="413.6" x2="203.53" y2="416.8" stroke="#333" stroke-width="0.8"/>
<line x1="203.53" y1="436.4" x2="203.53" y2="433.2" stroke="#333" stroke-width="0.8"/>
<line x1="42.5" y1="436.4" x2="48" y2="436.4" stroke="#000" stroke-width="1.0"/>
<line x1="42.5" y1="430.7" x2="45.7" y2="430.7" stroke="#333" stroke-width="0.8"/>
<line x1="42.5" y1="425" x2="45.7" y2="425" stroke="#333" stroke-width="0.8"/>
<line x1="42.5" y1="419.3" x2="45.7" y2="419.3" stroke="#333" stroke-width="0.8"/>
<line x1="42.5" y1="413.6" x2="48" y2="413.6" stroke="#000" stroke-width="1.0"/>
<line x1="212" y1="436.4" x2="206.1" y2="436.4" stroke="#000" stroke-width="1.0"/>
<line x1="212" y1="430.7" x2="208.8" y2="430.7" stroke="#333" stroke-width="0.8"/>
<line x1="212" y1="425" x2="208.8" y2="425" stroke="#333" stroke-width="0.8"/>
<line x1="212" y1="419.3" x2="208.8" y2="419.3" stroke="#333" stroke-width="0.8"/>
<line x1="212" y1="413.6" x2="206.1" y2="413.6" stroke="#000" stroke-width="1.0"/>
<rect x="42.5" y="413.6" width="169.5" height="22.8" fill="none" stroke="#000" stroke-width="1.1"/>
<g transform="translate(39.7,440.45)" fill="#000" stroke="#000" stroke-width="0.3"><text transform="scale(1,1)" x="-17.43 -10.49 -6.81" y="0" font-size="11.76">0.4</text><rect x="-25.78" y="-4.04" width="6.95" height="1.12" stroke="none"/></g>
<g transform="translate(39.7,417.65)" fill="#000" stroke="#000" stroke-width="0.3"><text transform="scale(1,1)" x="-17.43 -10.49 -6.81" y="0" font-size="11.76">0.4</text></g>
<line x1="271.47" y1="32.5" x2="271.47" y2="35.7" stroke="#333" stroke-width="0.8"/>
<line x1="271.47" y1="158.4" x2="271.47" y2="155.2" stroke="#333" stroke-width="0.8"/>
<line x1="279.94" y1="32.5" x2="279.94" y2="38" stroke="#000" stroke-width="1.0"/>
<line x1="279.94" y1="158.4" x2="279.94" y2="152.9" stroke="#000" stroke-width="1.0"/>
<line x1="288.41" y1="32.5" x2="288.41" y2="35.7" stroke="#333" stroke-width="0.8"/>
<line x1="288.41" y1="158.4" x2="288.41" y2="155.2" stroke="#333" stroke-width="0.8"/>
<line x1="296.88" y1="32.5" x2="296.88" y2="35.7" stroke="#333" stroke-width="0.8"/>
<line x1="296.88" y1="158.4" x2="296.88" y2="155.2" stroke="#333" stroke-width="0.8"/>
<line x1="305.35" y1="32.5" x2="305.35" y2="35.7" stroke="#333" stroke-width="0.8"/>
<line x1="305.35" y1="158.4" x2="305.35" y2="155.2" stroke="#333" stroke-width="0.8"/>
<line x1="313.82" y1="32.5" x2="313.82" y2="38" stroke="#000" stroke-width="1.0"/>
<line x1="313.82" y1="158.4" x2="313.82" y2="152.9" stroke="#000" stroke-width="1.0"/>
<line x1="322.29" y1="32.5" x2="322.29" y2="35.7" stroke="#333" stroke-width="0.8"/>
<line x1="322.29" y1="158.4" x2="322.29" y2="155.2" stroke="#333" stroke-width="0.8"/>
<line x1="330.76" y1="32.5" x2="330.76" y2="35.7" stroke="#333" stroke-width="0.8"/>
<line x1="330.76" y1="158.4" x2="330.76" y2="155.2" stroke="#333" stroke-width="0.8"/>
<line x1="339.23" y1="32.5" x2="339.23" y2="35.7" stroke="#333" stroke-width="0.8"/>
<line x1="339.23" y1="158.4" x2="339.23" y2="155.2" stroke="#333" stroke-width="0.8"/>
<line x1="347.7" y1="32.5" x2="347.7" y2="38" stroke="#000" stroke-width="1.0"/>
<line x1="347.7" y1="158.4" x2="347.7" y2="152.9" stroke="#000" stroke-width="1.0"/>
<line x1="356.17" y1="32.5" x2="356.17" y2="35.7" stroke="#333" stroke-width="0.8"/>
<line x1="356.17" y1="158.4" x2="356.17" y2="155.2" stroke="#333" stroke-width="0.8"/>
<line x1="364.64" y1="32.5" x2="364.64" y2="35.7" stroke="#333" stroke-width="0.8"/>
<line x1="364.64" y1="158.4" x2="364.64" y2="155.2" stroke="#333" stroke-width="0.8"/>
<line x1="373.11" y1="32.5" x2="373.11" y2="35.7" stroke="#333" stroke-width="0.8"/>
<line x1="373.11" y1="158.4" x2="373.11" y2="155.2" stroke="#333" stroke-width="0.8"/>
<line x1="381.58" y1="32.5" x2="381.58" y2="38" stroke="#000" stroke-width="1.0"/>
<line x1="381.58" y1="158.4" x2="381.58" y2="152.9" stroke="#000" stroke-width="1.0"/>
<line x1="390.05" y1="32.5" x2="390.05" y2="35.7" stroke="#333" stroke-width="0.8"/>
<line x1="390.05" y1="158.4" x2="390.05" y2="155.2" stroke="#333" stroke-width="0.8"/>
<line x1="398.52" y1="32.5" x2="398.52" y2="35.7" stroke="#333" stroke-width="0.8"/>
<line x1="398.52" y1="158.4" x2="398.52" y2="155.2" stroke="#333" stroke-width="0.8"/>
<line x1="406.99" y1="32.5" x2="406.99" y2="35.7" stroke="#333" stroke-width="0.8"/>
<line x1="406.99" y1="158.4" x2="406.99" y2="155.2" stroke="#333" stroke-width="0.8"/>
<line x1="415.46" y1="32.5" x2="415.46" y2="38" stroke="#000" stroke-width="1.0"/>
<line x1="415.46" y1="158.4" x2="415.46" y2="152.9" stroke="#000" stroke-width="1.0"/>
<line x1="423.93" y1="32.5" x2="423.93" y2="35.7" stroke="#333" stroke-width="0.8"/>
<line x1="423.93" y1="158.4" x2="423.93" y2="155.2" stroke="#333" stroke-width="0.8"/>
<line x1="263" y1="156.82" x2="266.2" y2="156.82" stroke="#333" stroke-width="0.8"/>
<line x1="263" y1="150.98" x2="266.2" y2="150.98" stroke="#333" stroke-width="0.8"/>
<line x1="263" y1="145.14" x2="266.2" y2="145.14" stroke="#333" stroke-width="0.8"/>
<line x1="263" y1="139.3" x2="268.5" y2="139.3" stroke="#000" stroke-width="1.0"/>
<line x1="263" y1="133.46" x2="266.2" y2="133.46" stroke="#333" stroke-width="0.8"/>
<line x1="263" y1="127.62" x2="266.2" y2="127.62" stroke="#333" stroke-width="0.8"/>
<line x1="263" y1="121.78" x2="266.2" y2="121.78" stroke="#333" stroke-width="0.8"/>
<line x1="263" y1="115.94" x2="266.2" y2="115.94" stroke="#333" stroke-width="0.8"/>
<line x1="263" y1="110.1" x2="268.5" y2="110.1" stroke="#000" stroke-width="1.0"/>
<line x1="263" y1="104.26" x2="266.2" y2="104.26" stroke="#333" stroke-width="0.8"/>
<line x1="263" y1="98.42" x2="266.2" y2="98.42" stroke="#333" stroke-width="0.8"/>
<line x1="263" y1="92.58" x2="266.2" y2="92.58" stroke="#333" stroke-width="0.8"/>
<line x1="263" y1="86.74" x2="266.2" y2="86.74" stroke="#333" stroke-width="0.8"/>
<line x1="263" y1="80.9" x2="268.5" y2="80.9" stroke="#000" stroke-width="1.0"/>
<line x1="263" y1="75.06" x2="266.2" y2="75.06" stroke="#333" stroke-width="0.8"/>
<line x1="263" y1="69.22" x2="266.2" y2="69.22" stroke="#333" stroke-width="0.8"/>
<line x1="263" y1="63.38" x2="266.2" y2="63.38" stroke="#333" stroke-width="0.8"/>
<line x1="263" y1="57.54" x2="266.2" y2="57.54" stroke="#333" stroke-width="0.8"/>
<line x1="263" y1="51.7" x2="268.5" y2="51.7" stroke="#000" stroke-width="1.0"/>
<line x1="263" y1="45.86" x2="266.2" y2="45.86" stroke="#333" stroke-width="0.8"/>
<line x1="263" y1="40.02" x2="266.2" y2="40.02" stroke="#333" stroke-width="0.8"/>
<line x1="263" y1="34.18" x2="266.2" y2="34.18" stroke="#333" stroke-width="0.8"/>
<line x1="432.4" y1="157.22" x2="429.2" y2="157.22" stroke="#333" stroke-width="0.8"/>
<line x1="432.4" y1="152.04" x2="429.2" y2="152.04" stroke="#333" stroke-width="0.8"/>
<line x1="432.4" y1="146.86" x2="429.2" y2="146.86" stroke="#333" stroke-width="0.8"/>
<line x1="432.4" y1="141.68" x2="429.2" y2="141.68" stroke="#333" stroke-width="0.8"/>
<line x1="432.4" y1="136.5" x2="426.5" y2="136.5" stroke="#000" stroke-width="1.0"/>
<line x1="432.4" y1="131.32" x2="429.2" y2="131.32" stroke="#333" stroke-width="0.8"/>
<line x1="432.4" y1="126.14" x2="429.2" y2="126.14" stroke="#333" stroke-width="0.8"/>
<line x1="432.4" y1="120.96" x2="429.2" y2="120.96" stroke="#333" stroke-width="0.8"/>
<line x1="432.4" y1="115.78" x2="429.2" y2="115.78" stroke="#333" stroke-width="0.8"/>
<line x1="432.4" y1="110.6" x2="426.5" y2="110.6" stroke="#000" stroke-width="1.0"/>
<line x1="432.4" y1="105.42" x2="429.2" y2="105.42" stroke="#333" stroke-width="0.8"/>
<line x1="432.4" y1="100.24" x2="429.2" y2="100.24" stroke="#333" stroke-width="0.8"/>
<line x1="432.4" y1="95.06" x2="429.2" y2="95.06" stroke="#333" stroke-width="0.8"/>
<line x1="432.4" y1="89.88" x2="429.2" y2="89.88" stroke="#333" stroke-width="0.8"/>
<line x1="432.4" y1="84.7" x2="426.5" y2="84.7" stroke="#000" stroke-width="1.0"/>
<line x1="432.4" y1="79.52" x2="429.2" y2="79.52" stroke="#333" stroke-width="0.8"/>
<line x1="432.4" y1="74.34" x2="429.2" y2="74.34" stroke="#333" stroke-width="0.8"/>
<line x1="432.4" y1="69.16" x2="429.2" y2="69.16" stroke="#333" stroke-width="0.8"/>
<line x1="432.4" y1="63.98" x2="429.2" y2="63.98" stroke="#333" stroke-width="0.8"/>
<line x1="432.4" y1="58.8" x2="426.5" y2="58.8" stroke="#000" stroke-width="1.0"/>
<line x1="432.4" y1="53.62" x2="429.2" y2="53.62" stroke="#333" stroke-width="0.8"/>
<line x1="432.4" y1="48.44" x2="429.2" y2="48.44" stroke="#333" stroke-width="0.8"/>
<line x1="432.4" y1="43.26" x2="429.2" y2="43.26" stroke="#333" stroke-width="0.8"/>
<line x1="432.4" y1="38.08" x2="429.2" y2="38.08" stroke="#333" stroke-width="0.8"/>
<line x1="432.4" y1="32.9" x2="426.5" y2="32.9" stroke="#000" stroke-width="1.0"/>
<rect x="263" y="32.5" width="169.4" height="125.9" fill="none" stroke="#000" stroke-width="1.1"/>
<g transform="translate(260.2,143.35)" fill="#000" stroke="#000" stroke-width="0.3"><text transform="scale(0.98,1)" x="-17.77 -10.66 -6.88" y="0" font-size="11.76">1.0</text></g>
<g transform="translate(260.2,114.15)" fill="#000" stroke="#000" stroke-width="0.3"><text transform="scale(0.98,1)" x="-17.81 -10.63 -6.87" y="0" font-size="11.76">2.0</text></g>
<g transform="translate(260.2,84.95)" fill="#000" stroke="#000" stroke-width="0.3"><text transform="scale(0.98,1)" x="-17.68 -10.65 -6.88" y="0" font-size="11.76">3.0</text></g>
<g transform="translate(260.2,55.75)" fill="#000" stroke="#000" stroke-width="0.3"><text transform="scale(1,1)" x="-17.43 -10.49 -6.81" y="0" font-size="11.76">4.0</text></g>
<g transform="translate(434.7,140.55)" fill="#000" stroke="#000" stroke-width="0.3"><text transform="scale(0.96,1)" x="10 17.33 21.2" y="0" font-size="11.76">2.5</text><rect x="1.18" y="-4.04" width="6.95" height="1.12" stroke="none"/></g>
<g transform="translate(434.7,114.65)" fill="#000" stroke="#000" stroke-width="0.3"><text transform="scale(1,1)" x="0.27 7.21 10.89" y="0" font-size="11.76">0.0</text></g>
<g transform="translate(434.7,88.75)" fill="#000" stroke="#000" stroke-width="0.3"><text transform="scale(0.96,1)" x="0.27 7.6 11.46" y="0" font-size="11.76">2.5</text></g>
<g transform="translate(434.7,62.85)" fill="#000" stroke="#000" stroke-width="0.3"><text transform="scale(0.97,1)" x="0.32 7.44 11.26" y="0" font-size="11.76">5.0</text></g>
<g transform="translate(434.7,36.95)" fill="#000" stroke="#000" stroke-width="0.3"><text transform="scale(0.96,1)" x="0.38 7.54 11.36" y="0" font-size="11.76">7.5</text></g>
<line x1="271.47" y1="162.5" x2="271.47" y2="165.7" stroke="#333" stroke-width="0.8"/>
<line x1="271.47" y1="186.4" x2="271.47" y2="183.2" stroke="#333" stroke-width="0.8"/>
<line x1="279.94" y1="162.5" x2="279.94" y2="168" stroke="#000" stroke-width="1.0"/>
<line x1="279.94" y1="186.4" x2="279.94" y2="180.9" stroke="#000" stroke-width="1.0"/>
<line x1="288.41" y1="162.5" x2="288.41" y2="165.7" stroke="#333" stroke-width="0.8"/>
<line x1="288.41" y1="186.4" x2="288.41" y2="183.2" stroke="#333" stroke-width="0.8"/>
<line x1="296.88" y1="162.5" x2="296.88" y2="165.7" stroke="#333" stroke-width="0.8"/>
<line x1="296.88" y1="186.4" x2="296.88" y2="183.2" stroke="#333" stroke-width="0.8"/>
<line x1="305.35" y1="162.5" x2="305.35" y2="165.7" stroke="#333" stroke-width="0.8"/>
<line x1="305.35" y1="186.4" x2="305.35" y2="183.2" stroke="#333" stroke-width="0.8"/>
<line x1="313.82" y1="162.5" x2="313.82" y2="168" stroke="#000" stroke-width="1.0"/>
<line x1="313.82" y1="186.4" x2="313.82" y2="180.9" stroke="#000" stroke-width="1.0"/>
<line x1="322.29" y1="162.5" x2="322.29" y2="165.7" stroke="#333" stroke-width="0.8"/>
<line x1="322.29" y1="186.4" x2="322.29" y2="183.2" stroke="#333" stroke-width="0.8"/>
<line x1="330.76" y1="162.5" x2="330.76" y2="165.7" stroke="#333" stroke-width="0.8"/>
<line x1="330.76" y1="186.4" x2="330.76" y2="183.2" stroke="#333" stroke-width="0.8"/>
<line x1="339.23" y1="162.5" x2="339.23" y2="165.7" stroke="#333" stroke-width="0.8"/>
<line x1="339.23" y1="186.4" x2="339.23" y2="183.2" stroke="#333" stroke-width="0.8"/>
<line x1="347.7" y1="162.5" x2="347.7" y2="168" stroke="#000" stroke-width="1.0"/>
<line x1="347.7" y1="186.4" x2="347.7" y2="180.9" stroke="#000" stroke-width="1.0"/>
<line x1="356.17" y1="162.5" x2="356.17" y2="165.7" stroke="#333" stroke-width="0.8"/>
<line x1="356.17" y1="186.4" x2="356.17" y2="183.2" stroke="#333" stroke-width="0.8"/>
<line x1="364.64" y1="162.5" x2="364.64" y2="165.7" stroke="#333" stroke-width="0.8"/>
<line x1="364.64" y1="186.4" x2="364.64" y2="183.2" stroke="#333" stroke-width="0.8"/>
<line x1="373.11" y1="162.5" x2="373.11" y2="165.7" stroke="#333" stroke-width="0.8"/>
<line x1="373.11" y1="186.4" x2="373.11" y2="183.2" stroke="#333" stroke-width="0.8"/>
<line x1="381.58" y1="162.5" x2="381.58" y2="168" stroke="#000" stroke-width="1.0"/>
<line x1="381.58" y1="186.4" x2="381.58" y2="180.9" stroke="#000" stroke-width="1.0"/>
<line x1="390.05" y1="162.5" x2="390.05" y2="165.7" stroke="#333" stroke-width="0.8"/>
<line x1="390.05" y1="186.4" x2="390.05" y2="183.2" stroke="#333" stroke-width="0.8"/>
<line x1="398.52" y1="162.5" x2="398.52" y2="165.7" stroke="#333" stroke-width="0.8"/>
<line x1="398.52" y1="186.4" x2="398.52" y2="183.2" stroke="#333" stroke-width="0.8"/>
<line x1="406.99" y1="162.5" x2="406.99" y2="165.7" stroke="#333" stroke-width="0.8"/>
<line x1="406.99" y1="186.4" x2="406.99" y2="183.2" stroke="#333" stroke-width="0.8"/>
<line x1="415.46" y1="162.5" x2="415.46" y2="168" stroke="#000" stroke-width="1.0"/>
<line x1="415.46" y1="186.4" x2="415.46" y2="180.9" stroke="#000" stroke-width="1.0"/>
<line x1="423.93" y1="162.5" x2="423.93" y2="165.7" stroke="#333" stroke-width="0.8"/>
<line x1="423.93" y1="186.4" x2="423.93" y2="183.2" stroke="#333" stroke-width="0.8"/>
<line x1="263" y1="186.4" x2="268.5" y2="186.4" stroke="#000" stroke-width="1.0"/>
<line x1="263" y1="180.43" x2="266.2" y2="180.43" stroke="#333" stroke-width="0.8"/>
<line x1="263" y1="174.45" x2="266.2" y2="174.45" stroke="#333" stroke-width="0.8"/>
<line x1="263" y1="168.47" x2="266.2" y2="168.47" stroke="#333" stroke-width="0.8"/>
<line x1="263" y1="162.5" x2="268.5" y2="162.5" stroke="#000" stroke-width="1.0"/>
<line x1="432.4" y1="186.4" x2="426.5" y2="186.4" stroke="#000" stroke-width="1.0"/>
<line x1="432.4" y1="180.43" x2="429.2" y2="180.43" stroke="#333" stroke-width="0.8"/>
<line x1="432.4" y1="174.45" x2="429.2" y2="174.45" stroke="#333" stroke-width="0.8"/>
<line x1="432.4" y1="168.47" x2="429.2" y2="168.47" stroke="#333" stroke-width="0.8"/>
<line x1="432.4" y1="162.5" x2="426.5" y2="162.5" stroke="#000" stroke-width="1.0"/>
<rect x="263" y="162.5" width="169.4" height="23.9" fill="none" stroke="#000" stroke-width="1.1"/>
<g transform="translate(260.2,190.45)" fill="#000" stroke="#000" stroke-width="0.3"><text transform="scale(0.96,1)" x="-7.11" y="0" font-size="11.76">2</text><rect x="-15.19" y="-4.04" width="6.95" height="1.12" stroke="none"/></g>
<g transform="translate(260.2,166.55)" fill="#000" stroke="#000" stroke-width="0.3"><text transform="scale(0.96,1)" x="-7.11" y="0" font-size="11.76">2</text></g>
<line x1="271.47" y1="193.3" x2="271.47" y2="196.5" stroke="#333" stroke-width="0.8"/>
<line x1="271.47" y1="285.4" x2="271.47" y2="282.2" stroke="#333" stroke-width="0.8"/>
<line x1="279.94" y1="193.3" x2="279.94" y2="198.8" stroke="#000" stroke-width="1.0"/>
<line x1="279.94" y1="285.4" x2="279.94" y2="279.9" stroke="#000" stroke-width="1.0"/>
<line x1="288.41" y1="193.3" x2="288.41" y2="196.5" stroke="#333" stroke-width="0.8"/>
<line x1="288.41" y1="285.4" x2="288.41" y2="282.2" stroke="#333" stroke-width="0.8"/>
<line x1="296.88" y1="193.3" x2="296.88" y2="196.5" stroke="#333" stroke-width="0.8"/>
<line x1="296.88" y1="285.4" x2="296.88" y2="282.2" stroke="#333" stroke-width="0.8"/>
<line x1="305.35" y1="193.3" x2="305.35" y2="196.5" stroke="#333" stroke-width="0.8"/>
<line x1="305.35" y1="285.4" x2="305.35" y2="282.2" stroke="#333" stroke-width="0.8"/>
<line x1="313.82" y1="193.3" x2="313.82" y2="198.8" stroke="#000" stroke-width="1.0"/>
<line x1="313.82" y1="285.4" x2="313.82" y2="279.9" stroke="#000" stroke-width="1.0"/>
<line x1="322.29" y1="193.3" x2="322.29" y2="196.5" stroke="#333" stroke-width="0.8"/>
<line x1="322.29" y1="285.4" x2="322.29" y2="282.2" stroke="#333" stroke-width="0.8"/>
<line x1="330.76" y1="193.3" x2="330.76" y2="196.5" stroke="#333" stroke-width="0.8"/>
<line x1="330.76" y1="285.4" x2="330.76" y2="282.2" stroke="#333" stroke-width="0.8"/>
<line x1="339.23" y1="193.3" x2="339.23" y2="196.5" stroke="#333" stroke-width="0.8"/>
<line x1="339.23" y1="285.4" x2="339.23" y2="282.2" stroke="#333" stroke-width="0.8"/>
<line x1="347.7" y1="193.3" x2="347.7" y2="198.8" stroke="#000" stroke-width="1.0"/>
<line x1="347.7" y1="285.4" x2="347.7" y2="279.9" stroke="#000" stroke-width="1.0"/>
<line x1="356.17" y1="193.3" x2="356.17" y2="196.5" stroke="#333" stroke-width="0.8"/>
<line x1="356.17" y1="285.4" x2="356.17" y2="282.2" stroke="#333" stroke-width="0.8"/>
<line x1="364.64" y1="193.3" x2="364.64" y2="196.5" stroke="#333" stroke-width="0.8"/>
<line x1="364.64" y1="285.4" x2="364.64" y2="282.2" stroke="#333" stroke-width="0.8"/>
<line x1="373.11" y1="193.3" x2="373.11" y2="196.5" stroke="#333" stroke-width="0.8"/>
<line x1="373.11" y1="285.4" x2="373.11" y2="282.2" stroke="#333" stroke-width="0.8"/>
<line x1="381.58" y1="193.3" x2="381.58" y2="198.8" stroke="#000" stroke-width="1.0"/>
<line x1="381.58" y1="285.4" x2="381.58" y2="279.9" stroke="#000" stroke-width="1.0"/>
<line x1="390.05" y1="193.3" x2="390.05" y2="196.5" stroke="#333" stroke-width="0.8"/>
<line x1="390.05" y1="285.4" x2="390.05" y2="282.2" stroke="#333" stroke-width="0.8"/>
<line x1="398.52" y1="193.3" x2="398.52" y2="196.5" stroke="#333" stroke-width="0.8"/>
<line x1="398.52" y1="285.4" x2="398.52" y2="282.2" stroke="#333" stroke-width="0.8"/>
<line x1="406.99" y1="193.3" x2="406.99" y2="196.5" stroke="#333" stroke-width="0.8"/>
<line x1="406.99" y1="285.4" x2="406.99" y2="282.2" stroke="#333" stroke-width="0.8"/>
<line x1="415.46" y1="193.3" x2="415.46" y2="198.8" stroke="#000" stroke-width="1.0"/>
<line x1="415.46" y1="285.4" x2="415.46" y2="279.9" stroke="#000" stroke-width="1.0"/>
<line x1="423.93" y1="193.3" x2="423.93" y2="196.5" stroke="#333" stroke-width="0.8"/>
<line x1="423.93" y1="285.4" x2="423.93" y2="282.2" stroke="#333" stroke-width="0.8"/>
<line x1="263" y1="279.08" x2="266.2" y2="279.08" stroke="#333" stroke-width="0.8"/>
<line x1="263" y1="271.15" x2="266.2" y2="271.15" stroke="#333" stroke-width="0.8"/>
<line x1="263" y1="263.23" x2="266.2" y2="263.23" stroke="#333" stroke-width="0.8"/>
<line x1="263" y1="255.3" x2="268.5" y2="255.3" stroke="#000" stroke-width="1.0"/>
<line x1="263" y1="247.38" x2="266.2" y2="247.38" stroke="#333" stroke-width="0.8"/>
<line x1="263" y1="239.45" x2="266.2" y2="239.45" stroke="#333" stroke-width="0.8"/>
<line x1="263" y1="231.53" x2="266.2" y2="231.53" stroke="#333" stroke-width="0.8"/>
<line x1="263" y1="223.6" x2="268.5" y2="223.6" stroke="#000" stroke-width="1.0"/>
<line x1="263" y1="215.67" x2="266.2" y2="215.67" stroke="#333" stroke-width="0.8"/>
<line x1="263" y1="207.75" x2="266.2" y2="207.75" stroke="#333" stroke-width="0.8"/>
<line x1="263" y1="199.82" x2="266.2" y2="199.82" stroke="#333" stroke-width="0.8"/>
<line x1="432.4" y1="284.2" x2="426.5" y2="284.2" stroke="#000" stroke-width="1.0"/>
<line x1="432.4" y1="273.29" x2="429.2" y2="273.29" stroke="#333" stroke-width="0.8"/>
<line x1="432.4" y1="262.38" x2="429.2" y2="262.38" stroke="#333" stroke-width="0.8"/>
<line x1="432.4" y1="251.46" x2="429.2" y2="251.46" stroke="#333" stroke-width="0.8"/>
<line x1="432.4" y1="240.55" x2="426.5" y2="240.55" stroke="#000" stroke-width="1.0"/>
<line x1="432.4" y1="229.64" x2="429.2" y2="229.64" stroke="#333" stroke-width="0.8"/>
<line x1="432.4" y1="218.72" x2="429.2" y2="218.72" stroke="#333" stroke-width="0.8"/>
<line x1="432.4" y1="207.81" x2="429.2" y2="207.81" stroke="#333" stroke-width="0.8"/>
<line x1="432.4" y1="196.9" x2="426.5" y2="196.9" stroke="#000" stroke-width="1.0"/>
<rect x="263" y="193.3" width="169.4" height="92.1" fill="none" stroke="#000" stroke-width="1.1"/>
<g transform="translate(260.2,259.35)" fill="#000" stroke="#000" stroke-width="0.3"><text transform="scale(0.98,1)" x="-17.81 -10.63 -6.87" y="0" font-size="11.76">2.0</text></g>
<g transform="translate(260.2,227.65)" fill="#000" stroke="#000" stroke-width="0.3"><text transform="scale(1,1)" x="-17.43 -10.49 -6.81" y="0" font-size="11.76">4.0</text></g>
<g transform="translate(434.7,288.25)" fill="#000" stroke="#000" stroke-width="0.3"><text transform="scale(0.98,1)" x="9.71 17.08" y="0" font-size="11.76">20</text><rect x="1.18" y="-4.04" width="6.95" height="1.12" stroke="none"/></g>
<g transform="translate(434.7,244.6)" fill="#000" stroke="#000" stroke-width="0.3"><text transform="scale(0.99,1)" x="0.28" y="0" font-size="11.76">0</text></g>
<g transform="translate(434.7,200.95)" fill="#000" stroke="#000" stroke-width="0.3"><text transform="scale(0.98,1)" x="0.19 7.57" y="0" font-size="11.76">20</text></g>
<line x1="271.47" y1="288.4" x2="271.47" y2="291.6" stroke="#333" stroke-width="0.8"/>
<line x1="271.47" y1="311.25" x2="271.47" y2="308.05" stroke="#333" stroke-width="0.8"/>
<line x1="279.94" y1="288.4" x2="279.94" y2="293.9" stroke="#000" stroke-width="1.0"/>
<line x1="279.94" y1="311.25" x2="279.94" y2="305.75" stroke="#000" stroke-width="1.0"/>
<line x1="288.41" y1="288.4" x2="288.41" y2="291.6" stroke="#333" stroke-width="0.8"/>
<line x1="288.41" y1="311.25" x2="288.41" y2="308.05" stroke="#333" stroke-width="0.8"/>
<line x1="296.88" y1="288.4" x2="296.88" y2="291.6" stroke="#333" stroke-width="0.8"/>
<line x1="296.88" y1="311.25" x2="296.88" y2="308.05" stroke="#333" stroke-width="0.8"/>
<line x1="305.35" y1="288.4" x2="305.35" y2="291.6" stroke="#333" stroke-width="0.8"/>
<line x1="305.35" y1="311.25" x2="305.35" y2="308.05" stroke="#333" stroke-width="0.8"/>
<line x1="313.82" y1="288.4" x2="313.82" y2="293.9" stroke="#000" stroke-width="1.0"/>
<line x1="313.82" y1="311.25" x2="313.82" y2="305.75" stroke="#000" stroke-width="1.0"/>
<line x1="322.29" y1="288.4" x2="322.29" y2="291.6" stroke="#333" stroke-width="0.8"/>
<line x1="322.29" y1="311.25" x2="322.29" y2="308.05" stroke="#333" stroke-width="0.8"/>
<line x1="330.76" y1="288.4" x2="330.76" y2="291.6" stroke="#333" stroke-width="0.8"/>
<line x1="330.76" y1="311.25" x2="330.76" y2="308.05" stroke="#333" stroke-width="0.8"/>
<line x1="339.23" y1="288.4" x2="339.23" y2="291.6" stroke="#333" stroke-width="0.8"/>
<line x1="339.23" y1="311.25" x2="339.23" y2="308.05" stroke="#333" stroke-width="0.8"/>
<line x1="347.7" y1="288.4" x2="347.7" y2="293.9" stroke="#000" stroke-width="1.0"/>
<line x1="347.7" y1="311.25" x2="347.7" y2="305.75" stroke="#000" stroke-width="1.0"/>
<line x1="356.17" y1="288.4" x2="356.17" y2="291.6" stroke="#333" stroke-width="0.8"/>
<line x1="356.17" y1="311.25" x2="356.17" y2="308.05" stroke="#333" stroke-width="0.8"/>
<line x1="364.64" y1="288.4" x2="364.64" y2="291.6" stroke="#333" stroke-width="0.8"/>
<line x1="364.64" y1="311.25" x2="364.64" y2="308.05" stroke="#333" stroke-width="0.8"/>
<line x1="373.11" y1="288.4" x2="373.11" y2="291.6" stroke="#333" stroke-width="0.8"/>
<line x1="373.11" y1="311.25" x2="373.11" y2="308.05" stroke="#333" stroke-width="0.8"/>
<line x1="381.58" y1="288.4" x2="381.58" y2="293.9" stroke="#000" stroke-width="1.0"/>
<line x1="381.58" y1="311.25" x2="381.58" y2="305.75" stroke="#000" stroke-width="1.0"/>
<line x1="390.05" y1="288.4" x2="390.05" y2="291.6" stroke="#333" stroke-width="0.8"/>
<line x1="390.05" y1="311.25" x2="390.05" y2="308.05" stroke="#333" stroke-width="0.8"/>
<line x1="398.52" y1="288.4" x2="398.52" y2="291.6" stroke="#333" stroke-width="0.8"/>
<line x1="398.52" y1="311.25" x2="398.52" y2="308.05" stroke="#333" stroke-width="0.8"/>
<line x1="406.99" y1="288.4" x2="406.99" y2="291.6" stroke="#333" stroke-width="0.8"/>
<line x1="406.99" y1="311.25" x2="406.99" y2="308.05" stroke="#333" stroke-width="0.8"/>
<line x1="415.46" y1="288.4" x2="415.46" y2="293.9" stroke="#000" stroke-width="1.0"/>
<line x1="415.46" y1="311.25" x2="415.46" y2="305.75" stroke="#000" stroke-width="1.0"/>
<line x1="423.93" y1="288.4" x2="423.93" y2="291.6" stroke="#333" stroke-width="0.8"/>
<line x1="423.93" y1="311.25" x2="423.93" y2="308.05" stroke="#333" stroke-width="0.8"/>
<line x1="263" y1="311.25" x2="268.5" y2="311.25" stroke="#000" stroke-width="1.0"/>
<line x1="263" y1="305.54" x2="266.2" y2="305.54" stroke="#333" stroke-width="0.8"/>
<line x1="263" y1="299.82" x2="266.2" y2="299.82" stroke="#333" stroke-width="0.8"/>
<line x1="263" y1="294.11" x2="266.2" y2="294.11" stroke="#333" stroke-width="0.8"/>
<line x1="263" y1="288.4" x2="268.5" y2="288.4" stroke="#000" stroke-width="1.0"/>
<line x1="432.4" y1="311.25" x2="426.5" y2="311.25" stroke="#000" stroke-width="1.0"/>
<line x1="432.4" y1="305.54" x2="429.2" y2="305.54" stroke="#333" stroke-width="0.8"/>
<line x1="432.4" y1="299.82" x2="429.2" y2="299.82" stroke="#333" stroke-width="0.8"/>
<line x1="432.4" y1="294.11" x2="429.2" y2="294.11" stroke="#333" stroke-width="0.8"/>
<line x1="432.4" y1="288.4" x2="426.5" y2="288.4" stroke="#000" stroke-width="1.0"/>
<rect x="263" y="288.4" width="169.4" height="22.85" fill="none" stroke="#000" stroke-width="1.1"/>
<g transform="translate(260.2,315.3)" fill="#000" stroke="#000" stroke-width="0.3"><text transform="scale(0.97,1)" x="-14.21 -6.9" y="0" font-size="11.76">10</text><rect x="-22.25" y="-4.04" width="6.95" height="1.12" stroke="none"/></g>
<g transform="translate(260.2,292.45)" fill="#000" stroke="#000" stroke-width="0.3"><text transform="scale(0.97,1)" x="-14.21 -6.9" y="0" font-size="11.76">10</text></g>
<line x1="271.47" y1="318.4" x2="271.47" y2="321.6" stroke="#333" stroke-width="0.8"/>
<line x1="271.47" y1="410.4" x2="271.47" y2="407.2" stroke="#333" stroke-width="0.8"/>
<line x1="279.94" y1="318.4" x2="279.94" y2="323.9" stroke="#000" stroke-width="1.0"/>
<line x1="279.94" y1="410.4" x2="279.94" y2="404.9" stroke="#000" stroke-width="1.0"/>
<line x1="288.41" y1="318.4" x2="288.41" y2="321.6" stroke="#333" stroke-width="0.8"/>
<line x1="288.41" y1="410.4" x2="288.41" y2="407.2" stroke="#333" stroke-width="0.8"/>
<line x1="296.88" y1="318.4" x2="296.88" y2="321.6" stroke="#333" stroke-width="0.8"/>
<line x1="296.88" y1="410.4" x2="296.88" y2="407.2" stroke="#333" stroke-width="0.8"/>
<line x1="305.35" y1="318.4" x2="305.35" y2="321.6" stroke="#333" stroke-width="0.8"/>
<line x1="305.35" y1="410.4" x2="305.35" y2="407.2" stroke="#333" stroke-width="0.8"/>
<line x1="313.82" y1="318.4" x2="313.82" y2="323.9" stroke="#000" stroke-width="1.0"/>
<line x1="313.82" y1="410.4" x2="313.82" y2="404.9" stroke="#000" stroke-width="1.0"/>
<line x1="322.29" y1="318.4" x2="322.29" y2="321.6" stroke="#333" stroke-width="0.8"/>
<line x1="322.29" y1="410.4" x2="322.29" y2="407.2" stroke="#333" stroke-width="0.8"/>
<line x1="330.76" y1="318.4" x2="330.76" y2="321.6" stroke="#333" stroke-width="0.8"/>
<line x1="330.76" y1="410.4" x2="330.76" y2="407.2" stroke="#333" stroke-width="0.8"/>
<line x1="339.23" y1="318.4" x2="339.23" y2="321.6" stroke="#333" stroke-width="0.8"/>
<line x1="339.23" y1="410.4" x2="339.23" y2="407.2" stroke="#333" stroke-width="0.8"/>
<line x1="347.7" y1="318.4" x2="347.7" y2="323.9" stroke="#000" stroke-width="1.0"/>
<line x1="347.7" y1="410.4" x2="347.7" y2="404.9" stroke="#000" stroke-width="1.0"/>
<line x1="356.17" y1="318.4" x2="356.17" y2="321.6" stroke="#333" stroke-width="0.8"/>
<line x1="356.17" y1="410.4" x2="356.17" y2="407.2" stroke="#333" stroke-width="0.8"/>
<line x1="364.64" y1="318.4" x2="364.64" y2="321.6" stroke="#333" stroke-width="0.8"/>
<line x1="364.64" y1="410.4" x2="364.64" y2="407.2" stroke="#333" stroke-width="0.8"/>
<line x1="373.11" y1="318.4" x2="373.11" y2="321.6" stroke="#333" stroke-width="0.8"/>
<line x1="373.11" y1="410.4" x2="373.11" y2="407.2" stroke="#333" stroke-width="0.8"/>
<line x1="381.58" y1="318.4" x2="381.58" y2="323.9" stroke="#000" stroke-width="1.0"/>
<line x1="381.58" y1="410.4" x2="381.58" y2="404.9" stroke="#000" stroke-width="1.0"/>
<line x1="390.05" y1="318.4" x2="390.05" y2="321.6" stroke="#333" stroke-width="0.8"/>
<line x1="390.05" y1="410.4" x2="390.05" y2="407.2" stroke="#333" stroke-width="0.8"/>
<line x1="398.52" y1="318.4" x2="398.52" y2="321.6" stroke="#333" stroke-width="0.8"/>
<line x1="398.52" y1="410.4" x2="398.52" y2="407.2" stroke="#333" stroke-width="0.8"/>
<line x1="406.99" y1="318.4" x2="406.99" y2="321.6" stroke="#333" stroke-width="0.8"/>
<line x1="406.99" y1="410.4" x2="406.99" y2="407.2" stroke="#333" stroke-width="0.8"/>
<line x1="415.46" y1="318.4" x2="415.46" y2="323.9" stroke="#000" stroke-width="1.0"/>
<line x1="415.46" y1="410.4" x2="415.46" y2="404.9" stroke="#000" stroke-width="1.0"/>
<line x1="423.93" y1="318.4" x2="423.93" y2="321.6" stroke="#333" stroke-width="0.8"/>
<line x1="423.93" y1="410.4" x2="423.93" y2="407.2" stroke="#333" stroke-width="0.8"/>
<line x1="263" y1="409.4" x2="266.2" y2="409.4" stroke="#333" stroke-width="0.8"/>
<line x1="263" y1="404" x2="266.2" y2="404" stroke="#333" stroke-width="0.8"/>
<line x1="263" y1="398.6" x2="266.2" y2="398.6" stroke="#333" stroke-width="0.8"/>
<line x1="263" y1="393.2" x2="268.5" y2="393.2" stroke="#000" stroke-width="1.0"/>
<line x1="263" y1="387.8" x2="266.2" y2="387.8" stroke="#333" stroke-width="0.8"/>
<line x1="263" y1="382.4" x2="266.2" y2="382.4" stroke="#333" stroke-width="0.8"/>
<line x1="263" y1="377" x2="266.2" y2="377" stroke="#333" stroke-width="0.8"/>
<line x1="263" y1="371.6" x2="266.2" y2="371.6" stroke="#333" stroke-width="0.8"/>
<line x1="263" y1="366.2" x2="268.5" y2="366.2" stroke="#000" stroke-width="1.0"/>
<line x1="263" y1="360.8" x2="266.2" y2="360.8" stroke="#333" stroke-width="0.8"/>
<line x1="263" y1="355.4" x2="266.2" y2="355.4" stroke="#333" stroke-width="0.8"/>
<line x1="263" y1="350" x2="266.2" y2="350" stroke="#333" stroke-width="0.8"/>
<line x1="263" y1="344.6" x2="266.2" y2="344.6" stroke="#333" stroke-width="0.8"/>
<line x1="263" y1="339.2" x2="268.5" y2="339.2" stroke="#000" stroke-width="1.0"/>
<line x1="263" y1="333.8" x2="266.2" y2="333.8" stroke="#333" stroke-width="0.8"/>
<line x1="263" y1="328.4" x2="266.2" y2="328.4" stroke="#333" stroke-width="0.8"/>
<line x1="263" y1="323" x2="266.2" y2="323" stroke="#333" stroke-width="0.8"/>
<line x1="432.4" y1="408.85" x2="429.2" y2="408.85" stroke="#333" stroke-width="0.8"/>
<line x1="432.4" y1="403.5" x2="429.2" y2="403.5" stroke="#333" stroke-width="0.8"/>
<line x1="432.4" y1="398.15" x2="429.2" y2="398.15" stroke="#333" stroke-width="0.8"/>
<line x1="432.4" y1="392.8" x2="426.5" y2="392.8" stroke="#000" stroke-width="1.0"/>
<line x1="432.4" y1="387.45" x2="429.2" y2="387.45" stroke="#333" stroke-width="0.8"/>
<line x1="432.4" y1="382.1" x2="429.2" y2="382.1" stroke="#333" stroke-width="0.8"/>
<line x1="432.4" y1="376.75" x2="429.2" y2="376.75" stroke="#333" stroke-width="0.8"/>
<line x1="432.4" y1="371.4" x2="429.2" y2="371.4" stroke="#333" stroke-width="0.8"/>
<line x1="432.4" y1="366.05" x2="426.5" y2="366.05" stroke="#000" stroke-width="1.0"/>
<line x1="432.4" y1="360.7" x2="429.2" y2="360.7" stroke="#333" stroke-width="0.8"/>
<line x1="432.4" y1="355.35" x2="429.2" y2="355.35" stroke="#333" stroke-width="0.8"/>
<line x1="432.4" y1="350" x2="429.2" y2="350" stroke="#333" stroke-width="0.8"/>
<line x1="432.4" y1="344.65" x2="429.2" y2="344.65" stroke="#333" stroke-width="0.8"/>
<line x1="432.4" y1="339.3" x2="426.5" y2="339.3" stroke="#000" stroke-width="1.0"/>
<line x1="432.4" y1="333.95" x2="429.2" y2="333.95" stroke="#333" stroke-width="0.8"/>
<line x1="432.4" y1="328.6" x2="429.2" y2="328.6" stroke="#333" stroke-width="0.8"/>
<line x1="432.4" y1="323.25" x2="429.2" y2="323.25" stroke="#333" stroke-width="0.8"/>
<rect x="263" y="318.4" width="169.4" height="92" fill="none" stroke="#000" stroke-width="1.1"/>
<g transform="translate(260.2,397.25)" fill="#000" stroke="#000" stroke-width="0.3"><text transform="scale(0.98,1)" x="-17.77 -10.66 -6.88" y="0" font-size="11.76">1.0</text></g>
<g transform="translate(260.2,370.25)" fill="#000" stroke="#000" stroke-width="0.3"><text transform="scale(0.98,1)" x="-17.81 -10.63 -6.87" y="0" font-size="11.76">2.0</text></g>
<g transform="translate(260.2,343.25)" fill="#000" stroke="#000" stroke-width="0.3"><text transform="scale(0.98,1)" x="-17.68 -10.65 -6.88" y="0" font-size="11.76">3.0</text></g>
<g transform="translate(434.7,396.85)" fill="#000" stroke="#000" stroke-width="0.3"><text transform="scale(0.94,1)" x="10.35" y="0" font-size="11.76">5</text><rect x="1.18" y="-4.04" width="6.95" height="1.12" stroke="none"/></g>
<g transform="translate(434.7,370.1)" fill="#000" stroke="#000" stroke-width="0.3"><text transform="scale(0.99,1)" x="0.28" y="0" font-size="11.76">0</text></g>
<g transform="translate(434.7,343.35)" fill="#000" stroke="#000" stroke-width="0.3"><text transform="scale(0.94,1)" x="0.44" y="0" font-size="11.76">5</text></g>
<line x1="271.47" y1="413.6" x2="271.47" y2="416.8" stroke="#333" stroke-width="0.8"/>
<line x1="271.47" y1="436.4" x2="271.47" y2="433.2" stroke="#333" stroke-width="0.8"/>
<line x1="279.94" y1="413.6" x2="279.94" y2="419.1" stroke="#000" stroke-width="1.0"/>
<line x1="279.94" y1="436.4" x2="279.94" y2="430.9" stroke="#000" stroke-width="1.0"/>
<line x1="288.41" y1="413.6" x2="288.41" y2="416.8" stroke="#333" stroke-width="0.8"/>
<line x1="288.41" y1="436.4" x2="288.41" y2="433.2" stroke="#333" stroke-width="0.8"/>
<line x1="296.88" y1="413.6" x2="296.88" y2="416.8" stroke="#333" stroke-width="0.8"/>
<line x1="296.88" y1="436.4" x2="296.88" y2="433.2" stroke="#333" stroke-width="0.8"/>
<line x1="305.35" y1="413.6" x2="305.35" y2="416.8" stroke="#333" stroke-width="0.8"/>
<line x1="305.35" y1="436.4" x2="305.35" y2="433.2" stroke="#333" stroke-width="0.8"/>
<line x1="313.82" y1="413.6" x2="313.82" y2="419.1" stroke="#000" stroke-width="1.0"/>
<line x1="313.82" y1="436.4" x2="313.82" y2="430.9" stroke="#000" stroke-width="1.0"/>
<line x1="322.29" y1="413.6" x2="322.29" y2="416.8" stroke="#333" stroke-width="0.8"/>
<line x1="322.29" y1="436.4" x2="322.29" y2="433.2" stroke="#333" stroke-width="0.8"/>
<line x1="330.76" y1="413.6" x2="330.76" y2="416.8" stroke="#333" stroke-width="0.8"/>
<line x1="330.76" y1="436.4" x2="330.76" y2="433.2" stroke="#333" stroke-width="0.8"/>
<line x1="339.23" y1="413.6" x2="339.23" y2="416.8" stroke="#333" stroke-width="0.8"/>
<line x1="339.23" y1="436.4" x2="339.23" y2="433.2" stroke="#333" stroke-width="0.8"/>
<line x1="347.7" y1="413.6" x2="347.7" y2="419.1" stroke="#000" stroke-width="1.0"/>
<line x1="347.7" y1="436.4" x2="347.7" y2="430.9" stroke="#000" stroke-width="1.0"/>
<line x1="356.17" y1="413.6" x2="356.17" y2="416.8" stroke="#333" stroke-width="0.8"/>
<line x1="356.17" y1="436.4" x2="356.17" y2="433.2" stroke="#333" stroke-width="0.8"/>
<line x1="364.64" y1="413.6" x2="364.64" y2="416.8" stroke="#333" stroke-width="0.8"/>
<line x1="364.64" y1="436.4" x2="364.64" y2="433.2" stroke="#333" stroke-width="0.8"/>
<line x1="373.11" y1="413.6" x2="373.11" y2="416.8" stroke="#333" stroke-width="0.8"/>
<line x1="373.11" y1="436.4" x2="373.11" y2="433.2" stroke="#333" stroke-width="0.8"/>
<line x1="381.58" y1="413.6" x2="381.58" y2="419.1" stroke="#000" stroke-width="1.0"/>
<line x1="381.58" y1="436.4" x2="381.58" y2="430.9" stroke="#000" stroke-width="1.0"/>
<line x1="390.05" y1="413.6" x2="390.05" y2="416.8" stroke="#333" stroke-width="0.8"/>
<line x1="390.05" y1="436.4" x2="390.05" y2="433.2" stroke="#333" stroke-width="0.8"/>
<line x1="398.52" y1="413.6" x2="398.52" y2="416.8" stroke="#333" stroke-width="0.8"/>
<line x1="398.52" y1="436.4" x2="398.52" y2="433.2" stroke="#333" stroke-width="0.8"/>
<line x1="406.99" y1="413.6" x2="406.99" y2="416.8" stroke="#333" stroke-width="0.8"/>
<line x1="406.99" y1="436.4" x2="406.99" y2="433.2" stroke="#333" stroke-width="0.8"/>
<line x1="415.46" y1="413.6" x2="415.46" y2="419.1" stroke="#000" stroke-width="1.0"/>
<line x1="415.46" y1="436.4" x2="415.46" y2="430.9" stroke="#000" stroke-width="1.0"/>
<line x1="423.93" y1="413.6" x2="423.93" y2="416.8" stroke="#333" stroke-width="0.8"/>
<line x1="423.93" y1="436.4" x2="423.93" y2="433.2" stroke="#333" stroke-width="0.8"/>
<line x1="263" y1="436.4" x2="268.5" y2="436.4" stroke="#000" stroke-width="1.0"/>
<line x1="263" y1="431.84" x2="266.2" y2="431.84" stroke="#333" stroke-width="0.8"/>
<line x1="263" y1="427.28" x2="266.2" y2="427.28" stroke="#333" stroke-width="0.8"/>
<line x1="263" y1="422.72" x2="266.2" y2="422.72" stroke="#333" stroke-width="0.8"/>
<line x1="263" y1="418.16" x2="266.2" y2="418.16" stroke="#333" stroke-width="0.8"/>
<line x1="263" y1="413.6" x2="268.5" y2="413.6" stroke="#000" stroke-width="1.0"/>
<line x1="432.4" y1="436.4" x2="426.5" y2="436.4" stroke="#000" stroke-width="1.0"/>
<line x1="432.4" y1="431.84" x2="429.2" y2="431.84" stroke="#333" stroke-width="0.8"/>
<line x1="432.4" y1="427.28" x2="429.2" y2="427.28" stroke="#333" stroke-width="0.8"/>
<line x1="432.4" y1="422.72" x2="429.2" y2="422.72" stroke="#333" stroke-width="0.8"/>
<line x1="432.4" y1="418.16" x2="429.2" y2="418.16" stroke="#333" stroke-width="0.8"/>
<line x1="432.4" y1="413.6" x2="426.5" y2="413.6" stroke="#000" stroke-width="1.0"/>
<rect x="263" y="413.6" width="169.4" height="22.8" fill="none" stroke="#000" stroke-width="1.1"/>
<g transform="translate(260.2,440.45)" fill="#000" stroke="#000" stroke-width="0.3"><text transform="scale(0.94,1)" x="-7.08" y="0" font-size="11.76">5</text><rect x="-15.19" y="-4.04" width="6.95" height="1.12" stroke="none"/></g>
<g transform="translate(260.2,417.65)" fill="#000" stroke="#000" stroke-width="0.3"><text transform="scale(0.94,1)" x="-7.08" y="0" font-size="11.76">5</text></g>
<line x1="492.09" y1="32.5" x2="492.09" y2="35.7" stroke="#333" stroke-width="0.8"/>
<line x1="492.09" y1="158.4" x2="492.09" y2="155.2" stroke="#333" stroke-width="0.8"/>
<line x1="500.58" y1="32.5" x2="500.58" y2="38" stroke="#000" stroke-width="1.0"/>
<line x1="500.58" y1="158.4" x2="500.58" y2="152.9" stroke="#000" stroke-width="1.0"/>
<line x1="509.07" y1="32.5" x2="509.07" y2="35.7" stroke="#333" stroke-width="0.8"/>
<line x1="509.07" y1="158.4" x2="509.07" y2="155.2" stroke="#333" stroke-width="0.8"/>
<line x1="517.56" y1="32.5" x2="517.56" y2="35.7" stroke="#333" stroke-width="0.8"/>
<line x1="517.56" y1="158.4" x2="517.56" y2="155.2" stroke="#333" stroke-width="0.8"/>
<line x1="526.05" y1="32.5" x2="526.05" y2="35.7" stroke="#333" stroke-width="0.8"/>
<line x1="526.05" y1="158.4" x2="526.05" y2="155.2" stroke="#333" stroke-width="0.8"/>
<line x1="534.54" y1="32.5" x2="534.54" y2="38" stroke="#000" stroke-width="1.0"/>
<line x1="534.54" y1="158.4" x2="534.54" y2="152.9" stroke="#000" stroke-width="1.0"/>
<line x1="543.03" y1="32.5" x2="543.03" y2="35.7" stroke="#333" stroke-width="0.8"/>
<line x1="543.03" y1="158.4" x2="543.03" y2="155.2" stroke="#333" stroke-width="0.8"/>
<line x1="551.52" y1="32.5" x2="551.52" y2="35.7" stroke="#333" stroke-width="0.8"/>
<line x1="551.52" y1="158.4" x2="551.52" y2="155.2" stroke="#333" stroke-width="0.8"/>
<line x1="560.01" y1="32.5" x2="560.01" y2="35.7" stroke="#333" stroke-width="0.8"/>
<line x1="560.01" y1="158.4" x2="560.01" y2="155.2" stroke="#333" stroke-width="0.8"/>
<line x1="568.5" y1="32.5" x2="568.5" y2="38" stroke="#000" stroke-width="1.0"/>
<line x1="568.5" y1="158.4" x2="568.5" y2="152.9" stroke="#000" stroke-width="1.0"/>
<line x1="576.99" y1="32.5" x2="576.99" y2="35.7" stroke="#333" stroke-width="0.8"/>
<line x1="576.99" y1="158.4" x2="576.99" y2="155.2" stroke="#333" stroke-width="0.8"/>
<line x1="585.48" y1="32.5" x2="585.48" y2="35.7" stroke="#333" stroke-width="0.8"/>
<line x1="585.48" y1="158.4" x2="585.48" y2="155.2" stroke="#333" stroke-width="0.8"/>
<line x1="593.97" y1="32.5" x2="593.97" y2="35.7" stroke="#333" stroke-width="0.8"/>
<line x1="593.97" y1="158.4" x2="593.97" y2="155.2" stroke="#333" stroke-width="0.8"/>
<line x1="602.46" y1="32.5" x2="602.46" y2="38" stroke="#000" stroke-width="1.0"/>
<line x1="602.46" y1="158.4" x2="602.46" y2="152.9" stroke="#000" stroke-width="1.0"/>
<line x1="610.95" y1="32.5" x2="610.95" y2="35.7" stroke="#333" stroke-width="0.8"/>
<line x1="610.95" y1="158.4" x2="610.95" y2="155.2" stroke="#333" stroke-width="0.8"/>
<line x1="619.44" y1="32.5" x2="619.44" y2="35.7" stroke="#333" stroke-width="0.8"/>
<line x1="619.44" y1="158.4" x2="619.44" y2="155.2" stroke="#333" stroke-width="0.8"/>
<line x1="627.93" y1="32.5" x2="627.93" y2="35.7" stroke="#333" stroke-width="0.8"/>
<line x1="627.93" y1="158.4" x2="627.93" y2="155.2" stroke="#333" stroke-width="0.8"/>
<line x1="636.42" y1="32.5" x2="636.42" y2="38" stroke="#000" stroke-width="1.0"/>
<line x1="636.42" y1="158.4" x2="636.42" y2="152.9" stroke="#000" stroke-width="1.0"/>
<line x1="644.91" y1="32.5" x2="644.91" y2="35.7" stroke="#333" stroke-width="0.8"/>
<line x1="644.91" y1="158.4" x2="644.91" y2="155.2" stroke="#333" stroke-width="0.8"/>
<line x1="483.6" y1="157.15" x2="486.8" y2="157.15" stroke="#333" stroke-width="0.8"/>
<line x1="483.6" y1="149.52" x2="486.8" y2="149.52" stroke="#333" stroke-width="0.8"/>
<line x1="483.6" y1="141.9" x2="489.1" y2="141.9" stroke="#000" stroke-width="1.0"/>
<line x1="483.6" y1="134.27" x2="486.8" y2="134.27" stroke="#333" stroke-width="0.8"/>
<line x1="483.6" y1="126.65" x2="486.8" y2="126.65" stroke="#333" stroke-width="0.8"/>
<line x1="483.6" y1="119.02" x2="486.8" y2="119.02" stroke="#333" stroke-width="0.8"/>
<line x1="483.6" y1="111.4" x2="489.1" y2="111.4" stroke="#000" stroke-width="1.0"/>
<line x1="483.6" y1="103.77" x2="486.8" y2="103.77" stroke="#333" stroke-width="0.8"/>
<line x1="483.6" y1="96.15" x2="486.8" y2="96.15" stroke="#333" stroke-width="0.8"/>
<line x1="483.6" y1="88.52" x2="486.8" y2="88.52" stroke="#333" stroke-width="0.8"/>
<line x1="483.6" y1="80.9" x2="489.1" y2="80.9" stroke="#000" stroke-width="1.0"/>
<line x1="483.6" y1="73.28" x2="486.8" y2="73.28" stroke="#333" stroke-width="0.8"/>
<line x1="483.6" y1="65.65" x2="486.8" y2="65.65" stroke="#333" stroke-width="0.8"/>
<line x1="483.6" y1="58.02" x2="486.8" y2="58.02" stroke="#333" stroke-width="0.8"/>
<line x1="483.6" y1="50.4" x2="489.1" y2="50.4" stroke="#000" stroke-width="1.0"/>
<line x1="483.6" y1="42.78" x2="486.8" y2="42.78" stroke="#333" stroke-width="0.8"/>
<line x1="483.6" y1="35.15" x2="486.8" y2="35.15" stroke="#333" stroke-width="0.8"/>
<line x1="653.4" y1="152.8" x2="647.5" y2="152.8" stroke="#000" stroke-width="1.0"/>
<line x1="653.4" y1="143.68" x2="650.2" y2="143.68" stroke="#333" stroke-width="0.8"/>
<line x1="653.4" y1="134.56" x2="650.2" y2="134.56" stroke="#333" stroke-width="0.8"/>
<line x1="653.4" y1="125.44" x2="650.2" y2="125.44" stroke="#333" stroke-width="0.8"/>
<line x1="653.4" y1="116.32" x2="650.2" y2="116.32" stroke="#333" stroke-width="0.8"/>
<line x1="653.4" y1="107.2" x2="647.5" y2="107.2" stroke="#000" stroke-width="1.0"/>
<line x1="653.4" y1="98.08" x2="650.2" y2="98.08" stroke="#333" stroke-width="0.8"/>
<line x1="653.4" y1="88.96" x2="650.2" y2="88.96" stroke="#333" stroke-width="0.8"/>
<line x1="653.4" y1="79.84" x2="650.2" y2="79.84" stroke="#333" stroke-width="0.8"/>
<line x1="653.4" y1="70.72" x2="650.2" y2="70.72" stroke="#333" stroke-width="0.8"/>
<line x1="653.4" y1="61.6" x2="647.5" y2="61.6" stroke="#000" stroke-width="1.0"/>
<line x1="653.4" y1="52.48" x2="650.2" y2="52.48" stroke="#333" stroke-width="0.8"/>
<line x1="653.4" y1="43.36" x2="650.2" y2="43.36" stroke="#333" stroke-width="0.8"/>
<line x1="653.4" y1="34.24" x2="650.2" y2="34.24" stroke="#333" stroke-width="0.8"/>
<rect x="483.6" y="32.5" width="169.8" height="125.9" fill="none" stroke="#000" stroke-width="1.1"/>
<g transform="translate(480.8,145.95)" fill="#000" stroke="#000" stroke-width="0.3"><text transform="scale(0.98,1)" x="-17.77 -10.66 -6.88" y="0" font-size="11.76">1.0</text></g>
<g transform="translate(480.8,115.45)" fill="#000" stroke="#000" stroke-width="0.3"><text transform="scale(0.96,1)" x="-18.02 -10.82 -7.1" y="0" font-size="11.76">1.2</text></g>
<g transform="translate(480.8,84.95)" fill="#000" stroke="#000" stroke-width="0.3"><text transform="scale(0.98,1)" x="-17.76 -10.66 -6.88" y="0" font-size="11.76">1.4</text></g>
<g transform="translate(480.8,54.45)" fill="#000" stroke="#000" stroke-width="0.3"><text transform="scale(0.99,1)" x="-17.54 -10.52 -6.82" y="0" font-size="11.76">1.6</text></g>
<g transform="translate(655.7,156.85)" fill="#000" stroke="#000" stroke-width="0.3"><text transform="scale(0.95,1)" x="10.18" y="0" font-size="11.76">1</text><rect x="1.18" y="-4.04" width="6.95" height="1.12" stroke="none"/></g>
<g transform="translate(655.7,111.25)" fill="#000" stroke="#000" stroke-width="0.3"><text transform="scale(0.99,1)" x="0.28" y="0" font-size="11.76">0</text></g>
<g transform="translate(655.7,65.65)" fill="#000" stroke="#000" stroke-width="0.3"><text transform="scale(0.95,1)" x="0.39" y="0" font-size="11.76">1</text></g>
<line x1="492.09" y1="162.5" x2="492.09" y2="165.7" stroke="#333" stroke-width="0.8"/>
<line x1="492.09" y1="186.4" x2="492.09" y2="183.2" stroke="#333" stroke-width="0.8"/>
<line x1="500.58" y1="162.5" x2="500.58" y2="168" stroke="#000" stroke-width="1.0"/>
<line x1="500.58" y1="186.4" x2="500.58" y2="180.9" stroke="#000" stroke-width="1.0"/>
<line x1="509.07" y1="162.5" x2="509.07" y2="165.7" stroke="#333" stroke-width="0.8"/>
<line x1="509.07" y1="186.4" x2="509.07" y2="183.2" stroke="#333" stroke-width="0.8"/>
<line x1="517.56" y1="162.5" x2="517.56" y2="165.7" stroke="#333" stroke-width="0.8"/>
<line x1="517.56" y1="186.4" x2="517.56" y2="183.2" stroke="#333" stroke-width="0.8"/>
<line x1="526.05" y1="162.5" x2="526.05" y2="165.7" stroke="#333" stroke-width="0.8"/>
<line x1="526.05" y1="186.4" x2="526.05" y2="183.2" stroke="#333" stroke-width="0.8"/>
<line x1="534.54" y1="162.5" x2="534.54" y2="168" stroke="#000" stroke-width="1.0"/>
<line x1="534.54" y1="186.4" x2="534.54" y2="180.9" stroke="#000" stroke-width="1.0"/>
<line x1="543.03" y1="162.5" x2="543.03" y2="165.7" stroke="#333" stroke-width="0.8"/>
<line x1="543.03" y1="186.4" x2="543.03" y2="183.2" stroke="#333" stroke-width="0.8"/>
<line x1="551.52" y1="162.5" x2="551.52" y2="165.7" stroke="#333" stroke-width="0.8"/>
<line x1="551.52" y1="186.4" x2="551.52" y2="183.2" stroke="#333" stroke-width="0.8"/>
<line x1="560.01" y1="162.5" x2="560.01" y2="165.7" stroke="#333" stroke-width="0.8"/>
<line x1="560.01" y1="186.4" x2="560.01" y2="183.2" stroke="#333" stroke-width="0.8"/>
<line x1="568.5" y1="162.5" x2="568.5" y2="168" stroke="#000" stroke-width="1.0"/>
<line x1="568.5" y1="186.4" x2="568.5" y2="180.9" stroke="#000" stroke-width="1.0"/>
<line x1="576.99" y1="162.5" x2="576.99" y2="165.7" stroke="#333" stroke-width="0.8"/>
<line x1="576.99" y1="186.4" x2="576.99" y2="183.2" stroke="#333" stroke-width="0.8"/>
<line x1="585.48" y1="162.5" x2="585.48" y2="165.7" stroke="#333" stroke-width="0.8"/>
<line x1="585.48" y1="186.4" x2="585.48" y2="183.2" stroke="#333" stroke-width="0.8"/>
<line x1="593.97" y1="162.5" x2="593.97" y2="165.7" stroke="#333" stroke-width="0.8"/>
<line x1="593.97" y1="186.4" x2="593.97" y2="183.2" stroke="#333" stroke-width="0.8"/>
<line x1="602.46" y1="162.5" x2="602.46" y2="168" stroke="#000" stroke-width="1.0"/>
<line x1="602.46" y1="186.4" x2="602.46" y2="180.9" stroke="#000" stroke-width="1.0"/>
<line x1="610.95" y1="162.5" x2="610.95" y2="165.7" stroke="#333" stroke-width="0.8"/>
<line x1="610.95" y1="186.4" x2="610.95" y2="183.2" stroke="#333" stroke-width="0.8"/>
<line x1="619.44" y1="162.5" x2="619.44" y2="165.7" stroke="#333" stroke-width="0.8"/>
<line x1="619.44" y1="186.4" x2="619.44" y2="183.2" stroke="#333" stroke-width="0.8"/>
<line x1="627.93" y1="162.5" x2="627.93" y2="165.7" stroke="#333" stroke-width="0.8"/>
<line x1="627.93" y1="186.4" x2="627.93" y2="183.2" stroke="#333" stroke-width="0.8"/>
<line x1="636.42" y1="162.5" x2="636.42" y2="168" stroke="#000" stroke-width="1.0"/>
<line x1="636.42" y1="186.4" x2="636.42" y2="180.9" stroke="#000" stroke-width="1.0"/>
<line x1="644.91" y1="162.5" x2="644.91" y2="165.7" stroke="#333" stroke-width="0.8"/>
<line x1="644.91" y1="186.4" x2="644.91" y2="183.2" stroke="#333" stroke-width="0.8"/>
<line x1="483.6" y1="186.4" x2="489.1" y2="186.4" stroke="#000" stroke-width="1.0"/>
<line x1="483.6" y1="181.62" x2="486.8" y2="181.62" stroke="#333" stroke-width="0.8"/>
<line x1="483.6" y1="176.84" x2="486.8" y2="176.84" stroke="#333" stroke-width="0.8"/>
<line x1="483.6" y1="172.06" x2="486.8" y2="172.06" stroke="#333" stroke-width="0.8"/>
<line x1="483.6" y1="167.28" x2="486.8" y2="167.28" stroke="#333" stroke-width="0.8"/>
<line x1="483.6" y1="162.5" x2="489.1" y2="162.5" stroke="#000" stroke-width="1.0"/>
<line x1="653.4" y1="186.4" x2="647.5" y2="186.4" stroke="#000" stroke-width="1.0"/>
<line x1="653.4" y1="181.62" x2="650.2" y2="181.62" stroke="#333" stroke-width="0.8"/>
<line x1="653.4" y1="176.84" x2="650.2" y2="176.84" stroke="#333" stroke-width="0.8"/>
<line x1="653.4" y1="172.06" x2="650.2" y2="172.06" stroke="#333" stroke-width="0.8"/>
<line x1="653.4" y1="167.28" x2="650.2" y2="167.28" stroke="#333" stroke-width="0.8"/>
<line x1="653.4" y1="162.5" x2="647.5" y2="162.5" stroke="#000" stroke-width="1.0"/>
<rect x="483.6" y="162.5" width="169.8" height="23.9" fill="none" stroke="#000" stroke-width="1.1"/>
<g transform="translate(480.8,190.45)" fill="#000" stroke="#000" stroke-width="0.3"><text transform="scale(0.97,1)" x="-17.8 -10.72 -6.95" y="0" font-size="11.76">0.5</text><rect x="-25.78" y="-4.04" width="6.95" height="1.12" stroke="none"/></g>
<g transform="translate(480.8,166.55)" fill="#000" stroke="#000" stroke-width="0.3"><text transform="scale(0.97,1)" x="-17.8 -10.72 -6.95" y="0" font-size="11.76">0.5</text></g>
<line x1="492.09" y1="193.3" x2="492.09" y2="196.5" stroke="#333" stroke-width="0.8"/>
<line x1="492.09" y1="285.4" x2="492.09" y2="282.2" stroke="#333" stroke-width="0.8"/>
<line x1="500.58" y1="193.3" x2="500.58" y2="198.8" stroke="#000" stroke-width="1.0"/>
<line x1="500.58" y1="285.4" x2="500.58" y2="279.9" stroke="#000" stroke-width="1.0"/>
<line x1="509.07" y1="193.3" x2="509.07" y2="196.5" stroke="#333" stroke-width="0.8"/>
<line x1="509.07" y1="285.4" x2="509.07" y2="282.2" stroke="#333" stroke-width="0.8"/>
<line x1="517.56" y1="193.3" x2="517.56" y2="196.5" stroke="#333" stroke-width="0.8"/>
<line x1="517.56" y1="285.4" x2="517.56" y2="282.2" stroke="#333" stroke-width="0.8"/>
<line x1="526.05" y1="193.3" x2="526.05" y2="196.5" stroke="#333" stroke-width="0.8"/>
<line x1="526.05" y1="285.4" x2="526.05" y2="282.2" stroke="#333" stroke-width="0.8"/>
<line x1="534.54" y1="193.3" x2="534.54" y2="198.8" stroke="#000" stroke-width="1.0"/>
<line x1="534.54" y1="285.4" x2="534.54" y2="279.9" stroke="#000" stroke-width="1.0"/>
<line x1="543.03" y1="193.3" x2="543.03" y2="196.5" stroke="#333" stroke-width="0.8"/>
<line x1="543.03" y1="285.4" x2="543.03" y2="282.2" stroke="#333" stroke-width="0.8"/>
<line x1="551.52" y1="193.3" x2="551.52" y2="196.5" stroke="#333" stroke-width="0.8"/>
<line x1="551.52" y1="285.4" x2="551.52" y2="282.2" stroke="#333" stroke-width="0.8"/>
<line x1="560.01" y1="193.3" x2="560.01" y2="196.5" stroke="#333" stroke-width="0.8"/>
<line x1="560.01" y1="285.4" x2="560.01" y2="282.2" stroke="#333" stroke-width="0.8"/>
<line x1="568.5" y1="193.3" x2="568.5" y2="198.8" stroke="#000" stroke-width="1.0"/>
<line x1="568.5" y1="285.4" x2="568.5" y2="279.9" stroke="#000" stroke-width="1.0"/>
<line x1="576.99" y1="193.3" x2="576.99" y2="196.5" stroke="#333" stroke-width="0.8"/>
<line x1="576.99" y1="285.4" x2="576.99" y2="282.2" stroke="#333" stroke-width="0.8"/>
<line x1="585.48" y1="193.3" x2="585.48" y2="196.5" stroke="#333" stroke-width="0.8"/>
<line x1="585.48" y1="285.4" x2="585.48" y2="282.2" stroke="#333" stroke-width="0.8"/>
<line x1="593.97" y1="193.3" x2="593.97" y2="196.5" stroke="#333" stroke-width="0.8"/>
<line x1="593.97" y1="285.4" x2="593.97" y2="282.2" stroke="#333" stroke-width="0.8"/>
<line x1="602.46" y1="193.3" x2="602.46" y2="198.8" stroke="#000" stroke-width="1.0"/>
<line x1="602.46" y1="285.4" x2="602.46" y2="279.9" stroke="#000" stroke-width="1.0"/>
<line x1="610.95" y1="193.3" x2="610.95" y2="196.5" stroke="#333" stroke-width="0.8"/>
<line x1="610.95" y1="285.4" x2="610.95" y2="282.2" stroke="#333" stroke-width="0.8"/>
<line x1="619.44" y1="193.3" x2="619.44" y2="196.5" stroke="#333" stroke-width="0.8"/>
<line x1="619.44" y1="285.4" x2="619.44" y2="282.2" stroke="#333" stroke-width="0.8"/>
<line x1="627.93" y1="193.3" x2="627.93" y2="196.5" stroke="#333" stroke-width="0.8"/>
<line x1="627.93" y1="285.4" x2="627.93" y2="282.2" stroke="#333" stroke-width="0.8"/>
<line x1="636.42" y1="193.3" x2="636.42" y2="198.8" stroke="#000" stroke-width="1.0"/>
<line x1="636.42" y1="285.4" x2="636.42" y2="279.9" stroke="#000" stroke-width="1.0"/>
<line x1="644.91" y1="193.3" x2="644.91" y2="196.5" stroke="#333" stroke-width="0.8"/>
<line x1="644.91" y1="285.4" x2="644.91" y2="282.2" stroke="#333" stroke-width="0.8"/>
<line x1="483.6" y1="284.85" x2="486.8" y2="284.85" stroke="#333" stroke-width="0.8"/>
<line x1="483.6" y1="276.83" x2="486.8" y2="276.83" stroke="#333" stroke-width="0.8"/>
<line x1="483.6" y1="268.8" x2="489.1" y2="268.8" stroke="#000" stroke-width="1.0"/>
<line x1="483.6" y1="260.77" x2="486.8" y2="260.77" stroke="#333" stroke-width="0.8"/>
<line x1="483.6" y1="252.75" x2="486.8" y2="252.75" stroke="#333" stroke-width="0.8"/>
<line x1="483.6" y1="244.73" x2="486.8" y2="244.73" stroke="#333" stroke-width="0.8"/>
<line x1="483.6" y1="236.7" x2="489.1" y2="236.7" stroke="#000" stroke-width="1.0"/>
<line x1="483.6" y1="228.67" x2="486.8" y2="228.67" stroke="#333" stroke-width="0.8"/>
<line x1="483.6" y1="220.65" x2="486.8" y2="220.65" stroke="#333" stroke-width="0.8"/>
<line x1="483.6" y1="212.62" x2="486.8" y2="212.62" stroke="#333" stroke-width="0.8"/>
<line x1="483.6" y1="204.6" x2="489.1" y2="204.6" stroke="#000" stroke-width="1.0"/>
<line x1="483.6" y1="196.57" x2="486.8" y2="196.57" stroke="#333" stroke-width="0.8"/>
<line x1="653.4" y1="281.71" x2="650.2" y2="281.71" stroke="#333" stroke-width="0.8"/>
<line x1="653.4" y1="272" x2="647.5" y2="272" stroke="#000" stroke-width="1.0"/>
<line x1="653.4" y1="262.29" x2="650.2" y2="262.29" stroke="#333" stroke-width="0.8"/>
<line x1="653.4" y1="252.57" x2="650.2" y2="252.57" stroke="#333" stroke-width="0.8"/>
<line x1="653.4" y1="242.86" x2="650.2" y2="242.86" stroke="#333" stroke-width="0.8"/>
<line x1="653.4" y1="233.15" x2="647.5" y2="233.15" stroke="#000" stroke-width="1.0"/>
<line x1="653.4" y1="223.44" x2="650.2" y2="223.44" stroke="#333" stroke-width="0.8"/>
<line x1="653.4" y1="213.73" x2="650.2" y2="213.73" stroke="#333" stroke-width="0.8"/>
<line x1="653.4" y1="204.01" x2="650.2" y2="204.01" stroke="#333" stroke-width="0.8"/>
<line x1="653.4" y1="194.3" x2="647.5" y2="194.3" stroke="#000" stroke-width="1.0"/>
<rect x="483.6" y="193.3" width="169.8" height="92.1" fill="none" stroke="#000" stroke-width="1.1"/>
<g transform="translate(480.8,272.85)" fill="#000" stroke="#000" stroke-width="0.3"><text transform="scale(0.98,1)" x="-17.77 -10.66 -6.88" y="0" font-size="11.76">1.0</text></g>
<g transform="translate(480.8,240.75)" fill="#000" stroke="#000" stroke-width="0.3"><text transform="scale(0.96,1)" x="-18.02 -10.82 -7.1" y="0" font-size="11.76">1.2</text></g>
<g transform="translate(480.8,208.65)" fill="#000" stroke="#000" stroke-width="0.3"><text transform="scale(0.98,1)" x="-17.76 -10.66 -6.88" y="0" font-size="11.76">1.4</text></g>
<g transform="translate(655.7,276.05)" fill="#000" stroke="#000" stroke-width="0.3"><text transform="scale(0.96,1)" x="9.96" y="0" font-size="11.76">2</text><rect x="1.18" y="-4.04" width="6.95" height="1.12" stroke="none"/></g>
<g transform="translate(655.7,237.2)" fill="#000" stroke="#000" stroke-width="0.3"><text transform="scale(0.99,1)" x="0.28" y="0" font-size="11.76">0</text></g>
<g transform="translate(655.7,198.35)" fill="#000" stroke="#000" stroke-width="0.3"><text transform="scale(0.96,1)" x="0.26" y="0" font-size="11.76">2</text></g>
<line x1="492.09" y1="288.4" x2="492.09" y2="291.6" stroke="#333" stroke-width="0.8"/>
<line x1="492.09" y1="311.25" x2="492.09" y2="308.05" stroke="#333" stroke-width="0.8"/>
<line x1="500.58" y1="288.4" x2="500.58" y2="293.9" stroke="#000" stroke-width="1.0"/>
<line x1="500.58" y1="311.25" x2="500.58" y2="305.75" stroke="#000" stroke-width="1.0"/>
<line x1="509.07" y1="288.4" x2="509.07" y2="291.6" stroke="#333" stroke-width="0.8"/>
<line x1="509.07" y1="311.25" x2="509.07" y2="308.05" stroke="#333" stroke-width="0.8"/>
<line x1="517.56" y1="288.4" x2="517.56" y2="291.6" stroke="#333" stroke-width="0.8"/>
<line x1="517.56" y1="311.25" x2="517.56" y2="308.05" stroke="#333" stroke-width="0.8"/>
<line x1="526.05" y1="288.4" x2="526.05" y2="291.6" stroke="#333" stroke-width="0.8"/>
<line x1="526.05" y1="311.25" x2="526.05" y2="308.05" stroke="#333" stroke-width="0.8"/>
<line x1="534.54" y1="288.4" x2="534.54" y2="293.9" stroke="#000" stroke-width="1.0"/>
<line x1="534.54" y1="311.25" x2="534.54" y2="305.75" stroke="#000" stroke-width="1.0"/>
<line x1="543.03" y1="288.4" x2="543.03" y2="291.6" stroke="#333" stroke-width="0.8"/>
<line x1="543.03" y1="311.25" x2="543.03" y2="308.05" stroke="#333" stroke-width="0.8"/>
<line x1="551.52" y1="288.4" x2="551.52" y2="291.6" stroke="#333" stroke-width="0.8"/>
<line x1="551.52" y1="311.25" x2="551.52" y2="308.05" stroke="#333" stroke-width="0.8"/>
<line x1="560.01" y1="288.4" x2="560.01" y2="291.6" stroke="#333" stroke-width="0.8"/>
<line x1="560.01" y1="311.25" x2="560.01" y2="308.05" stroke="#333" stroke-width="0.8"/>
<line x1="568.5" y1="288.4" x2="568.5" y2="293.9" stroke="#000" stroke-width="1.0"/>
<line x1="568.5" y1="311.25" x2="568.5" y2="305.75" stroke="#000" stroke-width="1.0"/>
<line x1="576.99" y1="288.4" x2="576.99" y2="291.6" stroke="#333" stroke-width="0.8"/>
<line x1="576.99" y1="311.25" x2="576.99" y2="308.05" stroke="#333" stroke-width="0.8"/>
<line x1="585.48" y1="288.4" x2="585.48" y2="291.6" stroke="#333" stroke-width="0.8"/>
<line x1="585.48" y1="311.25" x2="585.48" y2="308.05" stroke="#333" stroke-width="0.8"/>
<line x1="593.97" y1="288.4" x2="593.97" y2="291.6" stroke="#333" stroke-width="0.8"/>
<line x1="593.97" y1="311.25" x2="593.97" y2="308.05" stroke="#333" stroke-width="0.8"/>
<line x1="602.46" y1="288.4" x2="602.46" y2="293.9" stroke="#000" stroke-width="1.0"/>
<line x1="602.46" y1="311.25" x2="602.46" y2="305.75" stroke="#000" stroke-width="1.0"/>
<line x1="610.95" y1="288.4" x2="610.95" y2="291.6" stroke="#333" stroke-width="0.8"/>
<line x1="610.95" y1="311.25" x2="610.95" y2="308.05" stroke="#333" stroke-width="0.8"/>
<line x1="619.44" y1="288.4" x2="619.44" y2="291.6" stroke="#333" stroke-width="0.8"/>
<line x1="619.44" y1="311.25" x2="619.44" y2="308.05" stroke="#333" stroke-width="0.8"/>
<line x1="627.93" y1="288.4" x2="627.93" y2="291.6" stroke="#333" stroke-width="0.8"/>
<line x1="627.93" y1="311.25" x2="627.93" y2="308.05" stroke="#333" stroke-width="0.8"/>
<line x1="636.42" y1="288.4" x2="636.42" y2="293.9" stroke="#000" stroke-width="1.0"/>
<line x1="636.42" y1="311.25" x2="636.42" y2="305.75" stroke="#000" stroke-width="1.0"/>
<line x1="644.91" y1="288.4" x2="644.91" y2="291.6" stroke="#333" stroke-width="0.8"/>
<line x1="644.91" y1="311.25" x2="644.91" y2="308.05" stroke="#333" stroke-width="0.8"/>
<line x1="483.6" y1="311.25" x2="489.1" y2="311.25" stroke="#000" stroke-width="1.0"/>
<line x1="483.6" y1="305.54" x2="486.8" y2="305.54" stroke="#333" stroke-width="0.8"/>
<line x1="483.6" y1="299.82" x2="486.8" y2="299.82" stroke="#333" stroke-width="0.8"/>
<line x1="483.6" y1="294.11" x2="486.8" y2="294.11" stroke="#333" stroke-width="0.8"/>
<line x1="483.6" y1="288.4" x2="489.1" y2="288.4" stroke="#000" stroke-width="1.0"/>
<line x1="653.4" y1="311.25" x2="647.5" y2="311.25" stroke="#000" stroke-width="1.0"/>
<line x1="653.4" y1="305.54" x2="650.2" y2="305.54" stroke="#333" stroke-width="0.8"/>
<line x1="653.4" y1="299.82" x2="650.2" y2="299.82" stroke="#333" stroke-width="0.8"/>
<line x1="653.4" y1="294.11" x2="650.2" y2="294.11" stroke="#333" stroke-width="0.8"/>
<line x1="653.4" y1="288.4" x2="647.5" y2="288.4" stroke="#000" stroke-width="1.0"/>
<rect x="483.6" y="288.4" width="169.8" height="22.85" fill="none" stroke="#000" stroke-width="1.1"/>
<g transform="translate(480.8,315.3)" fill="#000" stroke="#000" stroke-width="0.3"><text transform="scale(0.96,1)" x="-7.11" y="0" font-size="11.76">2</text><rect x="-15.19" y="-4.04" width="6.95" height="1.12" stroke="none"/></g>
<g transform="translate(480.8,292.45)" fill="#000" stroke="#000" stroke-width="0.3"><text transform="scale(0.96,1)" x="-7.11" y="0" font-size="11.76">2</text></g>
<line x1="492.09" y1="318.4" x2="492.09" y2="321.6" stroke="#333" stroke-width="0.8"/>
<line x1="492.09" y1="410.4" x2="492.09" y2="407.2" stroke="#333" stroke-width="0.8"/>
<line x1="500.58" y1="318.4" x2="500.58" y2="323.9" stroke="#000" stroke-width="1.0"/>
<line x1="500.58" y1="410.4" x2="500.58" y2="404.9" stroke="#000" stroke-width="1.0"/>
<line x1="509.07" y1="318.4" x2="509.07" y2="321.6" stroke="#333" stroke-width="0.8"/>
<line x1="509.07" y1="410.4" x2="509.07" y2="407.2" stroke="#333" stroke-width="0.8"/>
<line x1="517.56" y1="318.4" x2="517.56" y2="321.6" stroke="#333" stroke-width="0.8"/>
<line x1="517.56" y1="410.4" x2="517.56" y2="407.2" stroke="#333" stroke-width="0.8"/>
<line x1="526.05" y1="318.4" x2="526.05" y2="321.6" stroke="#333" stroke-width="0.8"/>
<line x1="526.05" y1="410.4" x2="526.05" y2="407.2" stroke="#333" stroke-width="0.8"/>
<line x1="534.54" y1="318.4" x2="534.54" y2="323.9" stroke="#000" stroke-width="1.0"/>
<line x1="534.54" y1="410.4" x2="534.54" y2="404.9" stroke="#000" stroke-width="1.0"/>
<line x1="543.03" y1="318.4" x2="543.03" y2="321.6" stroke="#333" stroke-width="0.8"/>
<line x1="543.03" y1="410.4" x2="543.03" y2="407.2" stroke="#333" stroke-width="0.8"/>
<line x1="551.52" y1="318.4" x2="551.52" y2="321.6" stroke="#333" stroke-width="0.8"/>
<line x1="551.52" y1="410.4" x2="551.52" y2="407.2" stroke="#333" stroke-width="0.8"/>
<line x1="560.01" y1="318.4" x2="560.01" y2="321.6" stroke="#333" stroke-width="0.8"/>
<line x1="560.01" y1="410.4" x2="560.01" y2="407.2" stroke="#333" stroke-width="0.8"/>
<line x1="568.5" y1="318.4" x2="568.5" y2="323.9" stroke="#000" stroke-width="1.0"/>
<line x1="568.5" y1="410.4" x2="568.5" y2="404.9" stroke="#000" stroke-width="1.0"/>
<line x1="576.99" y1="318.4" x2="576.99" y2="321.6" stroke="#333" stroke-width="0.8"/>
<line x1="576.99" y1="410.4" x2="576.99" y2="407.2" stroke="#333" stroke-width="0.8"/>
<line x1="585.48" y1="318.4" x2="585.48" y2="321.6" stroke="#333" stroke-width="0.8"/>
<line x1="585.48" y1="410.4" x2="585.48" y2="407.2" stroke="#333" stroke-width="0.8"/>
<line x1="593.97" y1="318.4" x2="593.97" y2="321.6" stroke="#333" stroke-width="0.8"/>
<line x1="593.97" y1="410.4" x2="593.97" y2="407.2" stroke="#333" stroke-width="0.8"/>
<line x1="602.46" y1="318.4" x2="602.46" y2="323.9" stroke="#000" stroke-width="1.0"/>
<line x1="602.46" y1="410.4" x2="602.46" y2="404.9" stroke="#000" stroke-width="1.0"/>
<line x1="610.95" y1="318.4" x2="610.95" y2="321.6" stroke="#333" stroke-width="0.8"/>
<line x1="610.95" y1="410.4" x2="610.95" y2="407.2" stroke="#333" stroke-width="0.8"/>
<line x1="619.44" y1="318.4" x2="619.44" y2="321.6" stroke="#333" stroke-width="0.8"/>
<line x1="619.44" y1="410.4" x2="619.44" y2="407.2" stroke="#333" stroke-width="0.8"/>
<line x1="627.93" y1="318.4" x2="627.93" y2="321.6" stroke="#333" stroke-width="0.8"/>
<line x1="627.93" y1="410.4" x2="627.93" y2="407.2" stroke="#333" stroke-width="0.8"/>
<line x1="636.42" y1="318.4" x2="636.42" y2="323.9" stroke="#000" stroke-width="1.0"/>
<line x1="636.42" y1="410.4" x2="636.42" y2="404.9" stroke="#000" stroke-width="1.0"/>
<line x1="644.91" y1="318.4" x2="644.91" y2="321.6" stroke="#333" stroke-width="0.8"/>
<line x1="644.91" y1="410.4" x2="644.91" y2="407.2" stroke="#333" stroke-width="0.8"/>
<line x1="483.6" y1="407.4" x2="486.8" y2="407.4" stroke="#333" stroke-width="0.8"/>
<line x1="483.6" y1="400.4" x2="486.8" y2="400.4" stroke="#333" stroke-width="0.8"/>
<line x1="483.6" y1="393.4" x2="486.8" y2="393.4" stroke="#333" stroke-width="0.8"/>
<line x1="483.6" y1="386.4" x2="489.1" y2="386.4" stroke="#000" stroke-width="1.0"/>
<line x1="483.6" y1="379.4" x2="486.8" y2="379.4" stroke="#333" stroke-width="0.8"/>
<line x1="483.6" y1="372.4" x2="486.8" y2="372.4" stroke="#333" stroke-width="0.8"/>
<line x1="483.6" y1="365.4" x2="486.8" y2="365.4" stroke="#333" stroke-width="0.8"/>
<line x1="483.6" y1="358.4" x2="486.8" y2="358.4" stroke="#333" stroke-width="0.8"/>
<line x1="483.6" y1="351.4" x2="489.1" y2="351.4" stroke="#000" stroke-width="1.0"/>
<line x1="483.6" y1="344.4" x2="486.8" y2="344.4" stroke="#333" stroke-width="0.8"/>
<line x1="483.6" y1="337.4" x2="486.8" y2="337.4" stroke="#333" stroke-width="0.8"/>
<line x1="483.6" y1="330.4" x2="486.8" y2="330.4" stroke="#333" stroke-width="0.8"/>
<line x1="483.6" y1="323.4" x2="486.8" y2="323.4" stroke="#333" stroke-width="0.8"/>
<line x1="653.4" y1="401.4" x2="650.2" y2="401.4" stroke="#333" stroke-width="0.8"/>
<line x1="653.4" y1="390.8" x2="650.2" y2="390.8" stroke="#333" stroke-width="0.8"/>
<line x1="653.4" y1="380.2" x2="650.2" y2="380.2" stroke="#333" stroke-width="0.8"/>
<line x1="653.4" y1="369.6" x2="647.5" y2="369.6" stroke="#000" stroke-width="1.0"/>
<line x1="653.4" y1="359" x2="650.2" y2="359" stroke="#333" stroke-width="0.8"/>
<line x1="653.4" y1="348.4" x2="650.2" y2="348.4" stroke="#333" stroke-width="0.8"/>
<line x1="653.4" y1="337.8" x2="650.2" y2="337.8" stroke="#333" stroke-width="0.8"/>
<line x1="653.4" y1="327.2" x2="647.5" y2="327.2" stroke="#000" stroke-width="1.0"/>
<rect x="483.6" y="318.4" width="169.8" height="92" fill="none" stroke="#000" stroke-width="1.1"/>
<g transform="translate(480.8,390.45)" fill="#000" stroke="#000" stroke-width="0.3"><text transform="scale(0.98,1)" x="-17.77 -10.66 -6.88" y="0" font-size="11.76">1.0</text></g>
<g transform="translate(480.8,355.45)" fill="#000" stroke="#000" stroke-width="0.3"><text transform="scale(0.96,1)" x="-18.08 -10.86 -7.02" y="0" font-size="11.76">1.1</text></g>
<g transform="translate(655.7,373.65)" fill="#000" stroke="#000" stroke-width="0.3"><text transform="scale(0.99,1)" x="0.28" y="0" font-size="11.76">0</text></g>
<g transform="translate(655.7,331.25)" fill="#000" stroke="#000" stroke-width="0.3"><text transform="scale(0.96,1)" x="0.26" y="0" font-size="11.76">2</text></g>
<line x1="492.09" y1="413.6" x2="492.09" y2="416.8" stroke="#333" stroke-width="0.8"/>
<line x1="492.09" y1="436.4" x2="492.09" y2="433.2" stroke="#333" stroke-width="0.8"/>
<line x1="500.58" y1="413.6" x2="500.58" y2="419.1" stroke="#000" stroke-width="1.0"/>
<line x1="500.58" y1="436.4" x2="500.58" y2="430.9" stroke="#000" stroke-width="1.0"/>
<line x1="509.07" y1="413.6" x2="509.07" y2="416.8" stroke="#333" stroke-width="0.8"/>
<line x1="509.07" y1="436.4" x2="509.07" y2="433.2" stroke="#333" stroke-width="0.8"/>
<line x1="517.56" y1="413.6" x2="517.56" y2="416.8" stroke="#333" stroke-width="0.8"/>
<line x1="517.56" y1="436.4" x2="517.56" y2="433.2" stroke="#333" stroke-width="0.8"/>
<line x1="526.05" y1="413.6" x2="526.05" y2="416.8" stroke="#333" stroke-width="0.8"/>
<line x1="526.05" y1="436.4" x2="526.05" y2="433.2" stroke="#333" stroke-width="0.8"/>
<line x1="534.54" y1="413.6" x2="534.54" y2="419.1" stroke="#000" stroke-width="1.0"/>
<line x1="534.54" y1="436.4" x2="534.54" y2="430.9" stroke="#000" stroke-width="1.0"/>
<line x1="543.03" y1="413.6" x2="543.03" y2="416.8" stroke="#333" stroke-width="0.8"/>
<line x1="543.03" y1="436.4" x2="543.03" y2="433.2" stroke="#333" stroke-width="0.8"/>
<line x1="551.52" y1="413.6" x2="551.52" y2="416.8" stroke="#333" stroke-width="0.8"/>
<line x1="551.52" y1="436.4" x2="551.52" y2="433.2" stroke="#333" stroke-width="0.8"/>
<line x1="560.01" y1="413.6" x2="560.01" y2="416.8" stroke="#333" stroke-width="0.8"/>
<line x1="560.01" y1="436.4" x2="560.01" y2="433.2" stroke="#333" stroke-width="0.8"/>
<line x1="568.5" y1="413.6" x2="568.5" y2="419.1" stroke="#000" stroke-width="1.0"/>
<line x1="568.5" y1="436.4" x2="568.5" y2="430.9" stroke="#000" stroke-width="1.0"/>
<line x1="576.99" y1="413.6" x2="576.99" y2="416.8" stroke="#333" stroke-width="0.8"/>
<line x1="576.99" y1="436.4" x2="576.99" y2="433.2" stroke="#333" stroke-width="0.8"/>
<line x1="585.48" y1="413.6" x2="585.48" y2="416.8" stroke="#333" stroke-width="0.8"/>
<line x1="585.48" y1="436.4" x2="585.48" y2="433.2" stroke="#333" stroke-width="0.8"/>
<line x1="593.97" y1="413.6" x2="593.97" y2="416.8" stroke="#333" stroke-width="0.8"/>
<line x1="593.97" y1="436.4" x2="593.97" y2="433.2" stroke="#333" stroke-width="0.8"/>
<line x1="602.46" y1="413.6" x2="602.46" y2="419.1" stroke="#000" stroke-width="1.0"/>
<line x1="602.46" y1="436.4" x2="602.46" y2="430.9" stroke="#000" stroke-width="1.0"/>
<line x1="610.95" y1="413.6" x2="610.95" y2="416.8" stroke="#333" stroke-width="0.8"/>
<line x1="610.95" y1="436.4" x2="610.95" y2="433.2" stroke="#333" stroke-width="0.8"/>
<line x1="619.44" y1="413.6" x2="619.44" y2="416.8" stroke="#333" stroke-width="0.8"/>
<line x1="619.44" y1="436.4" x2="619.44" y2="433.2" stroke="#333" stroke-width="0.8"/>
<line x1="627.93" y1="413.6" x2="627.93" y2="416.8" stroke="#333" stroke-width="0.8"/>
<line x1="627.93" y1="436.4" x2="627.93" y2="433.2" stroke="#333" stroke-width="0.8"/>
<line x1="636.42" y1="413.6" x2="636.42" y2="419.1" stroke="#000" stroke-width="1.0"/>
<line x1="636.42" y1="436.4" x2="636.42" y2="430.9" stroke="#000" stroke-width="1.0"/>
<line x1="644.91" y1="413.6" x2="644.91" y2="416.8" stroke="#333" stroke-width="0.8"/>
<line x1="644.91" y1="436.4" x2="644.91" y2="433.2" stroke="#333" stroke-width="0.8"/>
<line x1="483.6" y1="436.4" x2="489.1" y2="436.4" stroke="#000" stroke-width="1.0"/>
<line x1="483.6" y1="430.7" x2="486.8" y2="430.7" stroke="#333" stroke-width="0.8"/>
<line x1="483.6" y1="425" x2="486.8" y2="425" stroke="#333" stroke-width="0.8"/>
<line x1="483.6" y1="419.3" x2="486.8" y2="419.3" stroke="#333" stroke-width="0.8"/>
<line x1="483.6" y1="413.6" x2="489.1" y2="413.6" stroke="#000" stroke-width="1.0"/>
<line x1="653.4" y1="436.4" x2="647.5" y2="436.4" stroke="#000" stroke-width="1.0"/>
<line x1="653.4" y1="430.7" x2="650.2" y2="430.7" stroke="#333" stroke-width="0.8"/>
<line x1="653.4" y1="425" x2="650.2" y2="425" stroke="#333" stroke-width="0.8"/>
<line x1="653.4" y1="419.3" x2="650.2" y2="419.3" stroke="#333" stroke-width="0.8"/>
<line x1="653.4" y1="413.6" x2="647.5" y2="413.6" stroke="#000" stroke-width="1.0"/>
<rect x="483.6" y="413.6" width="169.8" height="22.8" fill="none" stroke="#000" stroke-width="1.1"/>
<g transform="translate(480.8,440.45)" fill="#000" stroke="#000" stroke-width="0.3"><text transform="scale(0.95,1)" x="-7.05" y="0" font-size="11.76">1</text><rect x="-15.19" y="-4.04" width="6.95" height="1.12" stroke="none"/></g>
<g transform="translate(480.8,417.65)" fill="#000" stroke="#000" stroke-width="0.3"><text transform="scale(0.95,1)" x="-7.05" y="0" font-size="11.76">1</text></g>
<g transform="translate(59.45,447.5)" fill="#000" stroke="#000" stroke-width="0.3"><text transform="scale(0.99,1)" x="-2.15 4.95" y="0" font-size="11.76">40</text><rect x="-10.54" y="-4.04" width="6.95" height="1.12" stroke="none"/></g>
<g transform="translate(93.35,447.5)" fill="#000" stroke="#000" stroke-width="0.3"><text transform="scale(0.98,1)" x="-2.28 5.1" y="0" font-size="11.76">20</text><rect x="-10.54" y="-4.04" width="6.95" height="1.12" stroke="none"/></g>
<g transform="translate(127.25,447.5)" fill="#000" stroke="#000" stroke-width="0.3"><text transform="scale(0.99,1)" x="-3.27" y="0" font-size="11.76">0</text></g>
<g transform="translate(161.15,447.5)" fill="#000" stroke="#000" stroke-width="0.3"><text transform="scale(0.98,1)" x="-7.04 0.34" y="0" font-size="11.76">20</text></g>
<g transform="translate(195.05,447.5)" fill="#000" stroke="#000" stroke-width="0.3"><text transform="scale(0.99,1)" x="-6.82 0.28" y="0" font-size="11.76">40</text></g>
<g transform="translate(127.25,464.2)" fill="#000" stroke="#000" stroke-width="0.3"><text transform="scale(1.02,1)" x="-52.43 -43.53 -34.76 -31.04 -22.63 -14.54 -10.3 -5.04 7.44 13.22 21.54 34.92 39.36 47.9" y="0" font-size="15.15">Velocity[km/s]</text></g>
<g transform="translate(279.94,447.5)" fill="#000" stroke="#000" stroke-width="0.3"><text transform="scale(0.99,1)" x="-2.15 4.95" y="0" font-size="11.76">40</text><rect x="-10.54" y="-4.04" width="6.95" height="1.12" stroke="none"/></g>
<g transform="translate(313.82,447.5)" fill="#000" stroke="#000" stroke-width="0.3"><text transform="scale(0.98,1)" x="-2.28 5.1" y="0" font-size="11.76">20</text><rect x="-10.54" y="-4.04" width="6.95" height="1.12" stroke="none"/></g>
<g transform="translate(347.7,447.5)" fill="#000" stroke="#000" stroke-width="0.3"><text transform="scale(0.99,1)" x="-3.27" y="0" font-size="11.76">0</text></g>
<g transform="translate(381.58,447.5)" fill="#000" stroke="#000" stroke-width="0.3"><text transform="scale(0.98,1)" x="-7.04 0.34" y="0" font-size="11.76">20</text></g>
<g transform="translate(415.46,447.5)" fill="#000" stroke="#000" stroke-width="0.3"><text transform="scale(0.99,1)" x="-6.82 0.28" y="0" font-size="11.76">40</text></g>
<g transform="translate(347.7,464.2)" fill="#000" stroke="#000" stroke-width="0.3"><text transform="scale(1.02,1)" x="-52.43 -43.53 -34.76 -31.04 -22.63 -14.54 -10.3 -5.04 7.44 13.22 21.54 34.92 39.36 47.9" y="0" font-size="15.15">Velocity[km/s]</text></g>
<g transform="translate(500.58,447.5)" fill="#000" stroke="#000" stroke-width="0.3"><text transform="scale(0.99,1)" x="-2.15 4.95" y="0" font-size="11.76">40</text><rect x="-10.54" y="-4.04" width="6.95" height="1.12" stroke="none"/></g>
<g transform="translate(534.54,447.5)" fill="#000" stroke="#000" stroke-width="0.3"><text transform="scale(0.98,1)" x="-2.28 5.1" y="0" font-size="11.76">20</text><rect x="-10.54" y="-4.04" width="6.95" height="1.12" stroke="none"/></g>
<g transform="translate(568.5,447.5)" fill="#000" stroke="#000" stroke-width="0.3"><text transform="scale(0.99,1)" x="-3.27" y="0" font-size="11.76">0</text></g>
<g transform="translate(602.46,447.5)" fill="#000" stroke="#000" stroke-width="0.3"><text transform="scale(0.98,1)" x="-7.04 0.34" y="0" font-size="11.76">20</text></g>
<g transform="translate(636.42,447.5)" fill="#000" stroke="#000" stroke-width="0.3"><text transform="scale(0.99,1)" x="-6.82 0.28" y="0" font-size="11.76">40</text></g>
<g transform="translate(568.5,464.2)" fill="#000" stroke="#000" stroke-width="0.3"><text transform="scale(1.02,1)" x="-52.43 -43.53 -34.76 -31.04 -22.63 -14.54 -10.3 -5.04 7.44 13.22 21.54 34.92 39.36 47.9" y="0" font-size="15.15">Velocity[km/s]</text></g>
<g transform="translate(127.25,11.6)" fill="#000" stroke="#000" stroke-width="0.3"><text transform="scale(1.01,1)" x="-45.79 -36.22 -27.23 -17.87 -12.73 -4.02 3.88 12.96 22.01 31.38 36.51" y="0" font-size="15.45">Photosphere</text></g>
<g transform="translate(127.25,27.7)" fill="#000" stroke="#000" stroke-width="0.3"><text transform="scale(0.89,1)" x="-22.12 -15.36 -6.8 4.19 16.98" y="0" font-size="15.45">(LSD)</text></g>
<g transform="translate(347.7,11.6)" fill="#000" stroke="#000" stroke-width="0.3"><text transform="scale(1.02,1)" x="-74.92 -67.11 -58.2 -46.65 -37.37 -27.7 -19.51 -10.07 -5.07 4.14 17.57 26.18 33.98 42.96 51.89 61.17 66.23" y="0" font-size="15.45">Lowerchromosphere</text></g>
<g transform="translate(347.7,27.7)" fill="#000" stroke="#000" stroke-width="0.3"><text transform="scale(0.92,1)" x="-17.2 -10.79 1.43 12.05" y="0" font-size="15.45">(Hα)</text></g>
<g transform="translate(568.5,11.6)" fill="#000" stroke="#000" stroke-width="0.3"><text transform="scale(1.02,1)" x="-77.6 -64.71 -60.85 -51.75 -42.56 -38.71 -25.58 -17.36 -7.89 -2.87 6.39 19.85 28.49 36.32 45.33 54.29 63.6 68.68" y="0" font-size="15.45">Middlechromosphere</text></g>
<g transform="translate(568.5,27.7)" fill="#000" stroke="#000" stroke-width="0.3"><text transform="scale(0.9,1)" x="-31.82 -25.66 -14.21 1.08 5.99 16 26.67" y="0" font-size="15.45">(CaIRT)</text></g>
<g transform="translate(15,13.8)" fill="#000" stroke="#000" stroke-width="0.6"><text transform="scale(0.98,1)" x="0.24" y="0" font-size="20.13" font-weight="bold">a</text></g>
<g transform="translate(235.9,13.8)" fill="#000" stroke="#000" stroke-width="0.6"><text transform="scale(1.1,1)" x="0.12" y="0" font-size="20.13" font-weight="bold">b</text></g>
<g transform="translate(458.3,13.8)" fill="#000" stroke="#000" stroke-width="0.6"><text transform="scale(0.93,1)" x="0.09" y="0" font-size="20.13" font-weight="bold">c</text></g>
<line x1="63.4" y1="40.3" x2="81.8" y2="40.3" stroke="#727272" stroke-width="1.55"/>
<g transform="translate(86.2,43.6)" fill="#000" stroke="#000" stroke-width="0.3"><text transform="scale(0.99,1)" x="-0.24 6.12 9.34 15.01 19.73 25.13 32.61" y="0" font-size="9.39">StokesI</text></g>
<line x1="129.7" y1="40.2" x2="147.3" y2="40.2" stroke="#9c1c48" stroke-width="1.1"/>
<circle cx="138.5" cy="40.2" r="1.3" fill="#9c1c48"/>
<g transform="translate(152.2,43.6)" fill="#000" stroke="#000" stroke-width="0.3"><text transform="scale(0.98,1)" x="-0.22 6.17 9.42 15.12 19.87 25.31 32.76" y="0" font-size="9.39">StokesV</text></g>
<line x1="283.9" y1="40.3" x2="302.3" y2="40.3" stroke="#727272" stroke-width="1.55"/>
<g transform="translate(306.7,43.6)" fill="#000" stroke="#000" stroke-width="0.3"><text transform="scale(0.99,1)" x="-0.24 6.12 9.34 15.01 19.73 25.13 32.61" y="0" font-size="9.39">StokesI</text></g>
<line x1="350.2" y1="40.2" x2="367.8" y2="40.2" stroke="#dcaa2a" stroke-width="1.1"/>
<circle cx="359" cy="40.2" r="1.3" fill="#dcaa2a"/>
<g transform="translate(372.7,43.6)" fill="#000" stroke="#000" stroke-width="0.3"><text transform="scale(0.98,1)" x="-0.22 6.17 9.42 15.12 19.87 25.31 32.76" y="0" font-size="9.39">StokesV</text></g>
<line x1="504.5" y1="40.3" x2="522.9" y2="40.3" stroke="#727272" stroke-width="1.55"/>
<g transform="translate(527.3,43.6)" fill="#000" stroke="#000" stroke-width="0.3"><text transform="scale(0.99,1)" x="-0.24 6.12 9.34 15.01 19.73 25.13 32.61" y="0" font-size="9.39">StokesI</text></g>
<line x1="570.8" y1="40.2" x2="588.4" y2="40.2" stroke="#1350a0" stroke-width="1.1"/>
<circle cx="579.6" cy="40.2" r="1.3" fill="#1350a0"/>
<g transform="translate(593.3,43.6)" fill="#000" stroke="#000" stroke-width="0.3"><text transform="scale(0.98,1)" x="-0.22 6.17 9.42 15.12 19.87 25.31 32.76" y="0" font-size="9.39">StokesV</text></g>
<g transform="translate(52.6,70.3)" fill="#000" stroke="#000" stroke-width="0.45"><text transform="scale(1.06,1)" x="-0.2 9.02 22.17 29.84 37.35" y="0" font-size="12.82" font-weight="bold">ADLeo</text></g>
<g transform="translate(52.6,221)" fill="#000" stroke="#000" stroke-width="0.45"><text transform="scale(1.05,1)" x="-0.12 8.57 20.08 29.48 40.73" y="0" font-size="12.82" font-weight="bold">YZCMi</text></g>
<g transform="translate(52.6,345.7)" fill="#000" stroke="#000" stroke-width="0.45"><text transform="scale(0.97,1)" x="-0.1 9.02 22.64 30.52 38.63" y="0" font-size="12.82" font-weight="bold">EVLac</text></g>
<g transform="translate(206.91,148.9)" fill="#000" stroke="#000" stroke-width="0.3"><text transform="scale(1.01,1)" x="-49.57 -45.55 -38.42 -31.58 -23.31 -15.28 -8.81" y="0" font-size="11.71">-262±7G</text></g>
<g transform="translate(206.91,278.2)" fill="#000" stroke="#000" stroke-width="0.3"><text transform="scale(1,1)" x="-56.8 -52.61 -45.6 -38.62 -30.41 -22.47 -15.35 -8.83" y="0" font-size="11.71">-665±25G</text></g>
<g transform="translate(206.91,403.4)" fill="#000" stroke="#000" stroke-width="0.3"><text transform="scale(1.01,1)" x="-56.47 -52.32 -45.35 -38.37 -30.25 -22.27 -15.24 -8.8" y="0" font-size="11.71">-448±14G</text></g>
<g transform="translate(268.08,147.7)" fill="#000" stroke="#000" stroke-width="0.3"><text transform="scale(1.02,1)" x="0.01 4.08 10.98 19.05 26.95 33.91 40.28" y="0" font-size="11.71">-99±10G</text></g>
<g transform="translate(268.08,277.7)" fill="#000" stroke="#000" stroke-width="0.3"><text transform="scale(1,1)" x="0.04 4.24 11.23 18.31 26.5 34.46 41.57 48.14" y="0" font-size="11.71">-456±21G</text></g>
<g transform="translate(268.08,402.7)" fill="#000" stroke="#000" stroke-width="0.3"><text transform="scale(1,1)" x="0.03 4.06 11.21 18.2 26.35 34.27 41.42 47.88" y="0" font-size="11.71">-208±24G</text></g>
<g transform="translate(488.69,53.2)" fill="#000" stroke="#000" stroke-width="0.3"><text transform="scale(0.99,1)" x="0.22 7.32 14.38 22.65 30.73 37.82 44.4" y="0" font-size="11.71">179±15G</text></g>
<g transform="translate(488.69,209.3)" fill="#000" stroke="#000" stroke-width="0.3"><text transform="scale(1,1)" x="0.05 4.12 11.25 18.36 26.56 34.69 41.75 48.25" y="0" font-size="11.71">-214±43G</text></g>
<g transform="translate(488.69,334.9)" fill="#000" stroke="#000" stroke-width="0.3"><text transform="scale(1,1)" x="0.24 7.27 14.3 22.54 30.6 37.64 44.7 51.25" y="0" font-size="11.71">795±119G</text></g>
<g transform="translate(8.6,95.75) rotate(-90)" fill="#000" stroke="#000" stroke-width="0.3"><text transform="scale(1.04,1)" x="-8.08 -4.64 -1.36 2.03" y="0" font-size="11.76" font-style="italic">I/Ic</text></g>
<g transform="translate(683.4,95.25) rotate(-90) translate(-9.44,0)"><g transform="translate(0,0)" fill="#000" stroke="#000" stroke-width="0.3"><text transform="scale(1.02,1)" x="-0.41 7.6 10.97" y="0" font-size="11.76" font-style="italic">V/I</text></g><g transform="translate(14.61,1.3)" fill="#000" stroke="#000" stroke-width="0.3"><text transform="scale(1.01,1)" x="0.08" y="0" font-size="8.23" font-style="italic">c</text></g></g>
<g transform="translate(8.6,239.65) rotate(-90)" fill="#000" stroke="#000" stroke-width="0.3"><text transform="scale(1.04,1)" x="-8.08 -4.64 -1.36 2.03" y="0" font-size="11.76" font-style="italic">I/Ic</text></g>
<g transform="translate(683.4,239.15) rotate(-90) translate(-9.44,0)"><g transform="translate(0,0)" fill="#000" stroke="#000" stroke-width="0.3"><text transform="scale(1.02,1)" x="-0.41 7.6 10.97" y="0" font-size="11.76" font-style="italic">V/I</text></g><g transform="translate(14.61,1.3)" fill="#000" stroke="#000" stroke-width="0.3"><text transform="scale(1.01,1)" x="0.08" y="0" font-size="8.23" font-style="italic">c</text></g></g>
<g transform="translate(8.6,364.7) rotate(-90)" fill="#000" stroke="#000" stroke-width="0.3"><text transform="scale(1.04,1)" x="-8.08 -4.64 -1.36 2.03" y="0" font-size="11.76" font-style="italic">I/Ic</text></g>
<g transform="translate(683.4,364.2) rotate(-90) translate(-9.44,0)"><g transform="translate(0,0)" fill="#000" stroke="#000" stroke-width="0.3"><text transform="scale(1.02,1)" x="-0.41 7.6 10.97" y="0" font-size="11.76" font-style="italic">V/I</text></g><g transform="translate(14.61,1.3)" fill="#000" stroke="#000" stroke-width="0.3"><text transform="scale(1.01,1)" x="0.08" y="0" font-size="8.23" font-style="italic">c</text></g></g>
<g transform="translate(683.4,174.25) rotate(-90) translate(-9.79,0)"><g transform="translate(0,0)" fill="#000" stroke="#000" stroke-width="0.3"><text transform="scale(1.01,1)" x="-0.33 8.34 11.72" y="0" font-size="11.76" font-style="italic">N/I</text></g><g transform="translate(15.32,1.3)" fill="#000" stroke="#000" stroke-width="0.3"><text transform="scale(1.01,1)" x="0.08" y="0" font-size="8.23" font-style="italic">c</text></g></g>
<g transform="translate(683.4,299.62) rotate(-90) translate(-9.79,0)"><g transform="translate(0,0)" fill="#000" stroke="#000" stroke-width="0.3"><text transform="scale(1.01,1)" x="-0.33 8.34 11.72" y="0" font-size="11.76" font-style="italic">N/I</text></g><g transform="translate(15.32,1.3)" fill="#000" stroke="#000" stroke-width="0.3"><text transform="scale(1.01,1)" x="0.08" y="0" font-size="8.23" font-style="italic">c</text></g></g>
<g transform="translate(683.4,424.8) rotate(-90) translate(-9.79,0)"><g transform="translate(0,0)" fill="#000" stroke="#000" stroke-width="0.3"><text transform="scale(1.01,1)" x="-0.33 8.34 11.72" y="0" font-size="11.76" font-style="italic">N/I</text></g><g transform="translate(15.32,1.3)" fill="#000" stroke="#000" stroke-width="0.3"><text transform="scale(1.01,1)" x="0.08" y="0" font-size="8.23" font-style="italic">c</text></g></g>
</svg>
</body></html>
